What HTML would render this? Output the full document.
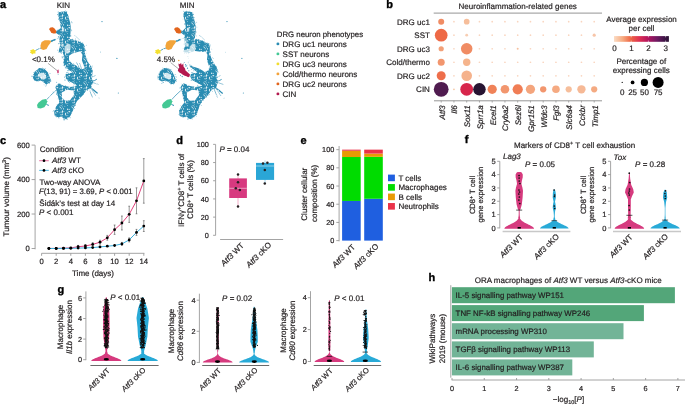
<!DOCTYPE html>
<html><head><meta charset="utf-8"><style>
html,body{margin:0;padding:0;background:#fff;}
svg{display:block;will-change:transform;filter:blur(0.3px);}
svg text{font-family:"Liberation Sans",sans-serif;text-rendering:geometricPrecision;stroke:#231f20;stroke-width:0.2px;}
</style></head><body>
<svg width="685" height="407" viewBox="0 0 685 407">
<rect width="685" height="407" fill="#fff"/>
<text x="0.00" y="8.20" font-size="11" text-anchor="start" font-weight="bold" fill="#000" style="stroke:#000;stroke-width:0.35px">a</text>
<text x="386.20" y="7.60" font-size="11" text-anchor="start" font-weight="bold" fill="#000" style="stroke:#000;stroke-width:0.35px">b</text>
<text x="0.00" y="143.80" font-size="11" text-anchor="start" font-weight="bold" fill="#000" style="stroke:#000;stroke-width:0.35px">c</text>
<text x="176.20" y="143.80" font-size="11" text-anchor="start" font-weight="bold" fill="#000" style="stroke:#000;stroke-width:0.35px">d</text>
<text x="300.50" y="143.80" font-size="11" text-anchor="start" font-weight="bold" fill="#000" style="stroke:#000;stroke-width:0.35px">e</text>
<text x="464.80" y="143.20" font-size="11" text-anchor="start" font-weight="bold" fill="#000" style="stroke:#000;stroke-width:0.35px">f</text>
<text x="57.50" y="293.20" font-size="11" text-anchor="start" font-weight="bold" fill="#000" style="stroke:#000;stroke-width:0.35px">g</text>
<text x="428.50" y="280.50" font-size="11" text-anchor="start" font-weight="bold" fill="#000" style="stroke:#000;stroke-width:0.35px">h</text>
<defs><pattern id="spk" width="12" height="12" patternUnits="userSpaceOnUse"><rect width="12" height="12" fill="#fff"/><circle cx="5.43" cy="6.72" r="0.58" fill="#000"/><circle cx="5.59" cy="6.09" r="0.50" fill="#000"/><circle cx="2.22" cy="6.14" r="0.51" fill="#000"/><circle cx="9.52" cy="1.13" r="0.43" fill="#000"/><circle cx="1.09" cy="9.72" r="0.52" fill="#000"/><circle cx="0.50" cy="11.79" r="0.59" fill="#000"/><circle cx="7.85" cy="7.39" r="0.39" fill="#000"/><circle cx="0.18" cy="6.34" r="0.36" fill="#000"/><circle cx="2.28" cy="2.90" r="0.36" fill="#000"/><circle cx="5.57" cy="5.29" r="0.56" fill="#000"/><circle cx="6.23" cy="7.68" r="0.47" fill="#000"/><circle cx="7.95" cy="5.49" r="0.42" fill="#000"/><circle cx="11.97" cy="11.95" r="0.56" fill="#000"/><circle cx="8.49" cy="3.78" r="0.41" fill="#000"/><circle cx="3.47" cy="0.84" r="0.54" fill="#000"/><circle cx="4.80" cy="10.16" r="0.45" fill="#000"/><circle cx="11.50" cy="10.17" r="0.35" fill="#000"/><circle cx="2.52" cy="10.92" r="0.47" fill="#000"/><circle cx="11.76" cy="4.77" r="0.37" fill="#000"/><circle cx="7.55" cy="9.34" r="0.42" fill="#000"/><circle cx="1.05" cy="3.99" r="0.59" fill="#000"/><circle cx="9.10" cy="1.42" r="0.41" fill="#000"/><circle cx="1.21" cy="0.72" r="0.55" fill="#000"/><circle cx="2.13" cy="6.71" r="0.46" fill="#000"/><circle cx="2.29" cy="8.78" r="0.38" fill="#000"/><circle cx="7.72" cy="1.40" r="0.46" fill="#000"/><circle cx="2.55" cy="3.24" r="0.59" fill="#000"/><circle cx="9.64" cy="3.65" r="0.57" fill="#000"/><circle cx="2.53" cy="4.73" r="0.56" fill="#000"/><circle cx="7.70" cy="1.20" r="0.60" fill="#000"/><circle cx="2.56" cy="3.10" r="0.54" fill="#000"/><circle cx="3.95" cy="3.56" r="0.37" fill="#000"/><circle cx="1.08" cy="6.99" r="0.41" fill="#000"/><circle cx="7.22" cy="4.46" r="0.46" fill="#000"/></pattern><mask id="umask" maskUnits="userSpaceOnUse" x="0" y="0" width="260" height="130"><rect x="0" y="0" width="260" height="130" fill="url(#spk)"/></mask></defs>
<g mask="url(#umask)">
<polygon points="58.40,13.40 59.40,11.90 62.80,11.40 66.70,11.90 67.70,13.90 68.70,17.80 70.20,22.70 70.70,27.70 70.50,33.00 70.00,37.00 69.80,39.00 74.60,40.00 79.10,41.60 83.60,44.10 84.80,46.70 84.80,52.40 85.60,55.50 86.30,58.10 88.20,62.60 91.50,67.10 92.70,71.60 91.50,76.20 90.50,78.10 89.20,83.50 86.50,90.30 82.40,95.70 77.00,101.10 74.30,106.50 73.00,110.50 70.30,116.00 66.20,119.30 63.50,118.60 61.50,116.60 58.10,117.30 54.70,116.00 54.10,111.90 56.10,106.50 59.50,102.40 58.10,97.00 56.80,91.60 55.40,87.60 56.80,84.90 59.50,83.50 63.50,85.80 70.30,87.00 75.70,86.20 77.00,85.50 72.00,82.80 67.00,80.00 65.50,77.00 65.80,74.00 70.00,73.20 72.50,72.50 68.00,69.00 64.50,66.00 63.30,62.60 64.40,57.00 62.70,52.40 59.30,52.40 58.80,50.20 60.50,44.50 59.90,43.40 59.40,39.40 59.90,35.50 57.50,34.00 55.80,32.80 56.30,30.80 58.20,30.20 60.80,27.70 60.40,23.70 58.90,17.80" fill="#2a8cb2" />
<polygon points="69.00,55.80 72.30,53.60 80.20,51.30 82.50,54.70 81.90,60.30 84.80,68.20 81.40,69.40 76.90,66.00 72.30,63.70 69.00,60.30" fill="#fff" />
<polygon points="61.80,92.50 67.00,89.80 73.50,90.60 74.00,95.00 70.00,100.30 65.00,100.80 62.00,97.50" fill="#fff" />
<line x1="85.5" y1="80" x2="70.5" y2="64.5" stroke="#2a8cb2" stroke-width="0.7"/>
<line x1="85.5" y1="80" x2="73.5" y2="63.2" stroke="#2a8cb2" stroke-width="0.6"/>
<line x1="85.5" y1="80" x2="76.5" y2="62.5" stroke="#2a8cb2" stroke-width="0.6"/>
<line x1="85.5" y1="80" x2="79.5" y2="63" stroke="#2a8cb2" stroke-width="0.5"/>
<line x1="85.5" y1="80" x2="95.5" y2="75.5" stroke="#2a8cb2" stroke-width="0.5"/>
<line x1="85.5" y1="80" x2="98.5" y2="84.5" stroke="#2a8cb2" stroke-width="0.5"/>
<line x1="85.5" y1="80" x2="96" y2="96" stroke="#2a8cb2" stroke-width="0.5"/>
<line x1="85.5" y1="80" x2="92.5" y2="97.5" stroke="#2a8cb2" stroke-width="0.6"/>
<line x1="85.5" y1="80" x2="66.5" y2="72.5" stroke="#2a8cb2" stroke-width="0.8"/>
<polygon points="85.50,74.00 91.00,76.00 93.00,82.00 91.00,88.00 86.00,90.00 81.00,86.00 79.00,80.00" fill="#2a8cb2" />
<polygon points="64.80,46.50 67.50,43.50 70.50,44.50 70.50,49.00 69.00,53.00 65.50,53.50 64.40,50.00" fill="#fff" fill-opacity="0.7"/>
<polygon points="61.50,43.50 63.80,43.80 63.60,46.70 61.40,46.50" fill="#fff" fill-opacity="0.7"/>
<polygon points="62.00,27.70 64.30,27.90 64.20,31.60 61.90,31.40" fill="#fff" fill-opacity="0.7"/>
<polyline points="74,35.2 76.5,37 79.5,39.8" fill="none" stroke="#2a8cb2" stroke-width="0.6" stroke-dasharray="0.7 0.6"/>
<polygon points="32.50,76.20 34.70,71.80 39.20,68.10 44.30,68.80 47.30,71.80 49.50,76.20 51.00,80.60 49.50,83.60 45.80,84.30 43.60,82.10 40.60,80.60 37.00,81.40 34.00,79.90" fill="#2a8cb2" />
<polygon points="38.00,74.00 42.00,72.50 45.50,74.50 46.50,78.00 44.00,79.50 40.00,78.00" fill="#fff" fill-opacity="0.8"/>
<polyline points="50.5,41.5 53,40.5 55.5,39.5" fill="none" stroke="#2a8cb2" stroke-width="1.6"/>
<polyline points="55.5,39.5 58,38.4 60,37.5" fill="none" stroke="#2a8cb2" stroke-width="0.5" stroke-dasharray="0.8 0.8"/>
<polyline points="35.5,50.5 38.5,48.9 41,48" fill="none" stroke="#2a8cb2" stroke-width="0.8"/>
<polyline points="46.5,99.8 51,95 56.9,89.5" fill="none" stroke="#2a8cb2" stroke-width="0.7"/>
<polyline points="46.5,104.5 49,105.5" fill="none" stroke="#2a8cb2" stroke-width="1"/>
<polyline points="89,82 94.7,80.5 97,79" fill="none" stroke="#2a8cb2" stroke-width="0.9"/>
<polyline points="88,86 93,89.5 97.7,93.5" fill="none" stroke="#2a8cb2" stroke-width="1.2"/>
<circle cx="102.00" cy="21.60" r="0.60" fill="#2a8cb2"/>
<circle cx="116.90" cy="58.40" r="0.60" fill="#2a8cb2"/>
<circle cx="118.30" cy="93.10" r="0.50" fill="#2a8cb2"/>
<circle cx="100.50" cy="52.00" r="0.40" fill="#2a8cb2"/>
<circle cx="99.00" cy="98.00" r="0.40" fill="#2a8cb2"/>
<polygon points="183.40,13.40 184.40,11.90 187.80,11.40 191.70,11.90 192.70,13.90 193.70,17.80 195.20,22.70 195.70,27.70 195.50,33.00 195.00,37.00 194.80,39.00 199.60,40.00 204.10,41.60 208.60,44.10 209.80,46.70 209.80,52.40 210.60,55.50 211.30,58.10 213.20,62.60 216.50,67.10 217.70,71.60 216.50,76.20 215.50,78.10 214.20,83.50 211.50,90.30 207.40,95.70 202.00,101.10 199.30,106.50 198.00,110.50 195.30,116.00 191.20,119.30 188.50,118.60 186.50,116.60 183.10,117.30 179.70,116.00 179.10,111.90 181.10,106.50 184.50,102.40 183.10,97.00 181.80,91.60 180.40,87.60 181.80,84.90 184.50,83.50 188.50,85.80 195.30,87.00 200.70,86.20 202.00,85.50 197.00,82.80 192.00,80.00 190.50,77.00 190.80,74.00 195.00,73.20 197.50,72.50 193.00,69.00 189.50,66.00 188.30,62.60 189.40,57.00 187.70,52.40 184.30,52.40 183.80,50.20 185.50,44.50 184.90,43.40 184.40,39.40 184.90,35.50 182.50,34.00 180.80,32.80 181.30,30.80 183.20,30.20 185.80,27.70 185.40,23.70 183.90,17.80" fill="#2a8cb2" />
<polygon points="194.00,55.80 197.30,53.60 205.20,51.30 207.50,54.70 206.90,60.30 209.80,68.20 206.40,69.40 201.90,66.00 197.30,63.70 194.00,60.30" fill="#fff" />
<polygon points="186.80,92.50 192.00,89.80 198.50,90.60 199.00,95.00 195.00,100.30 190.00,100.80 187.00,97.50" fill="#fff" />
<line x1="210.5" y1="80" x2="195.5" y2="64.5" stroke="#2a8cb2" stroke-width="0.7"/>
<line x1="210.5" y1="80" x2="198.5" y2="63.2" stroke="#2a8cb2" stroke-width="0.6"/>
<line x1="210.5" y1="80" x2="201.5" y2="62.5" stroke="#2a8cb2" stroke-width="0.6"/>
<line x1="210.5" y1="80" x2="204.5" y2="63" stroke="#2a8cb2" stroke-width="0.5"/>
<line x1="210.5" y1="80" x2="220.5" y2="75.5" stroke="#2a8cb2" stroke-width="0.5"/>
<line x1="210.5" y1="80" x2="223.5" y2="84.5" stroke="#2a8cb2" stroke-width="0.5"/>
<line x1="210.5" y1="80" x2="221" y2="96" stroke="#2a8cb2" stroke-width="0.5"/>
<line x1="210.5" y1="80" x2="217.5" y2="97.5" stroke="#2a8cb2" stroke-width="0.6"/>
<line x1="210.5" y1="80" x2="191.5" y2="72.5" stroke="#2a8cb2" stroke-width="0.8"/>
<polygon points="210.50,74.00 216.00,76.00 218.00,82.00 216.00,88.00 211.00,90.00 206.00,86.00 204.00,80.00" fill="#2a8cb2" />
<polygon points="188.00,53.50 195.00,51.00 203.00,52.00 206.00,55.00 207.00,62.00 209.00,70.00 205.00,72.00 199.00,68.50 193.00,66.50 189.00,63.50 187.50,58.00" fill="#fff" />
<polygon points="189.80,46.50 192.50,43.50 195.50,44.50 195.50,49.00 194.00,53.00 190.50,53.50 189.40,50.00" fill="#fff" fill-opacity="0.7"/>
<polygon points="186.50,43.50 188.80,43.80 188.60,46.70 186.40,46.50" fill="#fff" fill-opacity="0.7"/>
<polygon points="187.00,27.70 189.30,27.90 189.20,31.60 186.90,31.40" fill="#fff" fill-opacity="0.7"/>
<polyline points="199,35.2 201.5,37 204.5,39.8" fill="none" stroke="#2a8cb2" stroke-width="0.6" stroke-dasharray="0.7 0.6"/>
<polygon points="157.50,76.20 159.70,71.80 164.20,68.10 169.30,68.80 172.30,71.80 174.50,76.20 176.00,80.60 174.50,83.60 170.80,84.30 168.60,82.10 165.60,80.60 162.00,81.40 159.00,79.90" fill="#2a8cb2" />
<polygon points="163.00,74.00 167.00,72.50 170.50,74.50 171.50,78.00 169.00,79.50 165.00,78.00" fill="#fff" fill-opacity="0.8"/>
<polyline points="175.5,41.5 178,40.5 180.5,39.5" fill="none" stroke="#2a8cb2" stroke-width="1.6"/>
<polyline points="180.5,39.5 183,38.4 185,37.5" fill="none" stroke="#2a8cb2" stroke-width="0.5" stroke-dasharray="0.8 0.8"/>
<polyline points="160.5,50.5 163.5,48.9 166,48" fill="none" stroke="#2a8cb2" stroke-width="0.8"/>
<polyline points="171.5,99.8 176,95 181.9,89.5" fill="none" stroke="#2a8cb2" stroke-width="0.7"/>
<polyline points="171.5,104.5 174,105.5" fill="none" stroke="#2a8cb2" stroke-width="1"/>
<polyline points="214,82 219.7,80.5 222,79" fill="none" stroke="#2a8cb2" stroke-width="0.9"/>
<polyline points="213,86 218,89.5 222.7,93.5" fill="none" stroke="#2a8cb2" stroke-width="1.2"/>
<circle cx="227.00" cy="21.60" r="0.60" fill="#2a8cb2"/>
<circle cx="241.90" cy="58.40" r="0.60" fill="#2a8cb2"/>
<circle cx="243.30" cy="93.10" r="0.50" fill="#2a8cb2"/>
<circle cx="225.50" cy="52.00" r="0.40" fill="#2a8cb2"/>
<circle cx="224.00" cy="98.00" r="0.40" fill="#2a8cb2"/>
<g fill="#2a8cb2"><circle cx="58.2" cy="12.1" r="0.52"/><circle cx="61.1" cy="13.4" r="0.50"/><circle cx="60.8" cy="13.1" r="0.54"/><circle cx="65.3" cy="10.9" r="0.45"/><circle cx="64.6" cy="11.8" r="0.54"/><circle cx="66.7" cy="11.7" r="0.51"/><circle cx="68.1" cy="16.8" r="0.48"/><circle cx="67.9" cy="15.3" r="0.51"/><circle cx="69.2" cy="22.8" r="0.35"/><circle cx="68.6" cy="18.9" r="0.32"/><circle cx="68.2" cy="19.5" r="0.33"/><circle cx="72.3" cy="22.9" r="0.46"/><circle cx="70.1" cy="25.9" r="0.31"/><circle cx="71.4" cy="22.0" r="0.54"/><circle cx="70.0" cy="27.0" r="0.48"/><circle cx="71.0" cy="29.4" r="0.44"/><circle cx="71.7" cy="30.7" r="0.48"/><circle cx="70.8" cy="35.7" r="0.47"/><circle cx="70.7" cy="35.9" r="0.50"/><circle cx="68.7" cy="38.2" r="0.40"/><circle cx="72.3" cy="39.4" r="0.46"/><circle cx="75.6" cy="39.0" r="0.40"/><circle cx="72.5" cy="39.3" r="0.51"/><circle cx="75.0" cy="39.9" r="0.45"/><circle cx="76.9" cy="42.2" r="0.42"/><circle cx="78.0" cy="40.7" r="0.30"/><circle cx="80.2" cy="41.8" r="0.34"/><circle cx="82.7" cy="43.0" r="0.52"/><circle cx="80.3" cy="41.9" r="0.41"/><circle cx="86.2" cy="45.2" r="0.40"/><circle cx="84.1" cy="46.1" r="0.42"/><circle cx="85.6" cy="50.3" r="0.54"/><circle cx="85.3" cy="49.1" r="0.37"/><circle cx="83.7" cy="48.6" r="0.42"/><circle cx="86.4" cy="51.2" r="0.41"/><circle cx="86.7" cy="53.0" r="0.31"/><circle cx="85.4" cy="57.0" r="0.50"/><circle cx="87.0" cy="58.9" r="0.31"/><circle cx="87.9" cy="62.3" r="0.31"/><circle cx="86.3" cy="61.4" r="0.46"/><circle cx="92.2" cy="65.9" r="0.35"/><circle cx="89.8" cy="64.9" r="0.42"/><circle cx="90.9" cy="66.5" r="0.39"/><circle cx="91.1" cy="70.1" r="0.49"/><circle cx="92.5" cy="67.0" r="0.32"/><circle cx="92.5" cy="70.8" r="0.41"/><circle cx="92.7" cy="74.0" r="0.44"/><circle cx="92.3" cy="73.6" r="0.42"/><circle cx="92.3" cy="76.0" r="0.50"/><circle cx="90.7" cy="76.8" r="0.52"/><circle cx="90.3" cy="83.2" r="0.50"/><circle cx="91.6" cy="78.9" r="0.39"/><circle cx="89.3" cy="79.0" r="0.49"/><circle cx="89.5" cy="87.1" r="0.32"/><circle cx="87.4" cy="89.7" r="0.50"/><circle cx="89.5" cy="85.3" r="0.48"/><circle cx="86.1" cy="87.2" r="0.42"/><circle cx="87.2" cy="90.3" r="0.43"/><circle cx="85.1" cy="90.6" r="0.43"/><circle cx="82.3" cy="94.6" r="0.40"/><circle cx="83.5" cy="94.5" r="0.51"/><circle cx="81.4" cy="95.4" r="0.35"/><circle cx="78.3" cy="98.6" r="0.31"/><circle cx="76.3" cy="100.8" r="0.50"/><circle cx="78.0" cy="98.8" r="0.32"/><circle cx="77.6" cy="99.8" r="0.53"/><circle cx="80.5" cy="97.2" r="0.41"/><circle cx="75.6" cy="104.9" r="0.38"/><circle cx="75.0" cy="100.8" r="0.33"/><circle cx="75.5" cy="105.4" r="0.36"/><circle cx="74.8" cy="105.6" r="0.45"/><circle cx="74.1" cy="106.5" r="0.43"/><circle cx="74.3" cy="108.5" r="0.41"/><circle cx="71.0" cy="113.1" r="0.34"/><circle cx="71.6" cy="110.7" r="0.43"/><circle cx="69.3" cy="114.0" r="0.36"/><circle cx="71.7" cy="112.8" r="0.38"/><circle cx="69.6" cy="116.7" r="0.55"/><circle cx="67.1" cy="119.4" r="0.48"/><circle cx="70.6" cy="117.8" r="0.41"/><circle cx="64.7" cy="119.4" r="0.47"/><circle cx="63.9" cy="119.9" r="0.53"/><circle cx="59.0" cy="118.0" r="0.49"/><circle cx="59.6" cy="116.4" r="0.32"/><circle cx="58.8" cy="117.4" r="0.43"/><circle cx="56.5" cy="117.0" r="0.35"/><circle cx="56.3" cy="112.4" r="0.32"/><circle cx="55.6" cy="115.4" r="0.49"/><circle cx="53.7" cy="110.4" r="0.41"/><circle cx="56.7" cy="108.8" r="0.51"/><circle cx="53.0" cy="111.3" r="0.40"/><circle cx="55.0" cy="111.8" r="0.30"/><circle cx="59.6" cy="101.5" r="0.52"/><circle cx="57.2" cy="104.6" r="0.43"/><circle cx="59.7" cy="101.8" r="0.53"/><circle cx="58.7" cy="96.8" r="0.40"/><circle cx="59.3" cy="96.6" r="0.49"/><circle cx="57.2" cy="99.1" r="0.32"/><circle cx="57.5" cy="95.2" r="0.39"/><circle cx="56.8" cy="93.1" r="0.54"/><circle cx="56.5" cy="94.5" r="0.44"/><circle cx="53.1" cy="91.9" r="0.46"/><circle cx="56.0" cy="86.3" r="0.31"/><circle cx="56.2" cy="85.2" r="0.40"/><circle cx="55.8" cy="88.3" r="0.32"/><circle cx="58.4" cy="83.9" r="0.43"/><circle cx="56.7" cy="82.3" r="0.46"/><circle cx="63.8" cy="85.9" r="0.49"/><circle cx="60.2" cy="83.4" r="0.42"/><circle cx="58.9" cy="83.9" r="0.31"/><circle cx="69.0" cy="87.5" r="0.45"/><circle cx="65.7" cy="87.5" r="0.44"/><circle cx="65.3" cy="85.4" r="0.30"/><circle cx="65.7" cy="86.2" r="0.49"/><circle cx="73.6" cy="85.8" r="0.31"/><circle cx="76.0" cy="86.1" r="0.53"/><circle cx="70.2" cy="87.0" r="0.36"/><circle cx="77.7" cy="85.3" r="0.42"/><circle cx="72.6" cy="81.7" r="0.33"/><circle cx="73.3" cy="84.0" r="0.31"/><circle cx="75.1" cy="84.8" r="0.47"/><circle cx="69.6" cy="82.7" r="0.40"/><circle cx="65.0" cy="80.0" r="0.54"/><circle cx="68.4" cy="81.2" r="0.52"/><circle cx="67.5" cy="80.0" r="0.37"/><circle cx="64.9" cy="77.5" r="0.46"/><circle cx="66.1" cy="78.4" r="0.54"/><circle cx="66.0" cy="74.1" r="0.32"/><circle cx="64.5" cy="76.8" r="0.33"/><circle cx="68.4" cy="73.7" r="0.47"/><circle cx="67.5" cy="72.9" r="0.42"/><circle cx="69.7" cy="74.3" r="0.51"/><circle cx="73.4" cy="73.4" r="0.46"/><circle cx="69.3" cy="70.7" r="0.36"/><circle cx="68.0" cy="70.6" r="0.55"/><circle cx="65.4" cy="67.6" r="0.53"/><circle cx="66.2" cy="68.0" r="0.52"/><circle cx="68.7" cy="69.3" r="0.42"/><circle cx="63.2" cy="65.2" r="0.32"/><circle cx="64.0" cy="65.0" r="0.38"/><circle cx="63.8" cy="57.9" r="0.34"/><circle cx="63.6" cy="59.7" r="0.33"/><circle cx="62.3" cy="57.8" r="0.53"/><circle cx="61.3" cy="53.4" r="0.38"/><circle cx="62.2" cy="56.8" r="0.52"/><circle cx="63.4" cy="56.5" r="0.39"/><circle cx="60.9" cy="52.8" r="0.44"/><circle cx="58.3" cy="52.0" r="0.44"/><circle cx="59.3" cy="50.2" r="0.37"/><circle cx="57.7" cy="50.0" r="0.44"/><circle cx="59.5" cy="43.4" r="0.32"/><circle cx="59.8" cy="46.7" r="0.32"/><circle cx="60.4" cy="45.8" r="0.46"/><circle cx="60.4" cy="43.0" r="0.36"/><circle cx="59.9" cy="41.4" r="0.49"/><circle cx="58.5" cy="43.8" r="0.47"/><circle cx="58.2" cy="37.1" r="0.48"/><circle cx="58.4" cy="36.7" r="0.47"/><circle cx="58.4" cy="32.6" r="0.52"/><circle cx="55.2" cy="32.0" r="0.48"/><circle cx="55.4" cy="31.6" r="0.34"/><circle cx="58.6" cy="30.3" r="0.34"/><circle cx="58.1" cy="30.0" r="0.54"/><circle cx="58.2" cy="30.5" r="0.46"/><circle cx="60.6" cy="24.9" r="0.41"/><circle cx="60.8" cy="25.2" r="0.33"/><circle cx="60.3" cy="23.3" r="0.48"/><circle cx="59.6" cy="20.8" r="0.37"/><circle cx="60.2" cy="21.9" r="0.44"/><circle cx="58.5" cy="19.0" r="0.52"/><circle cx="57.8" cy="14.7" r="0.54"/><circle cx="58.7" cy="16.0" r="0.54"/><circle cx="57.7" cy="15.0" r="0.43"/><circle cx="34.4" cy="74.9" r="0.36"/><circle cx="31.7" cy="76.3" r="0.50"/><circle cx="33.7" cy="72.7" r="0.34"/><circle cx="36.0" cy="72.4" r="0.43"/><circle cx="38.3" cy="69.4" r="0.43"/><circle cx="35.4" cy="71.2" r="0.51"/><circle cx="38.7" cy="68.3" r="0.37"/><circle cx="43.7" cy="69.2" r="0.42"/><circle cx="42.6" cy="67.8" r="0.38"/><circle cx="41.5" cy="69.7" r="0.32"/><circle cx="47.1" cy="72.4" r="0.43"/><circle cx="45.2" cy="68.6" r="0.38"/><circle cx="47.1" cy="73.1" r="0.48"/><circle cx="47.9" cy="73.0" r="0.40"/><circle cx="50.0" cy="73.5" r="0.46"/><circle cx="48.5" cy="77.2" r="0.36"/><circle cx="50.2" cy="78.7" r="0.55"/><circle cx="51.0" cy="80.9" r="0.37"/><circle cx="49.7" cy="81.5" r="0.38"/><circle cx="50.1" cy="81.2" r="0.35"/><circle cx="45.8" cy="86.0" r="0.44"/><circle cx="46.0" cy="85.6" r="0.32"/><circle cx="46.6" cy="84.7" r="0.48"/><circle cx="44.0" cy="84.9" r="0.45"/><circle cx="43.4" cy="82.5" r="0.33"/><circle cx="44.2" cy="82.4" r="0.41"/><circle cx="37.8" cy="79.8" r="0.51"/><circle cx="38.8" cy="81.7" r="0.30"/><circle cx="35.0" cy="78.4" r="0.50"/><circle cx="34.9" cy="80.3" r="0.38"/><circle cx="33.2" cy="78.3" r="0.39"/><circle cx="33.6" cy="76.4" r="0.45"/></g>
<g fill="#2a8cb2"><circle cx="183.8" cy="11.2" r="0.44"/><circle cx="185.1" cy="11.7" r="0.48"/><circle cx="186.3" cy="11.3" r="0.51"/><circle cx="189.8" cy="11.1" r="0.35"/><circle cx="188.2" cy="12.6" r="0.47"/><circle cx="192.8" cy="12.2" r="0.42"/><circle cx="193.3" cy="14.3" r="0.53"/><circle cx="192.2" cy="15.6" r="0.37"/><circle cx="196.7" cy="22.2" r="0.45"/><circle cx="194.2" cy="17.7" r="0.52"/><circle cx="192.5" cy="18.2" r="0.35"/><circle cx="195.7" cy="25.5" r="0.35"/><circle cx="196.9" cy="27.1" r="0.38"/><circle cx="195.5" cy="25.2" r="0.45"/><circle cx="196.1" cy="32.0" r="0.42"/><circle cx="194.8" cy="29.2" r="0.34"/><circle cx="195.5" cy="31.6" r="0.38"/><circle cx="196.5" cy="35.9" r="0.34"/><circle cx="194.2" cy="36.2" r="0.40"/><circle cx="194.3" cy="36.8" r="0.49"/><circle cx="198.8" cy="39.4" r="0.51"/><circle cx="195.7" cy="39.9" r="0.53"/><circle cx="196.4" cy="39.4" r="0.53"/><circle cx="202.4" cy="41.0" r="0.53"/><circle cx="201.7" cy="40.3" r="0.38"/><circle cx="202.7" cy="41.1" r="0.41"/><circle cx="206.1" cy="43.0" r="0.47"/><circle cx="206.5" cy="43.7" r="0.40"/><circle cx="207.0" cy="43.0" r="0.54"/><circle cx="210.0" cy="45.1" r="0.50"/><circle cx="208.8" cy="43.5" r="0.53"/><circle cx="209.9" cy="46.8" r="0.43"/><circle cx="210.5" cy="52.1" r="0.37"/><circle cx="211.6" cy="49.3" r="0.50"/><circle cx="209.4" cy="54.6" r="0.31"/><circle cx="210.4" cy="52.0" r="0.42"/><circle cx="212.3" cy="57.8" r="0.35"/><circle cx="213.6" cy="58.5" r="0.35"/><circle cx="212.3" cy="62.7" r="0.34"/><circle cx="213.6" cy="62.0" r="0.46"/><circle cx="214.0" cy="63.3" r="0.33"/><circle cx="214.9" cy="67.6" r="0.52"/><circle cx="216.5" cy="66.9" r="0.53"/><circle cx="217.6" cy="69.4" r="0.38"/><circle cx="217.5" cy="70.8" r="0.36"/><circle cx="217.5" cy="69.2" r="0.47"/><circle cx="216.1" cy="75.3" r="0.38"/><circle cx="216.2" cy="75.2" r="0.46"/><circle cx="218.6" cy="71.9" r="0.43"/><circle cx="217.1" cy="77.6" r="0.37"/><circle cx="215.3" cy="79.1" r="0.37"/><circle cx="214.5" cy="82.9" r="0.44"/><circle cx="217.4" cy="77.5" r="0.31"/><circle cx="213.0" cy="85.8" r="0.53"/><circle cx="213.3" cy="87.9" r="0.46"/><circle cx="212.4" cy="84.6" r="0.43"/><circle cx="213.6" cy="85.8" r="0.43"/><circle cx="212.4" cy="91.4" r="0.34"/><circle cx="209.1" cy="94.5" r="0.49"/><circle cx="208.4" cy="93.9" r="0.42"/><circle cx="209.7" cy="91.0" r="0.31"/><circle cx="208.8" cy="92.4" r="0.52"/><circle cx="206.5" cy="96.8" r="0.42"/><circle cx="204.4" cy="98.3" r="0.50"/><circle cx="208.0" cy="95.4" r="0.44"/><circle cx="203.2" cy="100.5" r="0.38"/><circle cx="206.7" cy="97.1" r="0.43"/><circle cx="201.0" cy="102.3" r="0.51"/><circle cx="201.5" cy="102.6" r="0.47"/><circle cx="199.8" cy="105.3" r="0.40"/><circle cx="201.5" cy="105.4" r="0.31"/><circle cx="198.8" cy="105.8" r="0.34"/><circle cx="198.7" cy="108.1" r="0.36"/><circle cx="196.2" cy="116.1" r="0.37"/><circle cx="197.1" cy="112.9" r="0.55"/><circle cx="195.9" cy="114.1" r="0.36"/><circle cx="196.6" cy="114.5" r="0.53"/><circle cx="192.5" cy="119.4" r="0.45"/><circle cx="194.1" cy="116.9" r="0.31"/><circle cx="193.3" cy="115.4" r="0.45"/><circle cx="187.9" cy="118.9" r="0.51"/><circle cx="187.9" cy="117.2" r="0.39"/><circle cx="185.4" cy="116.6" r="0.35"/><circle cx="185.0" cy="116.9" r="0.41"/><circle cx="179.0" cy="114.4" r="0.35"/><circle cx="183.0" cy="117.4" r="0.39"/><circle cx="180.1" cy="114.9" r="0.37"/><circle cx="180.7" cy="113.7" r="0.37"/><circle cx="181.0" cy="111.7" r="0.39"/><circle cx="180.3" cy="105.8" r="0.31"/><circle cx="179.5" cy="110.4" r="0.52"/><circle cx="179.9" cy="109.1" r="0.31"/><circle cx="182.5" cy="105.1" r="0.34"/><circle cx="183.9" cy="104.2" r="0.41"/><circle cx="183.9" cy="105.3" r="0.37"/><circle cx="183.2" cy="98.0" r="0.35"/><circle cx="183.9" cy="100.0" r="0.40"/><circle cx="183.4" cy="98.5" r="0.39"/><circle cx="183.0" cy="95.9" r="0.46"/><circle cx="183.2" cy="91.7" r="0.37"/><circle cx="182.8" cy="93.1" r="0.47"/><circle cx="182.6" cy="88.4" r="0.36"/><circle cx="181.7" cy="89.6" r="0.40"/><circle cx="179.9" cy="88.0" r="0.42"/><circle cx="181.3" cy="87.6" r="0.42"/><circle cx="181.9" cy="84.1" r="0.32"/><circle cx="182.3" cy="84.7" r="0.45"/><circle cx="186.0" cy="84.7" r="0.31"/><circle cx="185.9" cy="84.6" r="0.40"/><circle cx="183.5" cy="83.7" r="0.42"/><circle cx="190.7" cy="86.4" r="0.39"/><circle cx="193.9" cy="86.6" r="0.47"/><circle cx="188.5" cy="86.3" r="0.54"/><circle cx="189.1" cy="85.2" r="0.49"/><circle cx="198.0" cy="85.9" r="0.40"/><circle cx="197.7" cy="85.2" r="0.40"/><circle cx="200.7" cy="86.4" r="0.43"/><circle cx="199.5" cy="87.9" r="0.34"/><circle cx="201.2" cy="86.3" r="0.36"/><circle cx="201.1" cy="85.3" r="0.36"/><circle cx="198.9" cy="83.2" r="0.46"/><circle cx="195.4" cy="79.2" r="0.38"/><circle cx="195.9" cy="81.3" r="0.48"/><circle cx="192.6" cy="78.7" r="0.51"/><circle cx="195.4" cy="81.6" r="0.44"/><circle cx="191.1" cy="80.4" r="0.43"/><circle cx="191.6" cy="80.1" r="0.34"/><circle cx="190.9" cy="75.7" r="0.32"/><circle cx="190.4" cy="76.3" r="0.41"/><circle cx="193.5" cy="73.4" r="0.52"/><circle cx="195.1" cy="73.5" r="0.43"/><circle cx="195.9" cy="73.5" r="0.36"/><circle cx="193.9" cy="70.7" r="0.49"/><circle cx="194.3" cy="68.5" r="0.41"/><circle cx="193.1" cy="68.8" r="0.50"/><circle cx="191.6" cy="69.6" r="0.36"/><circle cx="193.5" cy="68.5" r="0.54"/><circle cx="190.5" cy="67.1" r="0.40"/><circle cx="187.1" cy="65.1" r="0.55"/><circle cx="189.3" cy="65.4" r="0.31"/><circle cx="188.3" cy="58.2" r="0.33"/><circle cx="189.8" cy="60.9" r="0.42"/><circle cx="188.1" cy="62.0" r="0.51"/><circle cx="187.9" cy="56.5" r="0.49"/><circle cx="186.7" cy="53.4" r="0.44"/><circle cx="188.4" cy="53.8" r="0.33"/><circle cx="184.5" cy="53.4" r="0.33"/><circle cx="187.8" cy="52.5" r="0.34"/><circle cx="183.9" cy="51.7" r="0.42"/><circle cx="184.4" cy="48.4" r="0.32"/><circle cx="185.2" cy="45.5" r="0.35"/><circle cx="185.2" cy="47.4" r="0.52"/><circle cx="183.2" cy="48.3" r="0.40"/><circle cx="184.2" cy="44.0" r="0.46"/><circle cx="186.4" cy="41.6" r="0.55"/><circle cx="185.4" cy="40.4" r="0.34"/><circle cx="184.6" cy="39.7" r="0.32"/><circle cx="184.6" cy="37.2" r="0.43"/><circle cx="185.4" cy="37.7" r="0.30"/><circle cx="182.2" cy="31.9" r="0.48"/><circle cx="181.6" cy="30.4" r="0.49"/><circle cx="185.0" cy="31.5" r="0.40"/><circle cx="185.0" cy="30.4" r="0.31"/><circle cx="184.8" cy="29.6" r="0.39"/><circle cx="185.9" cy="24.3" r="0.46"/><circle cx="185.3" cy="28.2" r="0.38"/><circle cx="184.5" cy="24.4" r="0.35"/><circle cx="183.0" cy="18.9" r="0.34"/><circle cx="185.8" cy="23.7" r="0.41"/><circle cx="184.5" cy="23.6" r="0.38"/><circle cx="184.2" cy="15.3" r="0.52"/><circle cx="183.8" cy="16.0" r="0.55"/><circle cx="184.3" cy="15.8" r="0.40"/><circle cx="159.4" cy="73.7" r="0.47"/><circle cx="159.3" cy="72.5" r="0.39"/><circle cx="160.4" cy="72.9" r="0.39"/><circle cx="162.9" cy="70.6" r="0.52"/><circle cx="162.8" cy="67.9" r="0.44"/><circle cx="160.9" cy="70.2" r="0.41"/><circle cx="161.9" cy="69.8" r="0.36"/><circle cx="166.3" cy="68.0" r="0.31"/><circle cx="166.3" cy="68.9" r="0.45"/><circle cx="169.5" cy="69.6" r="0.55"/><circle cx="170.9" cy="72.4" r="0.55"/><circle cx="170.8" cy="69.7" r="0.55"/><circle cx="173.6" cy="75.7" r="0.46"/><circle cx="175.1" cy="74.5" r="0.43"/><circle cx="176.2" cy="76.9" r="0.48"/><circle cx="175.2" cy="76.4" r="0.43"/><circle cx="176.0" cy="80.7" r="0.46"/><circle cx="173.1" cy="76.0" r="0.42"/><circle cx="176.2" cy="79.6" r="0.49"/><circle cx="176.5" cy="81.4" r="0.34"/><circle cx="173.3" cy="84.0" r="0.39"/><circle cx="171.5" cy="83.8" r="0.35"/><circle cx="170.7" cy="82.4" r="0.53"/><circle cx="171.3" cy="84.1" r="0.46"/><circle cx="165.9" cy="80.2" r="0.47"/><circle cx="168.1" cy="81.5" r="0.38"/><circle cx="163.1" cy="82.3" r="0.47"/><circle cx="165.9" cy="81.7" r="0.42"/><circle cx="163.2" cy="82.6" r="0.45"/><circle cx="161.9" cy="83.6" r="0.47"/><circle cx="157.4" cy="77.8" r="0.40"/><circle cx="158.1" cy="78.7" r="0.51"/></g>
</g>
<polygon points="183.60,50.00 189.00,49.00 193.50,54.00 195.50,60.00 194.00,65.00 188.00,66.50 184.00,63.00 183.30,56.00" fill="#fff" fill-opacity="0.7"/>
<polygon points="184.00,38.00 187.00,37.50 187.50,46.00 185.00,47.00 184.00,43.00" fill="#fff" fill-opacity="0.4"/>
<polygon points="49.00,29.00 50.50,27.60 52.80,27.30 54.80,28.80 56.50,31.40 55.60,33.60 53.00,33.60 51.00,32.20" fill="#e2641c" />
<polygon points="40.40,45.80 41.60,42.10 44.70,40.30 49.00,40.30 51.40,40.90 50.20,43.30 48.30,45.80 46.50,48.90 43.40,50.10 41.00,48.90" fill="#f2a43a" />
<polygon points="30.10,50.30 32.00,49.80 33.30,48.90 34.20,50.00 36.20,50.40 35.30,51.80 35.60,53.60 33.50,53.40 32.20,54.60 31.30,53.20 29.80,52.60 30.80,51.50" fill="#f4e030" />
<polygon points="37.00,105.00 38.40,102.80 42.10,99.80 45.80,99.10 47.30,101.30 46.50,104.20 44.30,107.20 40.60,108.40 37.70,107.90" fill="#44c894" />
<polygon points="174.00,29.00 175.50,27.60 177.80,27.30 179.80,28.80 181.50,31.40 180.60,33.60 178.00,33.60 176.00,32.20" fill="#e2641c" />
<polygon points="165.40,45.80 166.60,42.10 169.70,40.30 174.00,40.30 176.40,40.90 175.20,43.30 173.30,45.80 171.50,48.90 168.40,50.10 166.00,48.90" fill="#f2a43a" />
<polygon points="155.10,50.30 157.00,49.80 158.30,48.90 159.20,50.00 161.20,50.40 160.30,51.80 160.60,53.60 158.50,53.40 157.20,54.60 156.30,53.20 154.80,52.60 155.80,51.50" fill="#f4e030" />
<polygon points="162.00,105.00 163.40,102.80 167.10,99.80 170.80,99.10 172.30,101.30 171.50,104.20 169.30,107.20 165.60,108.40 162.70,107.90" fill="#44c894" />
<text x="63.40" y="8.40" font-size="8" text-anchor="middle" fill="#231f20" >KIN</text>
<text x="187.10" y="8.40" font-size="8" text-anchor="middle" fill="#231f20" >MIN</text>
<text x="31.90" y="61.90" font-size="8" text-anchor="start" fill="#231f20" >&lt;0.1%</text>
<line x1="48.00" y1="63.30" x2="57.40" y2="70.80" stroke="#555" stroke-width="0.5" />
<ellipse cx="58.0" cy="71.8" rx="0.7" ry="1.7" fill="#c2185b"/>
<circle cx="57.30" cy="70.20" r="0.45" fill="#c2185b"/>
<circle cx="58.70" cy="70.00" r="0.45" fill="#c2185b"/>
<circle cx="58.10" cy="74.50" r="0.40" fill="#2a8cb2"/>
<text x="156.80" y="61.80" font-size="8" text-anchor="start" fill="#231f20" >4.5%</text>
<line x1="170.70" y1="62.60" x2="179.20" y2="69.40" stroke="#555" stroke-width="0.5" />
<circle cx="186.00" cy="66.00" r="0.70" fill="#2a8cb2"/>
<circle cx="187.50" cy="68.20" r="0.60" fill="#2a8cb2"/>
<circle cx="185.60" cy="64.60" r="0.50" fill="#2a8cb2"/>
<circle cx="182.20" cy="76.60" r="0.60" fill="#2a8cb2"/>
<circle cx="188.80" cy="70.80" r="0.50" fill="#2a8cb2"/>
<circle cx="184.20" cy="62.50" r="0.45" fill="#2a8cb2"/>
<circle cx="180.50" cy="75.20" r="0.50" fill="#2a8cb2"/>
<polygon points="178.50,63.50 180.00,64.30 181.00,62.80 181.80,65.20 183.30,63.20 183.50,66.50 185.00,68.50 185.50,70.50 187.80,72.40 190.00,74.60 189.50,76.50 188.20,77.20 186.50,76.20 184.70,75.80 182.50,74.50 181.30,73.50 179.00,72.30 177.80,70.50 178.30,69.00 179.30,67.50 178.60,65.50" fill="#b41950" />
<circle cx="178.80" cy="60.50" r="0.80" fill="#f2a43a"/>
<text x="276.80" y="37.20" font-size="7.8" text-anchor="start" fill="#231f20" >DRG neuron phenotypes</text>
<circle cx="277.90" cy="43.90" r="1.45" fill="#2a8cb3"/>
<text x="282.60" y="46.60" font-size="8" text-anchor="start" fill="#231f20" >DRG uc1 neurons</text>
<circle cx="277.90" cy="53.90" r="1.45" fill="#43c896"/>
<text x="282.60" y="56.60" font-size="8" text-anchor="start" fill="#231f20" >SST neurons</text>
<circle cx="277.90" cy="63.90" r="1.45" fill="#f2dc2e"/>
<text x="282.60" y="66.60" font-size="8" text-anchor="start" fill="#231f20" >DRG uc3 neurons</text>
<circle cx="277.90" cy="73.90" r="1.45" fill="#f3a23a"/>
<text x="282.60" y="76.60" font-size="8" text-anchor="start" fill="#231f20" >Cold/thermo neurons</text>
<circle cx="277.90" cy="83.90" r="1.45" fill="#e2641c"/>
<text x="282.60" y="86.60" font-size="8" text-anchor="start" fill="#231f20" >DRG uc2 neurons</text>
<circle cx="277.90" cy="93.90" r="1.45" fill="#b3194f"/>
<text x="282.60" y="96.60" font-size="8" text-anchor="start" fill="#231f20" >CIN</text>
<text x="517.70" y="9.30" font-size="8" text-anchor="middle" fill="#231f20" >Neuroinflammation-related genes</text>
<line x1="433.70" y1="13.10" x2="602.00" y2="13.10" stroke="#7a7a7a" stroke-width="0.8" />
<text x="429.90" y="24.50" font-size="8" text-anchor="end" fill="#231f20" >DRG uc1</text>
<text x="429.90" y="38.02" font-size="8" text-anchor="end" fill="#231f20" >SST</text>
<text x="429.90" y="51.54" font-size="8" text-anchor="end" fill="#231f20" >DRG uc3</text>
<text x="429.90" y="65.06" font-size="8" text-anchor="end" fill="#231f20" >Cold/thermo</text>
<text x="429.90" y="78.58" font-size="8" text-anchor="end" fill="#231f20" >DRG uc2</text>
<text x="429.90" y="92.10" font-size="8" text-anchor="end" fill="#231f20" >CIN</text>
<circle cx="441.20" cy="21.70" r="3.00" fill="#f08c64"/>
<circle cx="453.95" cy="21.70" r="0.85" fill="#f9d5bf"/>
<circle cx="466.70" cy="21.70" r="2.85" fill="#f6be9b"/>
<circle cx="479.45" cy="21.70" r="0.85" fill="#f9d5bf"/>
<circle cx="492.20" cy="21.70" r="0.85" fill="#f9d5bf"/>
<circle cx="504.95" cy="21.70" r="0.85" fill="#f9d5bf"/>
<circle cx="517.70" cy="21.70" r="0.85" fill="#f9d5bf"/>
<circle cx="530.45" cy="21.70" r="0.85" fill="#f9d5bf"/>
<circle cx="543.20" cy="21.70" r="0.85" fill="#f9d5bf"/>
<circle cx="555.95" cy="21.70" r="0.85" fill="#f9d5bf"/>
<circle cx="568.70" cy="21.70" r="0.85" fill="#f9d5bf"/>
<circle cx="581.45" cy="21.70" r="0.85" fill="#f9d5bf"/>
<circle cx="594.20" cy="21.70" r="0.85" fill="#f9d5bf"/>
<circle cx="441.20" cy="35.22" r="6.35" fill="#ee6946"/>
<circle cx="453.95" cy="35.22" r="0.85" fill="#f9d5bf"/>
<circle cx="466.70" cy="35.22" r="1.40" fill="#f8cdb2"/>
<circle cx="479.45" cy="35.22" r="0.85" fill="#f9d5bf"/>
<circle cx="492.20" cy="35.22" r="0.85" fill="#f9d5bf"/>
<circle cx="504.95" cy="35.22" r="0.85" fill="#f9d5bf"/>
<circle cx="517.70" cy="35.22" r="0.85" fill="#f9d5bf"/>
<circle cx="530.45" cy="35.22" r="0.85" fill="#f9d5bf"/>
<circle cx="543.20" cy="35.22" r="0.85" fill="#f9d5bf"/>
<circle cx="555.95" cy="35.22" r="0.85" fill="#f9d5bf"/>
<circle cx="568.70" cy="35.22" r="0.85" fill="#f9d5bf"/>
<circle cx="581.45" cy="35.22" r="0.85" fill="#f9d5bf"/>
<circle cx="594.20" cy="35.22" r="1.60" fill="#f7c5a8"/>
<circle cx="441.20" cy="48.74" r="2.60" fill="#f2a078"/>
<circle cx="453.95" cy="48.74" r="0.85" fill="#f9d5bf"/>
<circle cx="466.70" cy="48.74" r="5.75" fill="#f08c64"/>
<circle cx="479.45" cy="48.74" r="0.85" fill="#f9d5bf"/>
<circle cx="492.20" cy="48.74" r="0.85" fill="#f9d5bf"/>
<circle cx="504.95" cy="48.74" r="0.85" fill="#f9d5bf"/>
<circle cx="517.70" cy="48.74" r="1.00" fill="#f6c0a0"/>
<circle cx="530.45" cy="48.74" r="0.85" fill="#f9d5bf"/>
<circle cx="543.20" cy="48.74" r="0.85" fill="#f9d5bf"/>
<circle cx="555.95" cy="48.74" r="0.85" fill="#f9d5bf"/>
<circle cx="568.70" cy="48.74" r="0.85" fill="#f9d5bf"/>
<circle cx="581.45" cy="48.74" r="0.85" fill="#f9d5bf"/>
<circle cx="594.20" cy="48.74" r="0.85" fill="#f9d5bf"/>
<circle cx="441.20" cy="62.26" r="3.50" fill="#f2966e"/>
<circle cx="453.95" cy="62.26" r="0.85" fill="#f9d5bf"/>
<circle cx="466.70" cy="62.26" r="3.70" fill="#f5b48c"/>
<circle cx="479.45" cy="62.26" r="0.85" fill="#f9d5bf"/>
<circle cx="492.20" cy="62.26" r="0.85" fill="#f9d5bf"/>
<circle cx="504.95" cy="62.26" r="0.85" fill="#f9d5bf"/>
<circle cx="517.70" cy="62.26" r="0.85" fill="#f9d5bf"/>
<circle cx="530.45" cy="62.26" r="0.85" fill="#f9d5bf"/>
<circle cx="543.20" cy="62.26" r="0.85" fill="#f9d5bf"/>
<circle cx="555.95" cy="62.26" r="0.85" fill="#f9d5bf"/>
<circle cx="568.70" cy="62.26" r="0.85" fill="#f9d5bf"/>
<circle cx="581.45" cy="62.26" r="0.85" fill="#f9d5bf"/>
<circle cx="594.20" cy="62.26" r="0.85" fill="#f9d5bf"/>
<circle cx="441.20" cy="75.78" r="4.50" fill="#ee6e4b"/>
<circle cx="453.95" cy="75.78" r="0.85" fill="#f9d5bf"/>
<circle cx="466.70" cy="75.78" r="5.30" fill="#f5b28c"/>
<circle cx="479.45" cy="75.78" r="0.85" fill="#f9d5bf"/>
<circle cx="492.20" cy="75.78" r="0.85" fill="#f9d5bf"/>
<circle cx="504.95" cy="75.78" r="0.85" fill="#f9d5bf"/>
<circle cx="517.70" cy="75.78" r="0.85" fill="#f9d5bf"/>
<circle cx="530.45" cy="75.78" r="0.85" fill="#f9d5bf"/>
<circle cx="543.20" cy="75.78" r="0.85" fill="#f9d5bf"/>
<circle cx="555.95" cy="75.78" r="0.85" fill="#f9d5bf"/>
<circle cx="568.70" cy="75.78" r="0.85" fill="#f9d5bf"/>
<circle cx="581.45" cy="75.78" r="0.85" fill="#f9d5bf"/>
<circle cx="594.20" cy="75.78" r="0.85" fill="#f9d5bf"/>
<circle cx="441.20" cy="89.30" r="7.40" fill="#501c50"/>
<circle cx="453.95" cy="89.30" r="0.90" fill="#f5c9a8"/>
<circle cx="466.70" cy="89.30" r="6.40" fill="#d7264b"/>
<circle cx="479.45" cy="89.30" r="6.25" fill="#281432"/>
<circle cx="492.20" cy="89.30" r="4.60" fill="#f08258"/>
<circle cx="504.95" cy="89.30" r="4.30" fill="#f2966e"/>
<circle cx="517.70" cy="89.30" r="5.10" fill="#f07d55"/>
<circle cx="530.45" cy="89.30" r="4.60" fill="#f4a57d"/>
<circle cx="543.20" cy="89.30" r="3.15" fill="#f2966e"/>
<circle cx="555.95" cy="89.30" r="3.80" fill="#f5aa82"/>
<circle cx="568.70" cy="89.30" r="3.10" fill="#f6be9b"/>
<circle cx="581.45" cy="89.30" r="4.15" fill="#f6b996"/>
<circle cx="594.20" cy="89.30" r="3.10" fill="#f4aa82"/>
<line x1="434.00" y1="100.80" x2="602.00" y2="100.80" stroke="#7a7a7a" stroke-width="0.8" />
<line x1="441.20" y1="100.80" x2="441.20" y2="102.60" stroke="#7a7a7a" stroke-width="0.6" />
<text font-style="italic" transform="translate(444.50,105.20) rotate(-90)" font-size="8" text-anchor="end" fill="#231f20">Atf3</text>
<line x1="453.95" y1="100.80" x2="453.95" y2="102.60" stroke="#7a7a7a" stroke-width="0.6" />
<text font-style="italic" transform="translate(457.25,105.20) rotate(-90)" font-size="8" text-anchor="end" fill="#231f20">Il6</text>
<line x1="466.70" y1="100.80" x2="466.70" y2="102.60" stroke="#7a7a7a" stroke-width="0.6" />
<text font-style="italic" transform="translate(470.00,105.20) rotate(-90)" font-size="8" text-anchor="end" fill="#231f20">Sox11</text>
<line x1="479.45" y1="100.80" x2="479.45" y2="102.60" stroke="#7a7a7a" stroke-width="0.6" />
<text font-style="italic" transform="translate(482.75,105.20) rotate(-90)" font-size="8" text-anchor="end" fill="#231f20">Sprr1a</text>
<line x1="492.20" y1="100.80" x2="492.20" y2="102.60" stroke="#7a7a7a" stroke-width="0.6" />
<text font-style="italic" transform="translate(495.50,105.20) rotate(-90)" font-size="8" text-anchor="end" fill="#231f20">Ecel1</text>
<line x1="504.95" y1="100.80" x2="504.95" y2="102.60" stroke="#7a7a7a" stroke-width="0.6" />
<text font-style="italic" transform="translate(508.25,105.20) rotate(-90)" font-size="8" text-anchor="end" fill="#231f20">Cryba2</text>
<line x1="517.70" y1="100.80" x2="517.70" y2="102.60" stroke="#7a7a7a" stroke-width="0.6" />
<text font-style="italic" transform="translate(521.00,105.20) rotate(-90)" font-size="8" text-anchor="end" fill="#231f20">Sez6l</text>
<line x1="530.45" y1="100.80" x2="530.45" y2="102.60" stroke="#7a7a7a" stroke-width="0.6" />
<text font-style="italic" transform="translate(533.75,105.20) rotate(-90)" font-size="8" text-anchor="end" fill="#231f20">Gpr151</text>
<line x1="543.20" y1="100.80" x2="543.20" y2="102.60" stroke="#7a7a7a" stroke-width="0.6" />
<text font-style="italic" transform="translate(546.50,105.20) rotate(-90)" font-size="8" text-anchor="end" fill="#231f20">Wfdc3</text>
<line x1="555.95" y1="100.80" x2="555.95" y2="102.60" stroke="#7a7a7a" stroke-width="0.6" />
<text font-style="italic" transform="translate(559.25,105.20) rotate(-90)" font-size="8" text-anchor="end" fill="#231f20">Fgl3</text>
<line x1="568.70" y1="100.80" x2="568.70" y2="102.60" stroke="#7a7a7a" stroke-width="0.6" />
<text font-style="italic" transform="translate(572.00,105.20) rotate(-90)" font-size="8" text-anchor="end" fill="#231f20">Slc6a4</text>
<line x1="581.45" y1="100.80" x2="581.45" y2="102.60" stroke="#7a7a7a" stroke-width="0.6" />
<text font-style="italic" transform="translate(584.75,105.20) rotate(-90)" font-size="8" text-anchor="end" fill="#231f20">Cckbr</text>
<line x1="594.20" y1="100.80" x2="594.20" y2="102.60" stroke="#7a7a7a" stroke-width="0.6" />
<text font-style="italic" transform="translate(597.50,105.20) rotate(-90)" font-size="8" text-anchor="end" fill="#231f20">Timp1</text>
<text x="641.50" y="21.50" font-size="8" text-anchor="middle" fill="#231f20" >Average expression</text>
<text x="641.50" y="31.00" font-size="8" text-anchor="middle" fill="#231f20" >per cell</text>
<defs><linearGradient id="cb" x1="0" x2="1" y1="0" y2="0"><stop offset="0" stop-color="#fbdcc4"/><stop offset="0.16" stop-color="#f6aa80"/><stop offset="0.31" stop-color="#ee6444"/><stop offset="0.47" stop-color="#dc2e54"/><stop offset="0.62" stop-color="#b2145e"/><stop offset="0.78" stop-color="#701a62"/><stop offset="0.92" stop-color="#3e1446"/><stop offset="1" stop-color="#2a1234"/></linearGradient></defs>
<rect x="614.00" y="36.10" width="54.90" height="5.70" fill="url(#cb)" />
<line x1="631.20" y1="36.10" x2="631.20" y2="37.30" stroke="#fff" stroke-width="0.6" />
<line x1="631.20" y1="40.60" x2="631.20" y2="41.80" stroke="#fff" stroke-width="0.6" />
<line x1="648.40" y1="36.10" x2="648.40" y2="37.30" stroke="#fff" stroke-width="0.6" />
<line x1="648.40" y1="40.60" x2="648.40" y2="41.80" stroke="#fff" stroke-width="0.6" />
<line x1="665.60" y1="36.10" x2="665.60" y2="37.30" stroke="#fff" stroke-width="0.6" />
<line x1="665.60" y1="40.60" x2="665.60" y2="41.80" stroke="#fff" stroke-width="0.6" />
<text x="614.50" y="51.00" font-size="8" text-anchor="middle" fill="#231f20" >0</text>
<text x="631.55" y="51.00" font-size="8" text-anchor="middle" fill="#231f20" >1</text>
<text x="648.60" y="51.00" font-size="8" text-anchor="middle" fill="#231f20" >2</text>
<text x="665.65" y="51.00" font-size="8" text-anchor="middle" fill="#231f20" >3</text>
<text x="641.30" y="64.20" font-size="8" text-anchor="middle" fill="#231f20" >Percentage of</text>
<text x="641.30" y="73.10" font-size="8" text-anchor="middle" fill="#231f20" >expressing cells</text>
<circle cx="622.20" cy="82.40" r="0.60" fill="#000"/>
<text x="622.20" y="95.20" font-size="8" text-anchor="middle" fill="#231f20" >0</text>
<circle cx="632.60" cy="82.40" r="1.90" fill="#000"/>
<text x="632.60" y="95.20" font-size="8" text-anchor="middle" fill="#231f20" >25</text>
<circle cx="644.40" cy="82.40" r="3.60" fill="#000"/>
<text x="644.40" y="95.20" font-size="8" text-anchor="middle" fill="#231f20" >50</text>
<circle cx="658.10" cy="82.40" r="5.50" fill="#000"/>
<text x="658.10" y="95.20" font-size="8" text-anchor="middle" fill="#231f20" >75</text>
<line x1="35.10" y1="145.20" x2="35.10" y2="249.30" stroke="#9a9a9a" stroke-width="0.9" />
<line x1="31.60" y1="248.50" x2="35.10" y2="248.50" stroke="#9a9a9a" stroke-width="0.9" />
<text x="29.80" y="251.20" font-size="7.7" text-anchor="end" fill="#231f20" >0</text>
<line x1="31.60" y1="214.03" x2="35.10" y2="214.03" stroke="#9a9a9a" stroke-width="0.9" />
<text x="29.80" y="216.73" font-size="7.7" text-anchor="end" fill="#231f20" >200</text>
<line x1="31.60" y1="179.57" x2="35.10" y2="179.57" stroke="#9a9a9a" stroke-width="0.9" />
<text x="29.80" y="182.27" font-size="7.7" text-anchor="end" fill="#231f20" >400</text>
<line x1="31.60" y1="145.10" x2="35.10" y2="145.10" stroke="#9a9a9a" stroke-width="0.9" />
<text x="29.80" y="147.80" font-size="7.7" text-anchor="end" fill="#231f20" >600</text>
<line x1="41.60" y1="253.30" x2="144.40" y2="253.30" stroke="#9a9a9a" stroke-width="0.9" />
<line x1="41.60" y1="253.30" x2="41.60" y2="255.80" stroke="#9a9a9a" stroke-width="0.9" />
<text x="41.60" y="264.30" font-size="7.7" text-anchor="middle" fill="#231f20" >0</text>
<line x1="56.20" y1="253.30" x2="56.20" y2="255.80" stroke="#9a9a9a" stroke-width="0.9" />
<text x="56.20" y="264.30" font-size="7.7" text-anchor="middle" fill="#231f20" >2</text>
<line x1="70.80" y1="253.30" x2="70.80" y2="255.80" stroke="#9a9a9a" stroke-width="0.9" />
<text x="70.80" y="264.30" font-size="7.7" text-anchor="middle" fill="#231f20" >4</text>
<line x1="85.40" y1="253.30" x2="85.40" y2="255.80" stroke="#9a9a9a" stroke-width="0.9" />
<text x="85.40" y="264.30" font-size="7.7" text-anchor="middle" fill="#231f20" >6</text>
<line x1="100.00" y1="253.30" x2="100.00" y2="255.80" stroke="#9a9a9a" stroke-width="0.9" />
<text x="100.00" y="264.30" font-size="7.7" text-anchor="middle" fill="#231f20" >8</text>
<line x1="114.60" y1="253.30" x2="114.60" y2="255.80" stroke="#9a9a9a" stroke-width="0.9" />
<text x="114.60" y="264.30" font-size="7.7" text-anchor="middle" fill="#231f20" >10</text>
<line x1="129.20" y1="253.30" x2="129.20" y2="255.80" stroke="#9a9a9a" stroke-width="0.9" />
<text x="129.20" y="264.30" font-size="7.7" text-anchor="middle" fill="#231f20" >12</text>
<line x1="143.80" y1="253.30" x2="143.80" y2="255.80" stroke="#9a9a9a" stroke-width="0.9" />
<text x="143.80" y="264.30" font-size="7.7" text-anchor="middle" fill="#231f20" >14</text>
<text x="93.00" y="275.90" font-size="8" text-anchor="middle" fill="#231f20" >Time (days)</text>
<text transform="translate(8.8,196.8) rotate(-90)" font-size="8" text-anchor="middle" fill="#231f20">Tumour volume (mm<tspan font-size="5.5" dy="-2.8">3</tspan><tspan dy="2.8">)</tspan></text>
<line x1="78.10" y1="245.40" x2="78.10" y2="248.00" stroke="#444" stroke-width="0.55" />
<line x1="77.20" y1="245.40" x2="79.00" y2="245.40" stroke="#444" stroke-width="0.55" />
<line x1="77.20" y1="248.00" x2="79.00" y2="248.00" stroke="#444" stroke-width="0.55" />
<line x1="85.40" y1="244.60" x2="85.40" y2="247.40" stroke="#444" stroke-width="0.55" />
<line x1="84.50" y1="244.60" x2="86.30" y2="244.60" stroke="#444" stroke-width="0.55" />
<line x1="84.50" y1="247.40" x2="86.30" y2="247.40" stroke="#444" stroke-width="0.55" />
<line x1="92.70" y1="242.60" x2="92.70" y2="246.20" stroke="#444" stroke-width="0.55" />
<line x1="91.80" y1="242.60" x2="93.60" y2="242.60" stroke="#444" stroke-width="0.55" />
<line x1="91.80" y1="246.20" x2="93.60" y2="246.20" stroke="#444" stroke-width="0.55" />
<line x1="100.00" y1="240.20" x2="100.00" y2="244.20" stroke="#444" stroke-width="0.55" />
<line x1="99.10" y1="240.20" x2="100.90" y2="240.20" stroke="#444" stroke-width="0.55" />
<line x1="99.10" y1="244.20" x2="100.90" y2="244.20" stroke="#444" stroke-width="0.55" />
<line x1="107.30" y1="235.40" x2="107.30" y2="240.20" stroke="#444" stroke-width="0.55" />
<line x1="106.40" y1="235.40" x2="108.20" y2="235.40" stroke="#444" stroke-width="0.55" />
<line x1="106.40" y1="240.20" x2="108.20" y2="240.20" stroke="#444" stroke-width="0.55" />
<line x1="114.60" y1="225.00" x2="114.60" y2="234.40" stroke="#444" stroke-width="0.55" />
<line x1="113.70" y1="225.00" x2="115.50" y2="225.00" stroke="#444" stroke-width="0.55" />
<line x1="113.70" y1="234.40" x2="115.50" y2="234.40" stroke="#444" stroke-width="0.55" />
<line x1="121.90" y1="216.00" x2="121.90" y2="230.00" stroke="#444" stroke-width="0.55" />
<line x1="121.00" y1="216.00" x2="122.80" y2="216.00" stroke="#444" stroke-width="0.55" />
<line x1="121.00" y1="230.00" x2="122.80" y2="230.00" stroke="#444" stroke-width="0.55" />
<line x1="129.20" y1="206.20" x2="129.20" y2="222.40" stroke="#444" stroke-width="0.55" />
<line x1="128.30" y1="206.20" x2="130.10" y2="206.20" stroke="#444" stroke-width="0.55" />
<line x1="128.30" y1="222.40" x2="130.10" y2="222.40" stroke="#444" stroke-width="0.55" />
<line x1="136.50" y1="187.80" x2="136.50" y2="213.80" stroke="#444" stroke-width="0.55" />
<line x1="135.60" y1="187.80" x2="137.40" y2="187.80" stroke="#444" stroke-width="0.55" />
<line x1="135.60" y1="213.80" x2="137.40" y2="213.80" stroke="#444" stroke-width="0.55" />
<line x1="143.80" y1="158.60" x2="143.80" y2="203.20" stroke="#444" stroke-width="0.55" />
<line x1="142.90" y1="158.60" x2="144.70" y2="158.60" stroke="#444" stroke-width="0.55" />
<line x1="142.90" y1="203.20" x2="144.70" y2="203.20" stroke="#444" stroke-width="0.55" />
<line x1="121.90" y1="242.40" x2="121.90" y2="245.40" stroke="#444" stroke-width="0.55" />
<line x1="121.00" y1="242.40" x2="122.80" y2="242.40" stroke="#444" stroke-width="0.55" />
<line x1="121.00" y1="245.40" x2="122.80" y2="245.40" stroke="#444" stroke-width="0.55" />
<line x1="129.20" y1="237.90" x2="129.20" y2="241.90" stroke="#444" stroke-width="0.55" />
<line x1="128.30" y1="237.90" x2="130.10" y2="237.90" stroke="#444" stroke-width="0.55" />
<line x1="128.30" y1="241.90" x2="130.10" y2="241.90" stroke="#444" stroke-width="0.55" />
<line x1="136.50" y1="229.40" x2="136.50" y2="235.40" stroke="#444" stroke-width="0.55" />
<line x1="135.60" y1="229.40" x2="137.40" y2="229.40" stroke="#444" stroke-width="0.55" />
<line x1="135.60" y1="235.40" x2="137.40" y2="235.40" stroke="#444" stroke-width="0.55" />
<line x1="143.80" y1="220.70" x2="143.80" y2="231.50" stroke="#444" stroke-width="0.55" />
<line x1="142.90" y1="220.70" x2="144.70" y2="220.70" stroke="#444" stroke-width="0.55" />
<line x1="142.90" y1="231.50" x2="144.70" y2="231.50" stroke="#444" stroke-width="0.55" />
<polyline points="48.90,248.40 56.20,248.40 63.50,248.20 70.80,247.90 78.10,246.70 85.40,246.00 92.70,244.40 100.00,242.20 107.30,237.80 114.60,229.70 121.90,223.00 129.20,214.30 136.50,200.80 143.80,180.90" fill="none" stroke="#e1417d" stroke-width="1.0"/>
<polyline points="48.90,248.50 56.20,248.50 63.50,248.40 70.80,248.30 78.10,248.10 85.40,247.90 92.70,247.60 100.00,246.90 107.30,246.20 114.60,245.50 121.90,243.90 129.20,239.90 136.50,232.40 143.80,226.10" fill="none" stroke="#3cafdc" stroke-width="1.0"/>
<circle cx="48.90" cy="248.40" r="1.40" fill="#000"/>
<circle cx="56.20" cy="248.40" r="1.40" fill="#000"/>
<circle cx="63.50" cy="248.20" r="1.40" fill="#000"/>
<circle cx="70.80" cy="247.90" r="1.40" fill="#000"/>
<circle cx="78.10" cy="246.70" r="1.40" fill="#000"/>
<circle cx="85.40" cy="246.00" r="1.40" fill="#000"/>
<circle cx="92.70" cy="244.40" r="1.40" fill="#000"/>
<circle cx="100.00" cy="242.20" r="1.40" fill="#000"/>
<circle cx="107.30" cy="237.80" r="1.40" fill="#000"/>
<circle cx="114.60" cy="229.70" r="1.40" fill="#000"/>
<circle cx="121.90" cy="223.00" r="1.40" fill="#000"/>
<circle cx="129.20" cy="214.30" r="1.40" fill="#000"/>
<circle cx="136.50" cy="200.80" r="1.40" fill="#000"/>
<circle cx="143.80" cy="180.90" r="1.40" fill="#000"/>
<circle cx="48.90" cy="248.50" r="1.40" fill="#000"/>
<circle cx="56.20" cy="248.50" r="1.40" fill="#000"/>
<circle cx="63.50" cy="248.40" r="1.40" fill="#000"/>
<circle cx="70.80" cy="248.30" r="1.40" fill="#000"/>
<circle cx="78.10" cy="248.10" r="1.40" fill="#000"/>
<circle cx="85.40" cy="247.90" r="1.40" fill="#000"/>
<circle cx="92.70" cy="247.60" r="1.40" fill="#000"/>
<circle cx="100.00" cy="246.90" r="1.40" fill="#000"/>
<circle cx="107.30" cy="246.20" r="1.40" fill="#000"/>
<circle cx="114.60" cy="245.50" r="1.40" fill="#000"/>
<circle cx="121.90" cy="243.90" r="1.40" fill="#000"/>
<circle cx="129.20" cy="239.90" r="1.40" fill="#000"/>
<circle cx="136.50" cy="232.40" r="1.40" fill="#000"/>
<circle cx="143.80" cy="226.10" r="1.40" fill="#000"/>
<text x="39.80" y="151.90" font-size="8" text-anchor="start" fill="#231f20" >Condition</text>
<line x1="39.20" y1="160.70" x2="48.80" y2="160.70" stroke="#e77aa6" stroke-width="1.1" />
<circle cx="44.00" cy="160.70" r="1.35" fill="#000"/>
<text x="52" y="163.2" font-size="8" fill="#231f20"><tspan font-style="italic">Atf3</tspan> WT</text>
<line x1="39.20" y1="170.40" x2="48.80" y2="170.40" stroke="#5cbde4" stroke-width="1.1" />
<circle cx="44.00" cy="170.40" r="1.35" fill="#000"/>
<text x="52" y="173.0" font-size="8" fill="#231f20"><tspan font-style="italic">Atf3</tspan> cKO</text>
<text x="39.60" y="185.10" font-size="8" text-anchor="start" fill="#231f20" >Two-way ANOVA</text>
<text x="39.0" y="194.0" font-size="7.8" fill="#231f20"><tspan font-style="italic">F</tspan>(13, 91) = 3.69, <tspan font-style="italic">P</tspan> &lt; 0.001</text>
<text x="39.30" y="205.50" font-size="8" text-anchor="start" fill="#231f20" >Šidák’s test at day 14</text>
<text x="39.0" y="214.5" font-size="8" fill="#231f20"><tspan font-style="italic">P</tspan> &lt; 0.001</text>
<line x1="215.60" y1="144.40" x2="215.60" y2="235.40" stroke="#9a9a9a" stroke-width="0.9" />
<line x1="213.10" y1="235.30" x2="215.60" y2="235.30" stroke="#9a9a9a" stroke-width="0.9" />
<text x="208.90" y="237.90" font-size="7.3" text-anchor="end" fill="#231f20" >0</text>
<line x1="213.10" y1="217.11" x2="215.60" y2="217.11" stroke="#9a9a9a" stroke-width="0.9" />
<text x="208.90" y="219.71" font-size="7.3" text-anchor="end" fill="#231f20" >20</text>
<line x1="213.10" y1="198.93" x2="215.60" y2="198.93" stroke="#9a9a9a" stroke-width="0.9" />
<text x="208.90" y="201.53" font-size="7.3" text-anchor="end" fill="#231f20" >40</text>
<line x1="213.10" y1="180.74" x2="215.60" y2="180.74" stroke="#9a9a9a" stroke-width="0.9" />
<text x="208.90" y="183.34" font-size="7.3" text-anchor="end" fill="#231f20" >60</text>
<line x1="213.10" y1="162.56" x2="215.60" y2="162.56" stroke="#9a9a9a" stroke-width="0.9" />
<text x="208.90" y="165.16" font-size="7.3" text-anchor="end" fill="#231f20" >80</text>
<line x1="213.10" y1="144.37" x2="215.60" y2="144.37" stroke="#9a9a9a" stroke-width="0.9" />
<text x="208.90" y="146.97" font-size="7.3" text-anchor="end" fill="#231f20" >100</text>
<line x1="220.10" y1="239.50" x2="283.10" y2="239.50" stroke="#9a9a9a" stroke-width="0.9" />
<text x="219.4" y="152.3" font-size="8" fill="#231f20"><tspan font-style="italic">P</tspan> = 0.04</text>
<text transform="translate(183.6,190.3) rotate(-90)" font-size="8" text-anchor="middle" fill="#231f20">IFNγ<tspan font-size="5.5" dy="-2.8">+</tspan><tspan dy="2.8">CD8</tspan><tspan font-size="5.5" dy="-2.8">+</tspan><tspan dy="2.8"> T cells of</tspan></text>
<text transform="translate(193.3,189.6) rotate(-90)" font-size="8" text-anchor="middle" fill="#231f20">CD8<tspan font-size="5.5" dy="-2.8">+</tspan><tspan dy="2.8"> T cells (%)</tspan></text>
<line x1="238.00" y1="174.40" x2="238.00" y2="206.40" stroke="#f2a6c4" stroke-width="0.9" />
<rect x="229.20" y="178.40" width="17.70" height="19.60" fill="#d7397f" />
<line x1="229.20" y1="188.30" x2="246.90" y2="188.30" stroke="#f4b4cf" stroke-width="0.8" />
<circle cx="238.00" cy="174.60" r="1.25" fill="#231f20"/>
<circle cx="238.00" cy="182.30" r="1.25" fill="#231f20"/>
<circle cx="235.80" cy="188.30" r="1.25" fill="#231f20"/>
<circle cx="239.80" cy="189.90" r="1.25" fill="#231f20"/>
<circle cx="238.00" cy="206.40" r="1.25" fill="#231f20"/>
<line x1="265.00" y1="160.50" x2="265.00" y2="183.40" stroke="#9fd6ee" stroke-width="0.9" />
<rect x="256.00" y="162.90" width="18.10" height="17.00" fill="#2aa6d6" />
<line x1="256.00" y1="166.00" x2="274.10" y2="166.00" stroke="#a8dcf0" stroke-width="0.8" />
<circle cx="263.00" cy="163.50" r="1.25" fill="#231f20"/>
<circle cx="267.40" cy="162.70" r="1.25" fill="#231f20"/>
<circle cx="264.80" cy="170.00" r="1.25" fill="#231f20"/>
<circle cx="264.80" cy="183.40" r="1.25" fill="#231f20"/>
<text transform="translate(244.50,246.00) rotate(-45)" font-size="8" text-anchor="end" fill="#231f20"><tspan font-style="italic">Atf3</tspan> WT</text>
<text transform="translate(272.00,245.40) rotate(-45)" font-size="8" text-anchor="end" fill="#231f20"><tspan font-style="italic">Atf3</tspan> cKO</text>
<line x1="339.10" y1="146.00" x2="339.10" y2="241.30" stroke="#9a9a9a" stroke-width="0.9" />
<line x1="336.30" y1="240.60" x2="339.10" y2="240.60" stroke="#9a9a9a" stroke-width="0.9" />
<text x="334.30" y="243.20" font-size="7.3" text-anchor="end" fill="#231f20" >0</text>
<line x1="336.30" y1="222.41" x2="339.10" y2="222.41" stroke="#9a9a9a" stroke-width="0.9" />
<text x="334.30" y="225.01" font-size="7.3" text-anchor="end" fill="#231f20" >20</text>
<line x1="336.30" y1="204.22" x2="339.10" y2="204.22" stroke="#9a9a9a" stroke-width="0.9" />
<text x="334.30" y="206.82" font-size="7.3" text-anchor="end" fill="#231f20" >40</text>
<line x1="336.30" y1="186.03" x2="339.10" y2="186.03" stroke="#9a9a9a" stroke-width="0.9" />
<text x="334.30" y="188.63" font-size="7.3" text-anchor="end" fill="#231f20" >60</text>
<line x1="336.30" y1="167.84" x2="339.10" y2="167.84" stroke="#9a9a9a" stroke-width="0.9" />
<text x="334.30" y="170.44" font-size="7.3" text-anchor="end" fill="#231f20" >80</text>
<line x1="336.30" y1="149.65" x2="339.10" y2="149.65" stroke="#9a9a9a" stroke-width="0.9" />
<text x="334.30" y="152.25" font-size="7.3" text-anchor="end" fill="#231f20" >100</text>
<text transform="translate(307.3,194.2) rotate(-90)" font-size="8" text-anchor="middle" fill="#231f20">Cluster cellular</text>
<text transform="translate(316.6,193.4) rotate(-90)" font-size="8" text-anchor="middle" fill="#231f20">composition (%)</text>
<rect x="342.10" y="200.95" width="18.60" height="39.65" fill="#1f5fe0" />
<rect x="342.10" y="157.02" width="18.60" height="43.93" fill="#00dc00" />
<rect x="342.10" y="150.74" width="18.60" height="6.28" fill="#e89a04" />
<rect x="342.10" y="149.65" width="18.60" height="1.09" fill="#ea3249" />
<rect x="364.20" y="198.76" width="18.60" height="41.84" fill="#1f5fe0" />
<rect x="364.20" y="156.84" width="18.60" height="41.93" fill="#00dc00" />
<rect x="364.20" y="153.56" width="18.60" height="3.27" fill="#e89a04" />
<rect x="364.20" y="149.65" width="18.60" height="3.91" fill="#ea3249" />
<rect x="388.00" y="174.60" width="6.90" height="6.60" fill="#1f5fe0" />
<text x="398.40" y="180.70" font-size="8" text-anchor="start" fill="#231f20" >T cells</text>
<rect x="388.00" y="184.08" width="6.90" height="6.60" fill="#00dc00" />
<text x="398.40" y="190.18" font-size="8" text-anchor="start" fill="#231f20" >Macrophages</text>
<rect x="388.00" y="193.56" width="6.90" height="6.60" fill="#e89a04" />
<text x="398.40" y="199.66" font-size="8" text-anchor="start" fill="#231f20" >B cells</text>
<rect x="388.00" y="203.04" width="6.90" height="6.60" fill="#ea3249" />
<text x="398.40" y="209.14" font-size="8" text-anchor="start" fill="#231f20" >Neutrophils</text>
<text transform="translate(355.80,247.60) rotate(-45)" font-size="8" text-anchor="end" fill="#231f20"><tspan font-style="italic">Atf3</tspan> WT</text>
<text transform="translate(379.20,246.80) rotate(-45)" font-size="8" text-anchor="end" fill="#231f20"><tspan font-style="italic">Atf3</tspan> cKO</text>
<text x="514.0" y="148.1" font-size="8" fill="#231f20">Markers of CD8<tspan font-size="5.5" dy="-2.8">+</tspan><tspan dy="2.8"> T cell exhaustion</tspan></text>
<line x1="499.80" y1="161.30" x2="499.80" y2="228.30" stroke="#9a9a9a" stroke-width="0.9" />
<line x1="497.20" y1="227.90" x2="499.80" y2="227.90" stroke="#9a9a9a" stroke-width="0.9" />
<text x="495.60" y="230.60" font-size="7.5" text-anchor="end" fill="#231f20" >0</text>
<line x1="497.20" y1="214.58" x2="499.80" y2="214.58" stroke="#9a9a9a" stroke-width="0.9" />
<text x="495.60" y="217.28" font-size="7.5" text-anchor="end" fill="#231f20" >1</text>
<line x1="497.20" y1="201.26" x2="499.80" y2="201.26" stroke="#9a9a9a" stroke-width="0.9" />
<text x="495.60" y="203.96" font-size="7.5" text-anchor="end" fill="#231f20" >2</text>
<line x1="497.20" y1="187.94" x2="499.80" y2="187.94" stroke="#9a9a9a" stroke-width="0.9" />
<text x="495.60" y="190.64" font-size="7.5" text-anchor="end" fill="#231f20" >3</text>
<line x1="497.20" y1="174.62" x2="499.80" y2="174.62" stroke="#9a9a9a" stroke-width="0.9" />
<text x="495.60" y="177.32" font-size="7.5" text-anchor="end" fill="#231f20" >4</text>
<line x1="497.20" y1="161.30" x2="499.80" y2="161.30" stroke="#9a9a9a" stroke-width="0.9" />
<text x="495.60" y="164.00" font-size="7.5" text-anchor="end" fill="#231f20" >5</text>
<line x1="502.60" y1="231.60" x2="570.40" y2="231.60" stroke="#c8c8c8" stroke-width="1.5" />
<text transform="translate(475.20,195.0) rotate(-90)" font-size="7.6" text-anchor="middle" fill="#231f20">CD8<tspan font-size="5.2" dy="-2.7">+</tspan><tspan dy="2.7"> T cell</tspan></text>
<text transform="translate(482.90,194.6) rotate(-90)" font-size="7.6" text-anchor="middle" fill="#231f20">gene expression</text>
<line x1="610.60" y1="161.30" x2="610.60" y2="228.30" stroke="#9a9a9a" stroke-width="0.9" />
<line x1="608.00" y1="227.90" x2="610.60" y2="227.90" stroke="#9a9a9a" stroke-width="0.9" />
<text x="606.40" y="230.60" font-size="7.5" text-anchor="end" fill="#231f20" >0</text>
<line x1="608.00" y1="214.58" x2="610.60" y2="214.58" stroke="#9a9a9a" stroke-width="0.9" />
<text x="606.40" y="217.28" font-size="7.5" text-anchor="end" fill="#231f20" >1</text>
<line x1="608.00" y1="201.26" x2="610.60" y2="201.26" stroke="#9a9a9a" stroke-width="0.9" />
<text x="606.40" y="203.96" font-size="7.5" text-anchor="end" fill="#231f20" >2</text>
<line x1="608.00" y1="187.94" x2="610.60" y2="187.94" stroke="#9a9a9a" stroke-width="0.9" />
<text x="606.40" y="190.64" font-size="7.5" text-anchor="end" fill="#231f20" >3</text>
<line x1="608.00" y1="174.62" x2="610.60" y2="174.62" stroke="#9a9a9a" stroke-width="0.9" />
<text x="606.40" y="177.32" font-size="7.5" text-anchor="end" fill="#231f20" >4</text>
<line x1="608.00" y1="161.30" x2="610.60" y2="161.30" stroke="#9a9a9a" stroke-width="0.9" />
<text x="606.40" y="164.00" font-size="7.5" text-anchor="end" fill="#231f20" >5</text>
<line x1="613.00" y1="231.60" x2="681.00" y2="231.60" stroke="#c8c8c8" stroke-width="1.5" />
<text transform="translate(586.00,195.0) rotate(-90)" font-size="7.6" text-anchor="middle" fill="#231f20">CD8<tspan font-size="5.2" dy="-2.7">+</tspan><tspan dy="2.7"> T cell</tspan></text>
<text transform="translate(593.70,194.6) rotate(-90)" font-size="7.6" text-anchor="middle" fill="#231f20">gene expression</text>
<text x="503.00" y="159.10" font-size="8" text-anchor="start" font-style="italic" fill="#231f20" >Lag3</text>
<text x="525.0" y="167.4" font-size="8" fill="#231f20"><tspan font-style="italic">P</tspan> = 0.05</text>
<text x="613.60" y="159.70" font-size="8" text-anchor="start" font-style="italic" fill="#231f20" >Tox</text>
<text x="635.1" y="166.5" font-size="8" fill="#231f20"><tspan font-style="italic">P</tspan> = 0.28</text>
<polygon points="518.00,171.90 517.03,172.30 516.63,172.71 516.40,173.11 516.16,173.51 515.93,173.91 515.70,174.32 515.61,174.72 515.62,175.12 515.63,175.53 515.65,175.93 515.66,176.33 515.67,176.73 515.69,177.14 515.71,177.54 515.82,177.94 515.93,178.35 516.03,178.75 516.14,179.15 516.25,179.55 516.36,179.96 516.46,180.36 516.54,180.76 516.60,181.17 516.66,181.57 516.72,181.97 516.78,182.37 516.83,182.78 516.89,183.18 516.95,183.58 516.98,183.99 516.86,184.39 516.75,184.79 516.64,185.19 516.53,185.60 516.42,186.00 516.30,186.40 516.19,186.80 516.08,187.21 515.98,187.61 515.91,188.01 515.83,188.42 515.76,188.82 515.69,189.22 515.61,189.62 515.54,190.03 515.47,190.43 515.40,190.83 515.43,191.24 515.45,191.64 515.47,192.04 515.50,192.44 515.52,192.85 515.54,193.25 515.57,193.65 515.59,194.06 515.62,194.46 515.64,194.86 515.66,195.26 515.69,195.67 515.71,196.07 515.73,196.47 515.76,196.88 515.78,197.28 515.81,197.68 515.86,198.08 515.90,198.49 515.95,198.89 516.00,199.29 516.04,199.70 516.09,200.10 516.14,200.50 516.18,200.90 516.23,201.31 516.28,201.71 516.32,202.11 516.37,202.52 516.42,202.92 516.46,203.32 516.51,203.72 516.56,204.13 516.61,204.53 516.72,204.93 516.83,205.34 516.95,205.74 517.06,206.14 517.17,206.54 517.28,206.95 517.40,207.35 517.51,207.75 517.62,208.16 517.73,208.56 517.88,208.96 518.10,209.36 518.31,209.77 518.52,210.17 518.70,210.57 518.70,210.98 518.71,211.38 518.71,211.78 518.71,212.18 518.71,212.59 518.71,212.99 518.71,213.39 518.71,213.80 518.70,214.20 518.69,214.60 518.67,215.00 518.64,215.41 518.61,215.81 518.56,216.21 518.50,216.61 518.42,217.02 518.32,217.42 518.19,217.82 518.44,218.23 518.25,218.63 518.02,219.03 517.75,219.43 517.43,219.84 517.06,220.24 516.64,220.64 516.16,221.05 515.63,221.45 515.04,221.85 514.39,222.25 513.69,222.66 512.94,223.06 512.15,223.46 511.33,223.87 510.50,224.27 509.66,224.67 508.83,225.07 508.02,225.48 507.26,225.88 506.56,226.28 505.94,226.69 505.40,227.09 504.97,227.49 504.66,227.89 504.46,228.30 504.40,228.70 534.00,228.70 533.94,228.30 533.74,227.89 533.43,227.49 533.00,227.09 532.46,226.69 531.84,226.28 531.14,225.88 530.38,225.48 529.57,225.07 528.74,224.67 527.90,224.27 527.07,223.87 526.25,223.46 525.46,223.06 524.71,222.66 524.01,222.25 523.36,221.85 522.77,221.45 522.24,221.05 521.76,220.64 521.34,220.24 520.97,219.84 520.65,219.43 520.38,219.03 520.15,218.63 519.96,218.23 520.21,217.82 520.08,217.42 519.98,217.02 519.90,216.61 519.84,216.21 519.79,215.81 519.76,215.41 519.73,215.00 519.71,214.60 519.70,214.20 519.69,213.80 519.69,213.39 519.69,212.99 519.69,212.59 519.69,212.18 519.69,211.78 519.69,211.38 519.70,210.98 519.70,210.57 519.88,210.17 520.09,209.77 520.30,209.36 520.52,208.96 520.67,208.56 520.78,208.16 520.89,207.75 521.00,207.35 521.12,206.95 521.23,206.54 521.34,206.14 521.45,205.74 521.57,205.34 521.68,204.93 521.79,204.53 521.84,204.13 521.89,203.72 521.94,203.32 521.98,202.92 522.03,202.52 522.08,202.11 522.12,201.71 522.17,201.31 522.22,200.90 522.26,200.50 522.31,200.10 522.36,199.70 522.40,199.29 522.45,198.89 522.50,198.49 522.54,198.08 522.59,197.68 522.62,197.28 522.64,196.88 522.67,196.47 522.69,196.07 522.71,195.67 522.74,195.26 522.76,194.86 522.78,194.46 522.81,194.06 522.83,193.65 522.86,193.25 522.88,192.85 522.90,192.44 522.93,192.04 522.95,191.64 522.97,191.24 523.00,190.83 522.93,190.43 522.86,190.03 522.79,189.62 522.71,189.22 522.64,188.82 522.57,188.42 522.49,188.01 522.42,187.61 522.32,187.21 522.21,186.80 522.10,186.40 521.98,186.00 521.87,185.60 521.76,185.19 521.65,184.79 521.54,184.39 521.42,183.99 521.45,183.58 521.51,183.18 521.57,182.78 521.62,182.37 521.68,181.97 521.74,181.57 521.80,181.17 521.86,180.76 521.94,180.36 522.04,179.96 522.15,179.55 522.26,179.15 522.37,178.75 522.47,178.35 522.58,177.94 522.69,177.54 522.71,177.14 522.73,176.73 522.74,176.33 522.75,175.93 522.77,175.53 522.78,175.12 522.79,174.72 522.70,174.32 522.47,173.91 522.24,173.51 522.00,173.11 521.77,172.71 521.37,172.30 520.40,171.90" fill="#d63a7e"/>
<line x1="516.20" y1="210.10" x2="522.20" y2="210.10" stroke="#111" stroke-width="0.7" />
<circle cx="519.05" cy="175.50" r="0.85" fill="#111"/>
<circle cx="519.13" cy="178.00" r="0.85" fill="#111"/>
<circle cx="519.21" cy="181.00" r="0.85" fill="#111"/>
<circle cx="519.91" cy="183.50" r="0.85" fill="#111"/>
<circle cx="518.95" cy="190.00" r="0.85" fill="#111"/>
<circle cx="519.53" cy="192.00" r="0.85" fill="#111"/>
<circle cx="518.78" cy="194.00" r="0.85" fill="#111"/>
<circle cx="519.33" cy="197.00" r="0.85" fill="#111"/>
<circle cx="518.86" cy="200.00" r="0.85" fill="#111"/>
<circle cx="519.80" cy="203.50" r="0.85" fill="#111"/>
<rect x="517.60" y="227.00" width="3.20" height="1.60" fill="#000" />
<polygon points="553.80,189.50 553.64,189.90 553.48,190.31 553.35,190.71 553.27,191.11 553.18,191.52 553.09,191.92 553.00,192.32 552.92,192.72 552.89,193.13 552.87,193.53 552.85,193.93 552.84,194.34 552.82,194.74 552.80,195.14 552.79,195.55 552.77,195.95 552.75,196.35 552.74,196.76 552.72,197.16 552.70,197.56 552.78,197.96 552.87,198.37 552.96,198.77 553.05,199.17 553.14,199.58 553.24,199.98 553.33,200.38 553.42,200.79 553.51,201.19 553.60,201.59 553.52,202.00 553.43,202.40 553.35,202.80 553.27,203.21 553.18,203.61 553.10,204.01 553.06,204.41 553.01,204.82 552.97,205.22 552.92,205.62 552.88,206.03 552.84,206.43 552.79,206.83 552.75,207.24 552.71,207.64 552.78,208.04 552.86,208.45 552.95,208.85 553.04,209.25 553.13,209.65 553.22,210.06 553.31,210.46 553.39,210.86 553.48,211.27 553.57,211.67 553.62,212.07 553.65,212.48 553.69,212.88 553.72,213.28 553.75,213.69 553.78,214.09 553.81,214.49 553.83,214.89 553.86,215.30 553.87,215.70 553.88,216.10 553.88,216.51 553.84,216.91 553.78,217.31 553.71,217.72 553.61,218.12 553.49,218.52 553.34,218.93 553.45,219.33 553.22,219.73 552.94,220.14 552.61,220.54 552.22,220.94 551.77,221.34 551.25,221.75 550.66,222.15 550.00,222.55 549.28,222.96 548.50,223.36 547.67,223.76 546.81,224.17 545.92,224.57 545.02,224.97 544.14,225.38 543.29,225.78 542.50,226.18 541.79,226.58 541.17,226.99 540.67,227.39 540.30,227.79 540.08,228.20 540.00,228.60 568.60,228.60 568.52,228.20 568.30,227.79 567.93,227.39 567.43,226.99 566.81,226.58 566.10,226.18 565.31,225.78 564.46,225.38 563.58,224.97 562.68,224.57 561.79,224.17 560.93,223.76 560.10,223.36 559.32,222.96 558.60,222.55 557.94,222.15 557.35,221.75 556.83,221.34 556.38,220.94 555.99,220.54 555.66,220.14 555.38,219.73 555.15,219.33 555.26,218.93 555.11,218.52 554.99,218.12 554.89,217.72 554.82,217.31 554.76,216.91 554.72,216.51 554.72,216.10 554.73,215.70 554.74,215.30 554.77,214.89 554.79,214.49 554.82,214.09 554.85,213.69 554.88,213.28 554.91,212.88 554.95,212.48 554.98,212.07 555.03,211.67 555.12,211.27 555.21,210.86 555.29,210.46 555.38,210.06 555.47,209.65 555.56,209.25 555.65,208.85 555.74,208.45 555.82,208.04 555.89,207.64 555.85,207.24 555.81,206.83 555.76,206.43 555.72,206.03 555.68,205.62 555.63,205.22 555.59,204.82 555.54,204.41 555.50,204.01 555.42,203.61 555.33,203.21 555.25,202.80 555.17,202.40 555.08,202.00 555.00,201.59 555.09,201.19 555.18,200.79 555.27,200.38 555.36,199.98 555.46,199.58 555.55,199.17 555.64,198.77 555.73,198.37 555.82,197.96 555.90,197.56 555.88,197.16 555.86,196.76 555.85,196.35 555.83,195.95 555.81,195.55 555.80,195.14 555.78,194.74 555.76,194.34 555.75,193.93 555.73,193.53 555.71,193.13 555.68,192.72 555.60,192.32 555.51,191.92 555.42,191.52 555.33,191.11 555.25,190.71 555.12,190.31 554.96,189.90 554.80,189.50" fill="#28aad7"/>
<line x1="551.50" y1="220.60" x2="557.10" y2="220.60" stroke="#333" stroke-width="0.7" />
<circle cx="554.09" cy="190.00" r="0.85" fill="#111"/>
<circle cx="554.65" cy="195.00" r="0.85" fill="#111"/>
<circle cx="554.48" cy="196.50" r="0.85" fill="#111"/>
<circle cx="554.25" cy="206.00" r="0.85" fill="#111"/>
<circle cx="554.73" cy="208.50" r="0.85" fill="#111"/>
<rect x="552.70" y="227.00" width="3.20" height="1.60" fill="#000" />
<polygon points="629.10,172.70 629.07,173.10 629.03,173.50 629.00,173.90 628.96,174.30 628.93,174.70 628.89,175.10 628.86,175.50 628.83,175.90 628.80,176.30 628.77,176.70 628.73,177.10 628.70,177.50 628.67,177.90 628.64,178.30 628.61,178.70 628.55,179.10 628.48,179.50 628.42,179.90 628.35,180.30 628.28,180.70 628.22,181.10 628.15,181.50 628.08,181.90 628.02,182.30 627.95,182.70 627.88,183.10 627.82,183.50 627.75,183.90 627.68,184.30 627.62,184.70 627.46,185.10 627.27,185.50 627.09,185.90 626.90,186.30 626.72,186.70 626.53,187.10 626.34,187.50 626.16,187.90 625.97,188.30 625.79,188.70 625.60,189.10 625.53,189.50 625.46,189.90 625.39,190.30 625.32,190.70 625.25,191.10 625.18,191.50 625.11,191.90 625.04,192.30 625.10,192.70 625.29,193.10 625.49,193.50 625.68,193.90 625.87,194.30 626.07,194.70 626.26,195.10 626.46,195.50 626.65,195.90 626.81,196.30 626.97,196.70 627.12,197.10 627.27,197.50 627.43,197.90 627.58,198.30 627.73,198.70 627.89,199.10 628.00,199.50 628.00,199.90 628.00,200.30 628.00,200.70 628.00,201.10 628.00,201.50 628.00,201.90 628.00,202.30 628.00,202.70 628.00,203.10 628.00,203.50 628.00,203.90 628.00,204.30 628.00,204.70 628.00,205.10 628.00,205.50 628.00,205.90 628.00,206.30 628.01,206.70 628.02,207.10 628.03,207.50 628.04,207.90 628.05,208.30 628.06,208.70 628.06,209.10 628.07,209.50 628.08,209.90 628.09,210.30 628.10,210.70 628.11,211.10 628.12,211.50 628.12,211.90 628.13,212.30 628.13,212.70 628.14,213.10 628.14,213.50 628.14,213.90 628.13,214.30 628.12,214.70 628.11,215.10 628.10,215.50 628.08,215.90 628.05,216.30 628.00,216.70 627.94,217.10 627.85,217.50 627.74,217.90 627.61,218.30 628.42,218.70 628.18,219.10 627.91,219.50 627.59,219.90 627.22,220.30 626.80,220.70 626.32,221.10 625.78,221.50 625.19,221.90 624.54,222.30 623.85,222.70 623.10,223.10 622.32,223.50 621.52,223.90 620.69,224.30 619.86,224.70 619.05,225.10 618.26,225.50 617.51,225.90 616.82,226.30 616.21,226.70 615.68,227.10 615.26,227.50 614.95,227.90 614.76,228.30 614.70,228.70 644.10,228.70 644.04,228.30 643.85,227.90 643.54,227.50 643.12,227.10 642.59,226.70 641.98,226.30 641.29,225.90 640.54,225.50 639.75,225.10 638.94,224.70 638.11,224.30 637.28,223.90 636.48,223.50 635.70,223.10 634.95,222.70 634.26,222.30 633.61,221.90 633.02,221.50 632.48,221.10 632.00,220.70 631.58,220.30 631.21,219.90 630.89,219.50 630.62,219.10 630.38,218.70 631.19,218.30 631.06,217.90 630.95,217.50 630.86,217.10 630.80,216.70 630.75,216.30 630.72,215.90 630.70,215.50 630.69,215.10 630.68,214.70 630.67,214.30 630.66,213.90 630.66,213.50 630.66,213.10 630.67,212.70 630.67,212.30 630.68,211.90 630.68,211.50 630.69,211.10 630.70,210.70 630.71,210.30 630.72,209.90 630.73,209.50 630.74,209.10 630.74,208.70 630.75,208.30 630.76,207.90 630.77,207.50 630.78,207.10 630.79,206.70 630.80,206.30 630.80,205.90 630.80,205.50 630.80,205.10 630.80,204.70 630.80,204.30 630.80,203.90 630.80,203.50 630.80,203.10 630.80,202.70 630.80,202.30 630.80,201.90 630.80,201.50 630.80,201.10 630.80,200.70 630.80,200.30 630.80,199.90 630.80,199.50 630.91,199.10 631.07,198.70 631.22,198.30 631.37,197.90 631.53,197.50 631.68,197.10 631.83,196.70 631.99,196.30 632.15,195.90 632.34,195.50 632.54,195.10 632.73,194.70 632.93,194.30 633.12,193.90 633.31,193.50 633.51,193.10 633.70,192.70 633.76,192.30 633.69,191.90 633.62,191.50 633.55,191.10 633.48,190.70 633.41,190.30 633.34,189.90 633.27,189.50 633.20,189.10 633.01,188.70 632.83,188.30 632.64,187.90 632.46,187.50 632.27,187.10 632.08,186.70 631.90,186.30 631.71,185.90 631.53,185.50 631.34,185.10 631.18,184.70 631.12,184.30 631.05,183.90 630.98,183.50 630.92,183.10 630.85,182.70 630.78,182.30 630.72,181.90 630.65,181.50 630.58,181.10 630.52,180.70 630.45,180.30 630.38,179.90 630.32,179.50 630.25,179.10 630.19,178.70 630.16,178.30 630.13,177.90 630.10,177.50 630.07,177.10 630.03,176.70 630.00,176.30 629.97,175.90 629.94,175.50 629.91,175.10 629.87,174.70 629.84,174.30 629.80,173.90 629.77,173.50 629.73,173.10 629.70,172.70" fill="#d63a7e"/>
<line x1="626.40" y1="215.30" x2="632.40" y2="215.30" stroke="#111" stroke-width="0.7" />
<circle cx="629.24" cy="173.20" r="0.85" fill="#111"/>
<circle cx="629.74" cy="182.50" r="0.85" fill="#111"/>
<circle cx="629.54" cy="189.00" r="0.85" fill="#111"/>
<circle cx="629.33" cy="191.00" r="0.85" fill="#111"/>
<circle cx="628.79" cy="193.00" r="0.85" fill="#111"/>
<circle cx="629.29" cy="195.00" r="0.85" fill="#111"/>
<circle cx="629.09" cy="205.50" r="0.85" fill="#111"/>
<circle cx="629.32" cy="210.00" r="0.85" fill="#111"/>
<rect x="627.80" y="227.00" width="3.20" height="1.60" fill="#000" />
<polygon points="664.60,189.80 664.42,190.20 664.24,190.61 664.06,191.01 663.88,191.42 663.70,191.82 663.52,192.23 663.39,192.63 663.36,193.03 663.33,193.44 663.30,193.84 663.27,194.25 663.23,194.65 663.20,195.05 663.17,195.46 663.14,195.86 663.11,196.27 663.08,196.67 663.05,197.08 663.02,197.48 663.05,197.88 663.16,198.29 663.28,198.69 663.39,199.10 663.50,199.50 663.62,199.90 663.73,200.31 663.84,200.71 663.95,201.12 664.07,201.52 664.18,201.93 664.23,202.33 664.27,202.73 664.31,203.14 664.35,203.54 664.39,203.95 664.43,204.35 664.48,204.75 664.52,205.16 664.56,205.56 664.60,205.97 664.64,206.37 664.68,206.78 664.72,207.18 664.76,207.58 664.80,207.99 664.80,208.39 664.80,208.80 664.80,209.20 664.80,209.60 664.80,210.01 664.80,210.41 664.80,210.82 664.80,211.22 664.80,211.62 664.80,212.03 664.80,212.43 664.80,212.84 664.79,213.24 664.79,213.65 664.79,214.05 664.78,214.45 664.77,214.86 664.76,215.26 664.74,215.67 664.72,216.07 664.68,216.47 664.64,216.88 664.58,217.28 664.51,217.69 664.71,218.09 664.59,218.50 664.44,218.90 664.25,219.30 664.01,219.71 663.73,220.11 663.40,220.52 663.00,220.92 662.54,221.32 662.01,221.73 661.41,222.13 660.74,222.54 660.00,222.94 659.21,223.35 658.36,223.75 657.48,224.15 656.57,224.56 655.65,224.96 654.75,225.37 653.88,225.77 653.07,226.18 652.33,226.58 651.70,226.98 651.19,227.39 650.81,227.79 650.58,228.20 650.50,228.60 679.70,228.60 679.62,228.20 679.39,227.79 679.01,227.39 678.50,226.98 677.87,226.58 677.13,226.18 676.32,225.77 675.45,225.37 674.55,224.96 673.63,224.56 672.72,224.15 671.84,223.75 670.99,223.35 670.20,222.94 669.46,222.54 668.79,222.13 668.19,221.73 667.66,221.32 667.20,220.92 666.80,220.52 666.47,220.11 666.19,219.71 665.95,219.30 665.76,218.90 665.61,218.50 665.49,218.09 665.69,217.69 665.62,217.28 665.56,216.88 665.52,216.47 665.48,216.07 665.46,215.67 665.44,215.26 665.43,214.86 665.42,214.45 665.41,214.05 665.41,213.65 665.41,213.24 665.40,212.84 665.40,212.43 665.40,212.03 665.40,211.62 665.40,211.22 665.40,210.82 665.40,210.41 665.40,210.01 665.40,209.60 665.40,209.20 665.40,208.80 665.40,208.39 665.40,207.99 665.44,207.58 665.48,207.18 665.52,206.78 665.56,206.37 665.60,205.97 665.64,205.56 665.68,205.16 665.72,204.75 665.77,204.35 665.81,203.95 665.85,203.54 665.89,203.14 665.93,202.73 665.97,202.33 666.02,201.93 666.13,201.52 666.25,201.12 666.36,200.71 666.47,200.31 666.58,199.90 666.70,199.50 666.81,199.10 666.92,198.69 667.04,198.29 667.15,197.88 667.18,197.48 667.15,197.08 667.12,196.67 667.09,196.27 667.06,195.86 667.03,195.46 667.00,195.05 666.97,194.65 666.93,194.25 666.90,193.84 666.87,193.44 666.84,193.03 666.81,192.63 666.68,192.23 666.50,191.82 666.32,191.42 666.14,191.01 665.96,190.61 665.78,190.20 665.60,189.80" fill="#28aad7"/>
<line x1="662.10" y1="220.10" x2="668.10" y2="220.10" stroke="#222" stroke-width="0.7" />
<circle cx="665.55" cy="190.80" r="0.85" fill="#111"/>
<circle cx="664.89" cy="193.50" r="0.85" fill="#111"/>
<circle cx="665.29" cy="196.00" r="0.85" fill="#111"/>
<circle cx="665.27" cy="198.50" r="0.85" fill="#111"/>
<rect x="663.50" y="227.00" width="3.20" height="1.60" fill="#000" />
<text transform="translate(523.50,237.60) rotate(-45)" font-size="8" text-anchor="end" fill="#231f20"><tspan font-style="italic">Atf3</tspan> WT</text>
<text transform="translate(559.60,237.00) rotate(-45)" font-size="8" text-anchor="end" fill="#231f20"><tspan font-style="italic">Atf3</tspan> cKO</text>
<text transform="translate(633.20,237.60) rotate(-45)" font-size="8" text-anchor="end" fill="#231f20"><tspan font-style="italic">Atf3</tspan> WT</text>
<text transform="translate(668.60,237.00) rotate(-45)" font-size="8" text-anchor="end" fill="#231f20"><tspan font-style="italic">Atf3</tspan> cKO</text>
<line x1="85.90" y1="291.40" x2="85.90" y2="360.20" stroke="#9a9a9a" stroke-width="0.9" />
<line x1="83.20" y1="359.70" x2="85.90" y2="359.70" stroke="#9a9a9a" stroke-width="0.9" />
<text x="82.10" y="362.30" font-size="7.3" text-anchor="end" fill="#231f20" >0</text>
<line x1="83.20" y1="339.10" x2="85.90" y2="339.10" stroke="#9a9a9a" stroke-width="0.9" />
<text x="82.10" y="341.70" font-size="7.3" text-anchor="end" fill="#231f20" >2</text>
<line x1="83.20" y1="318.50" x2="85.90" y2="318.50" stroke="#9a9a9a" stroke-width="0.9" />
<text x="82.10" y="321.10" font-size="7.3" text-anchor="end" fill="#231f20" >4</text>
<line x1="83.20" y1="297.90" x2="85.90" y2="297.90" stroke="#9a9a9a" stroke-width="0.9" />
<text x="82.10" y="300.50" font-size="7.3" text-anchor="end" fill="#231f20" >6</text>
<line x1="90.40" y1="365.50" x2="158.60" y2="365.50" stroke="#6a6a6a" stroke-width="1.0" />
<text transform="translate(63.00,327.00) rotate(-90)" font-size="8" text-anchor="middle" fill="#231f20">Macrophage</text>
<text transform="translate(72.00,327.00) rotate(-90)" font-size="8" text-anchor="middle" fill="#231f20"><tspan font-style="italic">Il1b</tspan> expression</text>
<line x1="199.40" y1="293.70" x2="199.40" y2="362.90" stroke="#9a9a9a" stroke-width="0.9" />
<line x1="196.70" y1="362.40" x2="199.40" y2="362.40" stroke="#9a9a9a" stroke-width="0.9" />
<text x="195.60" y="365.00" font-size="7.3" text-anchor="end" fill="#231f20" >0</text>
<line x1="196.70" y1="331.30" x2="199.40" y2="331.30" stroke="#9a9a9a" stroke-width="0.9" />
<text x="195.60" y="333.90" font-size="7.3" text-anchor="end" fill="#231f20" >2</text>
<line x1="196.70" y1="300.20" x2="199.40" y2="300.20" stroke="#9a9a9a" stroke-width="0.9" />
<text x="195.60" y="302.80" font-size="7.3" text-anchor="end" fill="#231f20" >4</text>
<line x1="202.20" y1="365.50" x2="269.20" y2="365.50" stroke="#6a6a6a" stroke-width="1.0" />
<text transform="translate(174.00,331.00) rotate(-90)" font-size="8" text-anchor="middle" fill="#231f20">Macrophage</text>
<text transform="translate(183.00,331.00) rotate(-90)" font-size="8" text-anchor="middle" fill="#231f20"><tspan font-style="italic">Cd86</tspan> expression</text>
<line x1="310.50" y1="291.20" x2="310.50" y2="362.00" stroke="#9a9a9a" stroke-width="0.9" />
<line x1="307.80" y1="361.50" x2="310.50" y2="361.50" stroke="#9a9a9a" stroke-width="0.9" />
<text x="306.70" y="364.10" font-size="7.3" text-anchor="end" fill="#231f20" >0</text>
<line x1="307.80" y1="329.60" x2="310.50" y2="329.60" stroke="#9a9a9a" stroke-width="0.9" />
<text x="306.70" y="332.20" font-size="7.3" text-anchor="end" fill="#231f20" >2</text>
<line x1="307.80" y1="297.70" x2="310.50" y2="297.70" stroke="#9a9a9a" stroke-width="0.9" />
<text x="306.70" y="300.30" font-size="7.3" text-anchor="end" fill="#231f20" >4</text>
<line x1="313.70" y1="365.50" x2="381.20" y2="365.50" stroke="#6a6a6a" stroke-width="1.0" />
<text transform="translate(285.70,330.50) rotate(-90)" font-size="8" text-anchor="middle" fill="#231f20">Macrophage</text>
<text transform="translate(294.60,330.50) rotate(-90)" font-size="8" text-anchor="middle" fill="#231f20"><tspan font-style="italic">Cd80</tspan> expression</text>
<text x="110.2" y="300.4" font-size="8" fill="#231f20"><tspan font-style="italic">P</tspan> &lt; 0.01</text>
<text x="222.1" y="300.9" font-size="8" fill="#231f20"><tspan font-style="italic">P</tspan> = 0.02</text>
<text x="334.3" y="300.9" font-size="8" fill="#231f20"><tspan font-style="italic">P</tspan> &lt; 0.01</text>
<polygon points="105.90,297.30 105.82,297.70 105.75,298.11 105.67,298.51 105.59,298.91 105.52,299.31 105.44,299.72 105.37,300.12 105.29,300.52 105.21,300.92 105.14,301.33 105.06,301.73 104.98,302.13 104.91,302.53 104.83,302.94 104.74,303.34 104.63,303.74 104.52,304.14 104.41,304.55 104.30,304.95 104.20,305.35 104.09,305.75 103.98,306.16 103.87,306.56 103.77,306.96 103.66,307.36 103.55,307.77 103.44,308.17 103.33,308.57 103.29,308.97 103.29,309.38 103.28,309.78 103.27,310.18 103.26,310.58 103.25,310.99 103.24,311.39 103.23,311.79 103.22,312.19 103.22,312.60 103.21,313.00 103.20,313.40 103.19,313.80 103.18,314.21 103.17,314.61 103.16,315.01 103.16,315.41 103.15,315.82 103.14,316.22 103.13,316.62 103.12,317.02 103.11,317.43 103.10,317.83 103.10,318.23 103.10,318.63 103.10,319.04 103.10,319.44 103.10,319.84 103.10,320.24 103.10,320.65 103.10,321.05 103.10,321.45 103.10,321.85 103.10,322.26 103.10,322.66 103.10,323.06 103.10,323.46 103.10,323.87 103.10,324.27 103.10,324.67 103.10,325.07 103.10,325.48 103.10,325.88 103.10,326.28 103.10,326.68 103.10,327.09 103.11,327.49 103.12,327.89 103.14,328.29 103.15,328.70 103.16,329.10 103.18,329.50 103.19,329.91 103.21,330.31 103.22,330.71 103.24,331.11 103.25,331.52 103.26,331.92 103.28,332.32 103.29,332.72 103.31,333.13 103.32,333.53 103.34,333.93 103.35,334.33 103.37,334.74 103.38,335.14 103.39,335.54 103.41,335.94 103.42,336.35 103.44,336.75 103.45,337.15 103.47,337.55 103.48,337.96 103.49,338.36 103.55,338.76 103.61,339.16 103.68,339.57 103.75,339.97 103.82,340.37 103.89,340.77 103.96,341.18 104.03,341.58 104.10,341.98 104.17,342.38 104.24,342.79 104.31,343.19 104.38,343.59 104.45,343.99 104.52,344.40 104.59,344.80 104.66,345.20 104.73,345.60 104.80,346.01 104.87,346.41 104.94,346.81 105.01,347.21 105.08,347.62 105.15,348.02 105.21,348.42 105.28,348.82 105.33,349.23 105.39,349.63 105.43,350.03 105.46,350.43 105.48,350.84 105.47,351.24 105.43,351.64 105.33,352.04 105.18,352.45 104.98,352.85 105.11,353.25 104.75,353.65 104.32,354.06 103.81,354.46 103.20,354.86 102.50,355.26 101.71,355.67 100.83,356.07 99.88,356.47 98.86,356.87 97.80,357.28 96.72,357.68 95.66,358.08 94.64,358.48 93.71,358.89 92.89,359.29 92.22,359.69 91.71,360.09 91.40,360.50 91.30,360.90 121.30,360.90 121.20,360.50 120.89,360.09 120.38,359.69 119.71,359.29 118.89,358.89 117.96,358.48 116.94,358.08 115.88,357.68 114.80,357.28 113.74,356.87 112.72,356.47 111.77,356.07 110.89,355.67 110.10,355.26 109.40,354.86 108.79,354.46 108.28,354.06 107.85,353.65 107.49,353.25 107.62,352.85 107.42,352.45 107.27,352.04 107.17,351.64 107.13,351.24 107.12,350.84 107.14,350.43 107.17,350.03 107.21,349.63 107.27,349.23 107.32,348.82 107.39,348.42 107.45,348.02 107.52,347.62 107.59,347.21 107.66,346.81 107.73,346.41 107.80,346.01 107.87,345.60 107.94,345.20 108.01,344.80 108.08,344.40 108.15,343.99 108.22,343.59 108.29,343.19 108.36,342.79 108.43,342.38 108.50,341.98 108.57,341.58 108.64,341.18 108.71,340.77 108.78,340.37 108.85,339.97 108.92,339.57 108.99,339.16 109.05,338.76 109.11,338.36 109.12,337.96 109.13,337.55 109.15,337.15 109.16,336.75 109.18,336.35 109.19,335.94 109.21,335.54 109.22,335.14 109.23,334.74 109.25,334.33 109.26,333.93 109.28,333.53 109.29,333.13 109.31,332.72 109.32,332.32 109.34,331.92 109.35,331.52 109.36,331.11 109.38,330.71 109.39,330.31 109.41,329.91 109.42,329.50 109.44,329.10 109.45,328.70 109.46,328.29 109.48,327.89 109.49,327.49 109.50,327.09 109.50,326.68 109.50,326.28 109.50,325.88 109.50,325.48 109.50,325.07 109.50,324.67 109.50,324.27 109.50,323.87 109.50,323.46 109.50,323.06 109.50,322.66 109.50,322.26 109.50,321.85 109.50,321.45 109.50,321.05 109.50,320.65 109.50,320.24 109.50,319.84 109.50,319.44 109.50,319.04 109.50,318.63 109.50,318.23 109.50,317.83 109.49,317.43 109.48,317.02 109.47,316.62 109.46,316.22 109.45,315.82 109.44,315.41 109.44,315.01 109.43,314.61 109.42,314.21 109.41,313.80 109.40,313.40 109.39,313.00 109.38,312.60 109.38,312.19 109.37,311.79 109.36,311.39 109.35,310.99 109.34,310.58 109.33,310.18 109.32,309.78 109.31,309.38 109.31,308.97 109.27,308.57 109.16,308.17 109.05,307.77 108.94,307.36 108.83,306.96 108.73,306.56 108.62,306.16 108.51,305.75 108.40,305.35 108.30,304.95 108.19,304.55 108.08,304.14 107.97,303.74 107.86,303.34 107.77,302.94 107.69,302.53 107.62,302.13 107.54,301.73 107.46,301.33 107.39,300.92 107.31,300.52 107.23,300.12 107.16,299.72 107.08,299.31 107.01,298.91 106.93,298.51 106.85,298.11 106.78,297.70 106.70,297.30" fill="#d63a7e"/>
<polygon points="142.00,297.30 141.85,297.70 141.71,298.11 141.56,298.51 141.42,298.91 141.27,299.31 141.13,299.72 140.98,300.12 140.83,300.52 140.69,300.92 140.54,301.33 140.40,301.73 140.25,302.13 140.11,302.53 139.96,302.94 139.82,303.34 139.68,303.74 139.55,304.14 139.41,304.55 139.27,304.95 139.14,305.35 139.00,305.75 138.86,306.16 138.73,306.56 138.59,306.96 138.45,307.36 138.32,307.77 138.18,308.17 138.04,308.57 137.96,308.97 137.89,309.38 137.83,309.78 137.76,310.18 137.70,310.58 137.63,310.99 137.57,311.39 137.50,311.79 137.44,312.19 137.37,312.60 137.31,313.00 137.24,313.40 137.18,313.80 137.11,314.21 137.05,314.61 136.98,315.01 136.92,315.41 136.85,315.82 136.79,316.22 136.72,316.62 136.66,317.02 136.59,317.43 136.53,317.83 136.52,318.23 136.57,318.63 136.61,319.04 136.65,319.44 136.70,319.84 136.74,320.24 136.78,320.65 136.83,321.05 136.87,321.45 136.91,321.85 136.96,322.26 137.00,322.66 137.04,323.06 137.09,323.46 137.13,323.87 137.17,324.27 137.22,324.67 137.26,325.07 137.30,325.48 137.35,325.88 137.39,326.28 137.43,326.68 137.48,327.09 137.51,327.49 137.53,327.89 137.55,328.29 137.58,328.70 137.60,329.10 137.62,329.50 137.64,329.91 137.66,330.31 137.68,330.71 137.70,331.11 137.73,331.52 137.75,331.92 137.77,332.32 137.79,332.72 137.81,333.13 137.83,333.53 137.86,333.93 137.88,334.33 137.90,334.74 137.92,335.14 137.94,335.54 137.96,335.94 137.99,336.35 138.03,336.75 138.11,337.15 138.19,337.55 138.27,337.96 138.36,338.36 138.44,338.76 138.52,339.16 138.60,339.57 138.68,339.97 138.76,340.37 138.84,340.77 138.92,341.18 139.01,341.58 139.09,341.98 139.17,342.38 139.25,342.79 139.33,343.19 139.41,343.59 139.49,343.99 139.58,344.40 139.66,344.80 139.74,345.20 139.82,345.60 139.90,346.01 140.03,346.41 140.16,346.81 140.29,347.21 140.41,347.62 140.54,348.02 140.66,348.42 140.78,348.82 140.90,349.23 141.00,349.63 141.10,350.03 141.19,350.43 141.27,350.84 141.32,351.24 141.34,351.64 141.32,352.04 141.26,352.45 141.14,352.85 141.50,353.25 141.14,353.65 140.71,354.06 140.19,354.46 139.58,354.86 138.88,355.26 138.08,355.67 137.20,356.07 136.23,356.47 135.21,356.87 134.14,357.28 133.06,357.68 131.99,358.08 130.97,358.48 130.03,358.89 129.20,359.29 128.52,359.69 128.02,360.09 127.71,360.50 127.60,360.90 157.80,360.90 157.69,360.50 157.38,360.09 156.88,359.69 156.20,359.29 155.37,358.89 154.43,358.48 153.41,358.08 152.34,357.68 151.26,357.28 150.19,356.87 149.17,356.47 148.20,356.07 147.32,355.67 146.52,355.26 145.82,354.86 145.21,354.46 144.69,354.06 144.26,353.65 143.90,353.25 144.26,352.85 144.14,352.45 144.08,352.04 144.06,351.64 144.08,351.24 144.13,350.84 144.21,350.43 144.30,350.03 144.40,349.63 144.50,349.23 144.62,348.82 144.74,348.42 144.86,348.02 144.99,347.62 145.11,347.21 145.24,346.81 145.37,346.41 145.50,346.01 145.58,345.60 145.66,345.20 145.74,344.80 145.82,344.40 145.91,343.99 145.99,343.59 146.07,343.19 146.15,342.79 146.23,342.38 146.31,341.98 146.39,341.58 146.48,341.18 146.56,340.77 146.64,340.37 146.72,339.97 146.80,339.57 146.88,339.16 146.96,338.76 147.04,338.36 147.13,337.96 147.21,337.55 147.29,337.15 147.37,336.75 147.41,336.35 147.44,335.94 147.46,335.54 147.48,335.14 147.50,334.74 147.52,334.33 147.54,333.93 147.57,333.53 147.59,333.13 147.61,332.72 147.63,332.32 147.65,331.92 147.67,331.52 147.70,331.11 147.72,330.71 147.74,330.31 147.76,329.91 147.78,329.50 147.80,329.10 147.82,328.70 147.85,328.29 147.87,327.89 147.89,327.49 147.92,327.09 147.97,326.68 148.01,326.28 148.05,325.88 148.10,325.48 148.14,325.07 148.18,324.67 148.23,324.27 148.27,323.87 148.31,323.46 148.36,323.06 148.40,322.66 148.44,322.26 148.49,321.85 148.53,321.45 148.57,321.05 148.62,320.65 148.66,320.24 148.70,319.84 148.75,319.44 148.79,319.04 148.83,318.63 148.88,318.23 148.87,317.83 148.81,317.43 148.74,317.02 148.68,316.62 148.61,316.22 148.55,315.82 148.48,315.41 148.42,315.01 148.35,314.61 148.29,314.21 148.22,313.80 148.16,313.40 148.09,313.00 148.03,312.60 147.96,312.19 147.90,311.79 147.83,311.39 147.77,310.99 147.70,310.58 147.64,310.18 147.57,309.78 147.51,309.38 147.44,308.97 147.36,308.57 147.22,308.17 147.08,307.77 146.95,307.36 146.81,306.96 146.67,306.56 146.54,306.16 146.40,305.75 146.26,305.35 146.13,304.95 145.99,304.55 145.85,304.14 145.72,303.74 145.58,303.34 145.44,302.94 145.29,302.53 145.15,302.13 145.00,301.73 144.86,301.33 144.71,300.92 144.57,300.52 144.42,300.12 144.27,299.72 144.13,299.31 143.98,298.91 143.84,298.51 143.69,298.11 143.55,297.70 143.40,297.30" fill="#28aad7"/>
<circle cx="105.83" cy="310.99" r="0.60" fill="#111"/>
<circle cx="106.59" cy="342.87" r="0.60" fill="#111"/>
<circle cx="105.47" cy="311.33" r="0.60" fill="#111"/>
<circle cx="106.75" cy="339.21" r="0.60" fill="#111"/>
<circle cx="105.21" cy="340.66" r="0.60" fill="#111"/>
<circle cx="105.60" cy="303.87" r="0.60" fill="#111"/>
<circle cx="107.14" cy="342.93" r="0.60" fill="#111"/>
<circle cx="106.82" cy="317.35" r="0.60" fill="#111"/>
<circle cx="105.84" cy="334.43" r="0.60" fill="#111"/>
<circle cx="105.47" cy="343.00" r="0.60" fill="#111"/>
<circle cx="107.75" cy="345.53" r="0.60" fill="#111"/>
<circle cx="106.51" cy="321.99" r="0.60" fill="#111"/>
<circle cx="105.42" cy="316.73" r="0.60" fill="#111"/>
<circle cx="106.50" cy="331.87" r="0.60" fill="#111"/>
<circle cx="109.09" cy="328.67" r="0.60" fill="#111"/>
<circle cx="105.78" cy="347.64" r="0.60" fill="#111"/>
<circle cx="107.01" cy="318.36" r="0.60" fill="#111"/>
<circle cx="104.98" cy="333.35" r="0.60" fill="#111"/>
<circle cx="107.35" cy="347.88" r="0.60" fill="#111"/>
<circle cx="106.77" cy="318.66" r="0.60" fill="#111"/>
<circle cx="106.92" cy="331.15" r="0.60" fill="#111"/>
<circle cx="109.37" cy="309.26" r="0.60" fill="#111"/>
<circle cx="106.95" cy="317.13" r="0.60" fill="#111"/>
<circle cx="107.11" cy="335.35" r="0.60" fill="#111"/>
<circle cx="107.05" cy="303.09" r="0.60" fill="#111"/>
<circle cx="107.60" cy="329.53" r="0.60" fill="#111"/>
<circle cx="106.26" cy="335.36" r="0.60" fill="#111"/>
<circle cx="108.19" cy="334.81" r="0.60" fill="#111"/>
<circle cx="107.15" cy="337.02" r="0.60" fill="#111"/>
<circle cx="107.10" cy="299.77" r="0.60" fill="#111"/>
<circle cx="108.37" cy="341.12" r="0.60" fill="#111"/>
<circle cx="105.55" cy="300.18" r="0.60" fill="#111"/>
<circle cx="105.05" cy="316.20" r="0.60" fill="#111"/>
<circle cx="106.01" cy="304.45" r="0.60" fill="#111"/>
<circle cx="105.91" cy="337.67" r="0.60" fill="#111"/>
<circle cx="107.47" cy="305.10" r="0.60" fill="#111"/>
<circle cx="106.61" cy="326.83" r="0.60" fill="#111"/>
<circle cx="106.62" cy="324.10" r="0.60" fill="#111"/>
<circle cx="106.43" cy="313.40" r="0.60" fill="#111"/>
<circle cx="105.53" cy="319.28" r="0.60" fill="#111"/>
<circle cx="106.53" cy="301.66" r="0.60" fill="#111"/>
<circle cx="107.41" cy="326.35" r="0.60" fill="#111"/>
<circle cx="106.59" cy="321.51" r="0.60" fill="#111"/>
<circle cx="105.91" cy="340.66" r="0.60" fill="#111"/>
<circle cx="107.54" cy="306.59" r="0.60" fill="#111"/>
<circle cx="106.07" cy="318.92" r="0.60" fill="#111"/>
<circle cx="108.05" cy="329.00" r="0.60" fill="#111"/>
<circle cx="104.29" cy="319.26" r="0.60" fill="#111"/>
<circle cx="107.39" cy="299.52" r="0.60" fill="#111"/>
<circle cx="107.87" cy="334.99" r="0.60" fill="#111"/>
<circle cx="107.01" cy="333.92" r="0.60" fill="#111"/>
<circle cx="107.36" cy="300.40" r="0.60" fill="#111"/>
<circle cx="105.46" cy="304.40" r="0.60" fill="#111"/>
<circle cx="108.86" cy="330.51" r="0.60" fill="#111"/>
<circle cx="107.33" cy="340.54" r="0.60" fill="#111"/>
<circle cx="106.61" cy="302.84" r="0.60" fill="#111"/>
<circle cx="108.07" cy="311.78" r="0.60" fill="#111"/>
<circle cx="107.80" cy="315.11" r="0.60" fill="#111"/>
<circle cx="105.08" cy="322.96" r="0.60" fill="#111"/>
<circle cx="104.52" cy="345.38" r="0.60" fill="#111"/>
<circle cx="104.06" cy="326.83" r="0.60" fill="#111"/>
<circle cx="106.29" cy="318.33" r="0.60" fill="#111"/>
<circle cx="106.25" cy="313.67" r="0.60" fill="#111"/>
<circle cx="105.50" cy="317.03" r="0.60" fill="#111"/>
<circle cx="105.34" cy="320.03" r="0.60" fill="#111"/>
<circle cx="106.44" cy="320.09" r="0.60" fill="#111"/>
<circle cx="108.17" cy="321.09" r="0.60" fill="#111"/>
<circle cx="106.90" cy="302.03" r="0.60" fill="#111"/>
<circle cx="105.30" cy="324.87" r="0.60" fill="#111"/>
<circle cx="105.99" cy="309.91" r="0.60" fill="#111"/>
<circle cx="105.68" cy="303.86" r="0.60" fill="#111"/>
<circle cx="106.95" cy="322.72" r="0.60" fill="#111"/>
<circle cx="106.30" cy="310.29" r="0.60" fill="#111"/>
<circle cx="105.10" cy="299.44" r="0.60" fill="#111"/>
<circle cx="106.42" cy="318.92" r="0.60" fill="#111"/>
<circle cx="106.27" cy="328.07" r="0.60" fill="#111"/>
<circle cx="105.37" cy="346.08" r="0.60" fill="#111"/>
<circle cx="107.34" cy="317.08" r="0.60" fill="#111"/>
<circle cx="105.23" cy="313.76" r="0.60" fill="#111"/>
<circle cx="105.43" cy="314.44" r="0.60" fill="#111"/>
<circle cx="104.58" cy="323.38" r="0.60" fill="#111"/>
<circle cx="106.12" cy="301.60" r="0.60" fill="#111"/>
<circle cx="106.29" cy="303.55" r="0.60" fill="#111"/>
<circle cx="107.12" cy="337.99" r="0.60" fill="#111"/>
<circle cx="106.97" cy="319.85" r="0.60" fill="#111"/>
<circle cx="105.49" cy="313.00" r="0.60" fill="#111"/>
<circle cx="108.86" cy="332.31" r="0.60" fill="#111"/>
<circle cx="107.82" cy="339.75" r="0.60" fill="#111"/>
<circle cx="105.51" cy="315.08" r="0.60" fill="#111"/>
<circle cx="108.05" cy="337.63" r="0.60" fill="#111"/>
<circle cx="107.95" cy="330.47" r="0.60" fill="#111"/>
<circle cx="106.91" cy="301.35" r="0.60" fill="#111"/>
<circle cx="104.06" cy="329.61" r="0.60" fill="#111"/>
<circle cx="105.54" cy="330.30" r="0.60" fill="#111"/>
<circle cx="107.88" cy="300.09" r="0.60" fill="#111"/>
<circle cx="105.61" cy="327.41" r="0.60" fill="#111"/>
<circle cx="106.21" cy="299.27" r="0.60" fill="#111"/>
<circle cx="105.23" cy="332.30" r="0.60" fill="#111"/>
<circle cx="106.65" cy="347.20" r="0.60" fill="#111"/>
<circle cx="106.10" cy="337.29" r="0.60" fill="#111"/>
<circle cx="106.31" cy="320.59" r="0.60" fill="#111"/>
<circle cx="105.29" cy="320.94" r="0.60" fill="#111"/>
<circle cx="106.97" cy="320.41" r="0.60" fill="#111"/>
<circle cx="106.91" cy="335.00" r="0.60" fill="#111"/>
<circle cx="107.76" cy="302.50" r="0.60" fill="#111"/>
<circle cx="107.61" cy="331.65" r="0.60" fill="#111"/>
<circle cx="106.69" cy="325.86" r="0.60" fill="#111"/>
<circle cx="106.64" cy="314.19" r="0.60" fill="#111"/>
<circle cx="104.13" cy="345.74" r="0.60" fill="#111"/>
<circle cx="105.44" cy="309.35" r="0.60" fill="#111"/>
<circle cx="104.37" cy="319.33" r="0.60" fill="#111"/>
<circle cx="105.85" cy="305.04" r="0.60" fill="#111"/>
<circle cx="106.04" cy="341.81" r="0.60" fill="#111"/>
<circle cx="106.35" cy="320.17" r="0.60" fill="#111"/>
<circle cx="105.21" cy="317.50" r="0.60" fill="#111"/>
<circle cx="104.19" cy="323.19" r="0.60" fill="#111"/>
<circle cx="104.93" cy="332.79" r="0.60" fill="#111"/>
<circle cx="107.46" cy="304.16" r="0.60" fill="#111"/>
<circle cx="106.99" cy="335.37" r="0.60" fill="#111"/>
<circle cx="107.49" cy="308.90" r="0.60" fill="#111"/>
<circle cx="106.79" cy="315.97" r="0.60" fill="#111"/>
<circle cx="107.12" cy="327.98" r="0.60" fill="#111"/>
<circle cx="105.27" cy="324.48" r="0.60" fill="#111"/>
<circle cx="107.17" cy="340.27" r="0.60" fill="#111"/>
<circle cx="105.28" cy="316.55" r="0.60" fill="#111"/>
<circle cx="105.70" cy="347.05" r="0.60" fill="#111"/>
<circle cx="106.06" cy="315.07" r="0.60" fill="#111"/>
<circle cx="105.59" cy="311.80" r="0.60" fill="#111"/>
<circle cx="105.59" cy="334.79" r="0.60" fill="#111"/>
<circle cx="105.94" cy="302.14" r="0.60" fill="#111"/>
<circle cx="105.12" cy="339.42" r="0.60" fill="#111"/>
<circle cx="107.44" cy="320.20" r="0.60" fill="#111"/>
<circle cx="103.67" cy="329.26" r="0.60" fill="#111"/>
<circle cx="105.27" cy="343.57" r="0.60" fill="#111"/>
<circle cx="105.55" cy="321.33" r="0.60" fill="#111"/>
<circle cx="106.36" cy="335.90" r="0.60" fill="#111"/>
<circle cx="105.60" cy="304.01" r="0.60" fill="#111"/>
<circle cx="108.18" cy="300.72" r="0.60" fill="#111"/>
<circle cx="105.11" cy="333.23" r="0.60" fill="#111"/>
<circle cx="105.76" cy="315.32" r="0.60" fill="#111"/>
<circle cx="107.98" cy="306.43" r="0.60" fill="#111"/>
<circle cx="105.76" cy="338.48" r="0.60" fill="#111"/>
<circle cx="106.45" cy="303.79" r="0.60" fill="#111"/>
<circle cx="105.59" cy="308.76" r="0.60" fill="#111"/>
<circle cx="105.89" cy="325.21" r="0.60" fill="#111"/>
<circle cx="105.97" cy="336.48" r="0.60" fill="#111"/>
<circle cx="108.20" cy="327.54" r="0.60" fill="#111"/>
<circle cx="104.91" cy="332.77" r="0.60" fill="#111"/>
<circle cx="107.87" cy="316.84" r="0.60" fill="#111"/>
<circle cx="105.80" cy="313.25" r="0.60" fill="#111"/>
<circle cx="106.18" cy="341.02" r="0.60" fill="#111"/>
<circle cx="105.50" cy="311.21" r="0.60" fill="#111"/>
<circle cx="105.53" cy="300.00" r="0.60" fill="#111"/>
<circle cx="106.12" cy="313.36" r="0.60" fill="#111"/>
<circle cx="107.11" cy="311.39" r="0.60" fill="#111"/>
<circle cx="107.18" cy="312.36" r="0.60" fill="#111"/>
<circle cx="106.09" cy="312.97" r="0.60" fill="#111"/>
<circle cx="107.52" cy="341.82" r="0.60" fill="#111"/>
<circle cx="107.59" cy="306.85" r="0.60" fill="#111"/>
<circle cx="104.73" cy="328.86" r="0.60" fill="#111"/>
<circle cx="106.17" cy="325.65" r="0.60" fill="#111"/>
<circle cx="105.03" cy="331.34" r="0.60" fill="#111"/>
<circle cx="106.43" cy="344.04" r="0.60" fill="#111"/>
<circle cx="105.51" cy="301.66" r="0.60" fill="#111"/>
<circle cx="105.12" cy="344.90" r="0.60" fill="#111"/>
<circle cx="107.68" cy="310.44" r="0.60" fill="#111"/>
<circle cx="105.15" cy="321.19" r="0.60" fill="#111"/>
<circle cx="107.52" cy="345.24" r="0.60" fill="#111"/>
<circle cx="105.42" cy="323.78" r="0.60" fill="#111"/>
<circle cx="105.91" cy="310.38" r="0.60" fill="#111"/>
<circle cx="108.19" cy="345.54" r="0.60" fill="#111"/>
<circle cx="107.87" cy="331.20" r="0.60" fill="#111"/>
<circle cx="106.69" cy="302.52" r="0.60" fill="#111"/>
<circle cx="106.02" cy="326.71" r="0.60" fill="#111"/>
<circle cx="107.19" cy="304.87" r="0.60" fill="#111"/>
<circle cx="106.24" cy="341.73" r="0.60" fill="#111"/>
<circle cx="106.11" cy="302.01" r="0.60" fill="#111"/>
<circle cx="105.96" cy="300.45" r="0.60" fill="#111"/>
<circle cx="107.86" cy="326.98" r="0.60" fill="#111"/>
<circle cx="106.13" cy="340.91" r="0.60" fill="#111"/>
<circle cx="105.89" cy="337.46" r="0.60" fill="#111"/>
<circle cx="106.24" cy="324.82" r="0.60" fill="#111"/>
<circle cx="105.35" cy="308.04" r="0.60" fill="#111"/>
<circle cx="106.14" cy="323.45" r="0.60" fill="#111"/>
<circle cx="106.00" cy="308.68" r="0.60" fill="#111"/>
<circle cx="105.27" cy="322.81" r="0.60" fill="#111"/>
<circle cx="104.98" cy="302.86" r="0.60" fill="#111"/>
<circle cx="106.41" cy="346.65" r="0.60" fill="#111"/>
<circle cx="106.88" cy="326.51" r="0.60" fill="#111"/>
<circle cx="106.96" cy="315.45" r="0.60" fill="#111"/>
<circle cx="108.92" cy="333.40" r="0.60" fill="#111"/>
<circle cx="105.24" cy="345.55" r="0.60" fill="#111"/>
<circle cx="107.83" cy="344.34" r="0.60" fill="#111"/>
<circle cx="104.42" cy="299.99" r="0.60" fill="#111"/>
<circle cx="104.97" cy="322.99" r="0.60" fill="#111"/>
<circle cx="105.45" cy="329.02" r="0.60" fill="#111"/>
<circle cx="106.70" cy="329.04" r="0.60" fill="#111"/>
<circle cx="106.12" cy="324.44" r="0.60" fill="#111"/>
<circle cx="106.79" cy="346.01" r="0.60" fill="#111"/>
<circle cx="106.40" cy="341.58" r="0.60" fill="#111"/>
<circle cx="106.56" cy="345.90" r="0.60" fill="#111"/>
<circle cx="106.34" cy="339.66" r="0.60" fill="#111"/>
<circle cx="104.95" cy="332.74" r="0.60" fill="#111"/>
<circle cx="106.13" cy="336.11" r="0.60" fill="#111"/>
<circle cx="106.69" cy="338.58" r="0.60" fill="#111"/>
<circle cx="106.30" cy="337.91" r="0.60" fill="#111"/>
<circle cx="106.83" cy="346.79" r="0.60" fill="#111"/>
<circle cx="105.38" cy="315.44" r="0.60" fill="#111"/>
<circle cx="108.07" cy="315.99" r="0.60" fill="#111"/>
<circle cx="106.47" cy="311.85" r="0.60" fill="#111"/>
<circle cx="105.38" cy="327.70" r="0.60" fill="#111"/>
<circle cx="106.15" cy="332.07" r="0.60" fill="#111"/>
<circle cx="106.51" cy="321.29" r="0.60" fill="#111"/>
<circle cx="108.43" cy="307.61" r="0.60" fill="#111"/>
<circle cx="106.27" cy="306.35" r="0.60" fill="#111"/>
<circle cx="107.48" cy="337.40" r="0.60" fill="#111"/>
<circle cx="106.41" cy="315.31" r="0.60" fill="#111"/>
<circle cx="107.80" cy="311.75" r="0.60" fill="#111"/>
<circle cx="106.23" cy="324.62" r="0.60" fill="#111"/>
<circle cx="108.42" cy="308.04" r="0.60" fill="#111"/>
<circle cx="106.01" cy="310.38" r="0.60" fill="#111"/>
<circle cx="107.18" cy="334.60" r="0.60" fill="#111"/>
<circle cx="106.62" cy="332.03" r="0.60" fill="#111"/>
<circle cx="105.05" cy="302.85" r="0.60" fill="#111"/>
<circle cx="106.33" cy="336.41" r="0.60" fill="#111"/>
<circle cx="107.03" cy="319.30" r="0.60" fill="#111"/>
<circle cx="105.63" cy="347.50" r="0.60" fill="#111"/>
<circle cx="107.01" cy="343.64" r="0.60" fill="#111"/>
<circle cx="105.88" cy="347.53" r="0.60" fill="#111"/>
<circle cx="106.66" cy="337.69" r="0.60" fill="#111"/>
<circle cx="105.34" cy="337.33" r="0.60" fill="#111"/>
<circle cx="107.86" cy="317.59" r="0.60" fill="#111"/>
<circle cx="104.88" cy="313.07" r="0.60" fill="#111"/>
<circle cx="105.36" cy="322.32" r="0.60" fill="#111"/>
<circle cx="107.51" cy="339.10" r="0.60" fill="#111"/>
<circle cx="106.41" cy="317.64" r="0.60" fill="#111"/>
<circle cx="106.79" cy="302.19" r="0.60" fill="#111"/>
<circle cx="106.01" cy="309.07" r="0.60" fill="#111"/>
<circle cx="108.62" cy="342.03" r="0.60" fill="#111"/>
<circle cx="105.71" cy="315.75" r="0.60" fill="#111"/>
<circle cx="107.33" cy="344.61" r="0.60" fill="#111"/>
<circle cx="107.57" cy="345.33" r="0.60" fill="#111"/>
<circle cx="107.33" cy="308.44" r="0.60" fill="#111"/>
<circle cx="107.47" cy="342.24" r="0.60" fill="#111"/>
<circle cx="107.38" cy="334.60" r="0.60" fill="#111"/>
<circle cx="105.94" cy="317.24" r="0.60" fill="#111"/>
<circle cx="105.95" cy="304.89" r="0.60" fill="#111"/>
<circle cx="108.72" cy="302.51" r="0.60" fill="#111"/>
<circle cx="106.11" cy="308.06" r="0.60" fill="#111"/>
<circle cx="106.57" cy="314.04" r="0.60" fill="#111"/>
<circle cx="107.21" cy="307.96" r="0.60" fill="#111"/>
<circle cx="107.18" cy="325.48" r="0.60" fill="#111"/>
<circle cx="106.40" cy="326.82" r="0.60" fill="#111"/>
<circle cx="105.04" cy="345.41" r="0.60" fill="#111"/>
<circle cx="106.37" cy="302.99" r="0.60" fill="#111"/>
<circle cx="106.71" cy="314.16" r="0.60" fill="#111"/>
<circle cx="107.39" cy="336.27" r="0.60" fill="#111"/>
<circle cx="105.74" cy="306.86" r="0.60" fill="#111"/>
<circle cx="105.51" cy="315.19" r="0.60" fill="#111"/>
<circle cx="105.94" cy="337.85" r="0.60" fill="#111"/>
<circle cx="104.94" cy="346.66" r="0.60" fill="#111"/>
<circle cx="106.65" cy="340.45" r="0.60" fill="#111"/>
<circle cx="107.20" cy="321.79" r="0.60" fill="#111"/>
<circle cx="108.62" cy="346.92" r="0.60" fill="#111"/>
<circle cx="106.38" cy="300.20" r="0.60" fill="#111"/>
<circle cx="105.26" cy="301.54" r="0.60" fill="#111"/>
<circle cx="107.09" cy="306.98" r="0.60" fill="#111"/>
<circle cx="107.80" cy="309.37" r="0.60" fill="#111"/>
<circle cx="106.65" cy="299.96" r="0.60" fill="#111"/>
<circle cx="108.12" cy="323.46" r="0.60" fill="#111"/>
<circle cx="105.66" cy="330.99" r="0.60" fill="#111"/>
<circle cx="106.44" cy="299.74" r="0.60" fill="#111"/>
<circle cx="107.08" cy="313.91" r="0.60" fill="#111"/>
<circle cx="106.51" cy="329.32" r="0.60" fill="#111"/>
<circle cx="104.87" cy="317.10" r="0.60" fill="#111"/>
<circle cx="106.54" cy="314.54" r="0.60" fill="#111"/>
<circle cx="107.32" cy="316.47" r="0.60" fill="#111"/>
<circle cx="105.39" cy="319.43" r="0.60" fill="#111"/>
<circle cx="105.40" cy="325.47" r="0.60" fill="#111"/>
<circle cx="106.53" cy="343.77" r="0.60" fill="#111"/>
<circle cx="108.16" cy="310.43" r="0.60" fill="#111"/>
<circle cx="105.51" cy="342.22" r="0.60" fill="#111"/>
<circle cx="103.32" cy="306.97" r="0.60" fill="#111"/>
<circle cx="106.13" cy="313.14" r="0.60" fill="#111"/>
<circle cx="106.17" cy="307.38" r="0.60" fill="#111"/>
<circle cx="105.55" cy="327.60" r="0.60" fill="#111"/>
<circle cx="107.10" cy="306.72" r="0.60" fill="#111"/>
<circle cx="106.03" cy="303.75" r="0.60" fill="#111"/>
<circle cx="105.54" cy="332.68" r="0.60" fill="#111"/>
<circle cx="107.39" cy="323.36" r="0.60" fill="#111"/>
<circle cx="105.29" cy="344.21" r="0.60" fill="#111"/>
<circle cx="106.21" cy="299.08" r="0.60" fill="#111"/>
<circle cx="106.14" cy="323.33" r="0.60" fill="#111"/>
<circle cx="107.64" cy="329.96" r="0.60" fill="#111"/>
<circle cx="107.33" cy="321.65" r="0.60" fill="#111"/>
<circle cx="106.95" cy="322.61" r="0.60" fill="#111"/>
<circle cx="107.12" cy="330.42" r="0.60" fill="#111"/>
<circle cx="106.14" cy="320.69" r="0.60" fill="#111"/>
<circle cx="106.53" cy="303.15" r="0.60" fill="#111"/>
<circle cx="105.58" cy="339.62" r="0.60" fill="#111"/>
<circle cx="106.23" cy="338.10" r="0.60" fill="#111"/>
<circle cx="108.53" cy="323.69" r="0.60" fill="#111"/>
<circle cx="103.95" cy="319.88" r="0.60" fill="#111"/>
<circle cx="105.45" cy="323.00" r="0.60" fill="#111"/>
<circle cx="105.80" cy="322.63" r="0.60" fill="#111"/>
<circle cx="108.22" cy="323.65" r="0.60" fill="#111"/>
<circle cx="106.54" cy="315.78" r="0.60" fill="#111"/>
<circle cx="106.98" cy="339.87" r="0.60" fill="#111"/>
<circle cx="108.59" cy="338.37" r="0.60" fill="#111"/>
<circle cx="105.99" cy="332.57" r="0.60" fill="#111"/>
<circle cx="105.85" cy="338.07" r="0.60" fill="#111"/>
<circle cx="104.47" cy="338.26" r="0.60" fill="#111"/>
<circle cx="106.65" cy="307.63" r="0.60" fill="#111"/>
<circle cx="105.49" cy="310.96" r="0.60" fill="#111"/>
<circle cx="107.53" cy="344.06" r="0.60" fill="#111"/>
<circle cx="106.48" cy="315.81" r="0.60" fill="#111"/>
<circle cx="104.55" cy="337.80" r="0.60" fill="#111"/>
<circle cx="104.84" cy="344.69" r="0.60" fill="#111"/>
<circle cx="107.71" cy="330.57" r="0.60" fill="#111"/>
<circle cx="106.91" cy="304.36" r="0.60" fill="#111"/>
<circle cx="106.92" cy="347.13" r="0.60" fill="#111"/>
<circle cx="105.65" cy="308.11" r="0.60" fill="#111"/>
<circle cx="106.45" cy="333.02" r="0.60" fill="#111"/>
<circle cx="103.30" cy="329.52" r="0.60" fill="#111"/>
<circle cx="106.25" cy="305.14" r="0.60" fill="#111"/>
<circle cx="105.94" cy="341.52" r="0.60" fill="#111"/>
<circle cx="106.76" cy="336.66" r="0.60" fill="#111"/>
<circle cx="104.25" cy="326.89" r="0.60" fill="#111"/>
<circle cx="105.53" cy="345.23" r="0.60" fill="#111"/>
<circle cx="105.38" cy="317.84" r="0.60" fill="#111"/>
<circle cx="106.91" cy="316.32" r="0.60" fill="#111"/>
<circle cx="106.39" cy="337.99" r="0.60" fill="#111"/>
<circle cx="105.28" cy="310.21" r="0.60" fill="#111"/>
<circle cx="104.83" cy="333.03" r="0.60" fill="#111"/>
<circle cx="105.97" cy="324.28" r="0.60" fill="#111"/>
<circle cx="107.06" cy="308.18" r="0.60" fill="#111"/>
<circle cx="105.34" cy="330.74" r="0.60" fill="#111"/>
<circle cx="104.02" cy="315.20" r="0.60" fill="#111"/>
<circle cx="107.03" cy="344.43" r="0.60" fill="#111"/>
<circle cx="105.85" cy="345.65" r="0.60" fill="#111"/>
<circle cx="108.04" cy="329.35" r="0.60" fill="#111"/>
<circle cx="105.88" cy="315.33" r="0.60" fill="#111"/>
<circle cx="105.11" cy="312.69" r="0.60" fill="#111"/>
<circle cx="106.13" cy="300.73" r="0.60" fill="#111"/>
<circle cx="105.16" cy="341.26" r="0.60" fill="#111"/>
<circle cx="106.04" cy="335.49" r="0.60" fill="#111"/>
<circle cx="106.73" cy="311.24" r="0.60" fill="#111"/>
<circle cx="107.60" cy="310.82" r="0.60" fill="#111"/>
<circle cx="106.61" cy="315.05" r="0.60" fill="#111"/>
<circle cx="106.44" cy="316.41" r="0.60" fill="#111"/>
<circle cx="107.70" cy="324.82" r="0.60" fill="#111"/>
<circle cx="105.83" cy="319.31" r="0.60" fill="#111"/>
<circle cx="106.41" cy="318.93" r="0.60" fill="#111"/>
<circle cx="107.47" cy="345.99" r="0.60" fill="#111"/>
<circle cx="104.86" cy="304.98" r="0.60" fill="#111"/>
<circle cx="106.94" cy="336.36" r="0.60" fill="#111"/>
<circle cx="104.76" cy="326.20" r="0.60" fill="#111"/>
<circle cx="104.41" cy="343.23" r="0.60" fill="#111"/>
<circle cx="102.86" cy="311.31" r="0.60" fill="#111"/>
<circle cx="105.39" cy="324.86" r="0.60" fill="#111"/>
<circle cx="106.34" cy="308.28" r="0.60" fill="#111"/>
<circle cx="105.95" cy="306.37" r="0.60" fill="#111"/>
<circle cx="106.07" cy="326.01" r="0.60" fill="#111"/>
<circle cx="107.93" cy="334.61" r="0.60" fill="#111"/>
<circle cx="106.46" cy="314.65" r="0.60" fill="#111"/>
<circle cx="104.81" cy="333.59" r="0.60" fill="#111"/>
<circle cx="105.85" cy="321.37" r="0.60" fill="#111"/>
<circle cx="106.50" cy="322.27" r="0.60" fill="#111"/>
<circle cx="106.57" cy="345.78" r="0.60" fill="#111"/>
<circle cx="106.07" cy="302.48" r="0.60" fill="#111"/>
<circle cx="105.92" cy="312.20" r="0.60" fill="#111"/>
<circle cx="105.26" cy="305.26" r="0.60" fill="#111"/>
<circle cx="104.77" cy="319.85" r="0.60" fill="#111"/>
<circle cx="105.54" cy="318.75" r="0.60" fill="#111"/>
<circle cx="105.70" cy="330.83" r="0.60" fill="#111"/>
<circle cx="105.00" cy="301.27" r="0.60" fill="#111"/>
<circle cx="106.54" cy="333.81" r="0.60" fill="#111"/>
<circle cx="106.55" cy="322.21" r="0.60" fill="#111"/>
<circle cx="107.22" cy="299.82" r="0.60" fill="#111"/>
<circle cx="106.76" cy="321.96" r="0.60" fill="#111"/>
<circle cx="108.24" cy="304.17" r="0.60" fill="#111"/>
<circle cx="105.72" cy="322.85" r="0.60" fill="#111"/>
<circle cx="105.11" cy="327.80" r="0.60" fill="#111"/>
<circle cx="109.02" cy="304.88" r="0.60" fill="#111"/>
<circle cx="106.68" cy="313.90" r="0.60" fill="#111"/>
<circle cx="108.34" cy="323.93" r="0.60" fill="#111"/>
<circle cx="104.56" cy="319.11" r="0.60" fill="#111"/>
<circle cx="107.58" cy="311.61" r="0.60" fill="#111"/>
<circle cx="106.01" cy="337.77" r="0.60" fill="#111"/>
<circle cx="105.21" cy="316.92" r="0.60" fill="#111"/>
<circle cx="105.44" cy="320.41" r="0.60" fill="#111"/>
<circle cx="106.56" cy="329.57" r="0.60" fill="#111"/>
<circle cx="105.71" cy="319.15" r="0.60" fill="#111"/>
<circle cx="107.98" cy="321.30" r="0.60" fill="#111"/>
<circle cx="107.13" cy="322.20" r="0.60" fill="#111"/>
<circle cx="105.52" cy="317.42" r="0.60" fill="#111"/>
<circle cx="108.10" cy="343.00" r="0.60" fill="#111"/>
<circle cx="106.03" cy="318.67" r="0.60" fill="#111"/>
<circle cx="106.25" cy="331.89" r="0.60" fill="#111"/>
<circle cx="105.43" cy="334.48" r="0.60" fill="#111"/>
<circle cx="105.44" cy="345.54" r="0.60" fill="#111"/>
<circle cx="105.02" cy="320.32" r="0.60" fill="#111"/>
<circle cx="106.57" cy="331.02" r="0.60" fill="#111"/>
<circle cx="108.06" cy="325.42" r="0.60" fill="#111"/>
<circle cx="105.41" cy="347.02" r="0.60" fill="#111"/>
<circle cx="107.67" cy="299.82" r="0.60" fill="#111"/>
<circle cx="106.38" cy="319.39" r="0.60" fill="#111"/>
<circle cx="105.50" cy="329.06" r="0.60" fill="#111"/>
<circle cx="103.66" cy="309.82" r="0.60" fill="#111"/>
<circle cx="108.26" cy="308.64" r="0.60" fill="#111"/>
<circle cx="107.57" cy="343.72" r="0.60" fill="#111"/>
<circle cx="106.80" cy="339.24" r="0.60" fill="#111"/>
<circle cx="105.23" cy="340.03" r="0.60" fill="#111"/>
<circle cx="107.17" cy="333.89" r="0.60" fill="#111"/>
<circle cx="106.27" cy="336.32" r="0.60" fill="#111"/>
<circle cx="104.94" cy="311.33" r="0.60" fill="#111"/>
<circle cx="105.10" cy="333.56" r="0.60" fill="#111"/>
<circle cx="105.81" cy="347.37" r="0.60" fill="#111"/>
<circle cx="106.48" cy="305.69" r="0.60" fill="#111"/>
<circle cx="105.40" cy="334.60" r="0.60" fill="#111"/>
<circle cx="142.49" cy="345.52" r="0.60" fill="#111"/>
<circle cx="144.08" cy="324.42" r="0.60" fill="#111"/>
<circle cx="143.45" cy="322.76" r="0.60" fill="#111"/>
<circle cx="144.01" cy="342.67" r="0.60" fill="#111"/>
<circle cx="142.22" cy="331.16" r="0.60" fill="#111"/>
<circle cx="144.60" cy="319.00" r="0.60" fill="#111"/>
<circle cx="141.76" cy="305.26" r="0.60" fill="#111"/>
<circle cx="141.96" cy="324.49" r="0.60" fill="#111"/>
<circle cx="140.28" cy="347.56" r="0.60" fill="#111"/>
<circle cx="141.57" cy="315.63" r="0.60" fill="#111"/>
<circle cx="143.51" cy="335.95" r="0.60" fill="#111"/>
<circle cx="143.12" cy="332.60" r="0.60" fill="#111"/>
<circle cx="143.20" cy="332.51" r="0.60" fill="#111"/>
<circle cx="141.77" cy="311.68" r="0.60" fill="#111"/>
<circle cx="142.47" cy="315.92" r="0.60" fill="#111"/>
<circle cx="142.64" cy="316.73" r="0.60" fill="#111"/>
<circle cx="143.25" cy="330.86" r="0.60" fill="#111"/>
<circle cx="143.45" cy="341.63" r="0.60" fill="#111"/>
<circle cx="142.70" cy="344.68" r="0.60" fill="#111"/>
<circle cx="143.38" cy="303.89" r="0.60" fill="#111"/>
<circle cx="143.18" cy="302.29" r="0.60" fill="#111"/>
<circle cx="141.00" cy="311.22" r="0.60" fill="#111"/>
<circle cx="142.61" cy="322.46" r="0.60" fill="#111"/>
<circle cx="142.46" cy="338.94" r="0.60" fill="#111"/>
<circle cx="143.11" cy="340.98" r="0.60" fill="#111"/>
<circle cx="144.33" cy="332.96" r="0.60" fill="#111"/>
<circle cx="143.25" cy="314.85" r="0.60" fill="#111"/>
<circle cx="142.18" cy="321.70" r="0.60" fill="#111"/>
<circle cx="140.85" cy="313.69" r="0.60" fill="#111"/>
<circle cx="143.41" cy="326.50" r="0.60" fill="#111"/>
<circle cx="143.47" cy="328.46" r="0.60" fill="#111"/>
<circle cx="142.64" cy="309.14" r="0.60" fill="#111"/>
<circle cx="144.34" cy="328.98" r="0.60" fill="#111"/>
<circle cx="144.96" cy="315.06" r="0.60" fill="#111"/>
<circle cx="140.86" cy="320.00" r="0.60" fill="#111"/>
<circle cx="143.55" cy="343.77" r="0.60" fill="#111"/>
<circle cx="143.18" cy="331.85" r="0.60" fill="#111"/>
<circle cx="143.59" cy="333.32" r="0.60" fill="#111"/>
<circle cx="144.32" cy="308.80" r="0.60" fill="#111"/>
<circle cx="141.23" cy="309.32" r="0.60" fill="#111"/>
<circle cx="142.93" cy="316.21" r="0.60" fill="#111"/>
<circle cx="144.40" cy="300.36" r="0.60" fill="#111"/>
<circle cx="144.61" cy="332.78" r="0.60" fill="#111"/>
<circle cx="143.49" cy="325.16" r="0.60" fill="#111"/>
<circle cx="142.97" cy="327.16" r="0.60" fill="#111"/>
<circle cx="142.88" cy="315.65" r="0.60" fill="#111"/>
<circle cx="140.96" cy="347.24" r="0.60" fill="#111"/>
<circle cx="141.43" cy="301.13" r="0.60" fill="#111"/>
<circle cx="144.35" cy="303.09" r="0.60" fill="#111"/>
<circle cx="142.92" cy="306.82" r="0.60" fill="#111"/>
<circle cx="141.87" cy="311.63" r="0.60" fill="#111"/>
<circle cx="141.26" cy="314.12" r="0.60" fill="#111"/>
<circle cx="142.36" cy="321.37" r="0.60" fill="#111"/>
<circle cx="144.04" cy="315.79" r="0.60" fill="#111"/>
<circle cx="142.71" cy="316.00" r="0.60" fill="#111"/>
<circle cx="143.60" cy="311.05" r="0.60" fill="#111"/>
<circle cx="142.16" cy="298.81" r="0.60" fill="#111"/>
<circle cx="144.04" cy="311.43" r="0.60" fill="#111"/>
<circle cx="143.39" cy="303.65" r="0.60" fill="#111"/>
<circle cx="141.70" cy="323.59" r="0.60" fill="#111"/>
<circle cx="144.07" cy="313.59" r="0.60" fill="#111"/>
<circle cx="141.52" cy="329.13" r="0.60" fill="#111"/>
<circle cx="142.25" cy="330.97" r="0.60" fill="#111"/>
<circle cx="141.51" cy="318.66" r="0.60" fill="#111"/>
<circle cx="141.49" cy="317.50" r="0.60" fill="#111"/>
<circle cx="142.67" cy="324.45" r="0.60" fill="#111"/>
<circle cx="143.25" cy="324.65" r="0.60" fill="#111"/>
<circle cx="140.49" cy="309.20" r="0.60" fill="#111"/>
<circle cx="142.61" cy="299.11" r="0.60" fill="#111"/>
<circle cx="142.96" cy="337.82" r="0.60" fill="#111"/>
<circle cx="142.54" cy="329.02" r="0.60" fill="#111"/>
<circle cx="143.39" cy="341.43" r="0.60" fill="#111"/>
<circle cx="142.03" cy="339.81" r="0.60" fill="#111"/>
<circle cx="141.19" cy="335.23" r="0.60" fill="#111"/>
<circle cx="141.60" cy="320.73" r="0.60" fill="#111"/>
<circle cx="143.52" cy="342.02" r="0.60" fill="#111"/>
<circle cx="144.48" cy="347.57" r="0.60" fill="#111"/>
<circle cx="141.68" cy="301.72" r="0.60" fill="#111"/>
<circle cx="144.03" cy="310.35" r="0.60" fill="#111"/>
<circle cx="142.45" cy="323.74" r="0.60" fill="#111"/>
<circle cx="143.54" cy="313.49" r="0.60" fill="#111"/>
<circle cx="141.71" cy="347.52" r="0.60" fill="#111"/>
<circle cx="142.88" cy="301.78" r="0.60" fill="#111"/>
<circle cx="142.69" cy="305.41" r="0.60" fill="#111"/>
<circle cx="142.37" cy="317.48" r="0.60" fill="#111"/>
<circle cx="142.30" cy="326.12" r="0.60" fill="#111"/>
<circle cx="141.02" cy="344.97" r="0.60" fill="#111"/>
<circle cx="143.42" cy="327.59" r="0.60" fill="#111"/>
<circle cx="143.26" cy="327.12" r="0.60" fill="#111"/>
<circle cx="143.77" cy="343.02" r="0.60" fill="#111"/>
<circle cx="142.94" cy="331.71" r="0.60" fill="#111"/>
<circle cx="143.85" cy="325.18" r="0.60" fill="#111"/>
<circle cx="141.35" cy="314.84" r="0.60" fill="#111"/>
<circle cx="141.98" cy="298.89" r="0.60" fill="#111"/>
<circle cx="142.28" cy="309.00" r="0.60" fill="#111"/>
<circle cx="142.08" cy="301.64" r="0.60" fill="#111"/>
<circle cx="141.33" cy="336.09" r="0.60" fill="#111"/>
<circle cx="145.05" cy="325.94" r="0.60" fill="#111"/>
<circle cx="142.15" cy="303.07" r="0.60" fill="#111"/>
<circle cx="142.06" cy="338.72" r="0.60" fill="#111"/>
<circle cx="142.72" cy="334.21" r="0.60" fill="#111"/>
<circle cx="142.33" cy="299.71" r="0.60" fill="#111"/>
<circle cx="143.16" cy="337.89" r="0.60" fill="#111"/>
<circle cx="143.26" cy="299.50" r="0.60" fill="#111"/>
<circle cx="140.02" cy="306.18" r="0.60" fill="#111"/>
<circle cx="143.15" cy="314.07" r="0.60" fill="#111"/>
<circle cx="143.02" cy="310.97" r="0.60" fill="#111"/>
<circle cx="142.09" cy="329.76" r="0.60" fill="#111"/>
<circle cx="143.00" cy="328.76" r="0.60" fill="#111"/>
<circle cx="142.57" cy="326.16" r="0.60" fill="#111"/>
<circle cx="143.07" cy="317.14" r="0.60" fill="#111"/>
<circle cx="141.96" cy="333.75" r="0.60" fill="#111"/>
<circle cx="139.86" cy="307.26" r="0.60" fill="#111"/>
<circle cx="142.79" cy="310.00" r="0.60" fill="#111"/>
<circle cx="144.11" cy="311.94" r="0.60" fill="#111"/>
<circle cx="141.90" cy="301.29" r="0.60" fill="#111"/>
<circle cx="142.77" cy="307.32" r="0.60" fill="#111"/>
<circle cx="143.59" cy="340.23" r="0.60" fill="#111"/>
<circle cx="144.29" cy="333.03" r="0.60" fill="#111"/>
<circle cx="142.50" cy="329.39" r="0.60" fill="#111"/>
<circle cx="142.44" cy="317.16" r="0.60" fill="#111"/>
<circle cx="141.47" cy="300.94" r="0.60" fill="#111"/>
<circle cx="141.71" cy="322.60" r="0.60" fill="#111"/>
<circle cx="143.58" cy="300.44" r="0.60" fill="#111"/>
<circle cx="143.73" cy="299.40" r="0.60" fill="#111"/>
<circle cx="142.59" cy="314.50" r="0.60" fill="#111"/>
<circle cx="140.70" cy="305.42" r="0.60" fill="#111"/>
<circle cx="141.38" cy="307.02" r="0.60" fill="#111"/>
<circle cx="140.86" cy="323.01" r="0.60" fill="#111"/>
<circle cx="142.70" cy="326.25" r="0.60" fill="#111"/>
<circle cx="143.34" cy="309.94" r="0.60" fill="#111"/>
<circle cx="144.31" cy="301.91" r="0.60" fill="#111"/>
<circle cx="143.38" cy="341.24" r="0.60" fill="#111"/>
<circle cx="142.85" cy="321.39" r="0.60" fill="#111"/>
<circle cx="141.39" cy="340.20" r="0.60" fill="#111"/>
<circle cx="141.48" cy="336.05" r="0.60" fill="#111"/>
<circle cx="144.61" cy="334.12" r="0.60" fill="#111"/>
<circle cx="143.34" cy="305.39" r="0.60" fill="#111"/>
<circle cx="142.95" cy="306.12" r="0.60" fill="#111"/>
<circle cx="142.76" cy="341.85" r="0.60" fill="#111"/>
<circle cx="142.99" cy="317.05" r="0.60" fill="#111"/>
<circle cx="142.87" cy="340.32" r="0.60" fill="#111"/>
<circle cx="142.96" cy="328.08" r="0.60" fill="#111"/>
<circle cx="142.55" cy="303.63" r="0.60" fill="#111"/>
<circle cx="142.89" cy="312.33" r="0.60" fill="#111"/>
<circle cx="143.19" cy="308.03" r="0.60" fill="#111"/>
<circle cx="143.02" cy="330.02" r="0.60" fill="#111"/>
<circle cx="143.27" cy="324.78" r="0.60" fill="#111"/>
<circle cx="143.53" cy="316.78" r="0.60" fill="#111"/>
<circle cx="143.83" cy="323.40" r="0.60" fill="#111"/>
<circle cx="142.40" cy="317.40" r="0.60" fill="#111"/>
<circle cx="142.75" cy="328.75" r="0.60" fill="#111"/>
<circle cx="142.62" cy="307.67" r="0.60" fill="#111"/>
<circle cx="142.83" cy="342.39" r="0.60" fill="#111"/>
<circle cx="141.65" cy="327.38" r="0.60" fill="#111"/>
<circle cx="143.55" cy="344.99" r="0.60" fill="#111"/>
<circle cx="141.44" cy="304.60" r="0.60" fill="#111"/>
<circle cx="143.83" cy="316.61" r="0.60" fill="#111"/>
<circle cx="142.96" cy="333.34" r="0.60" fill="#111"/>
<circle cx="142.53" cy="312.23" r="0.60" fill="#111"/>
<circle cx="142.70" cy="312.64" r="0.60" fill="#111"/>
<circle cx="140.81" cy="332.97" r="0.60" fill="#111"/>
<circle cx="143.12" cy="344.24" r="0.60" fill="#111"/>
<circle cx="143.69" cy="340.65" r="0.60" fill="#111"/>
<circle cx="144.99" cy="336.28" r="0.60" fill="#111"/>
<circle cx="144.66" cy="335.02" r="0.60" fill="#111"/>
<circle cx="141.75" cy="341.30" r="0.60" fill="#111"/>
<circle cx="143.82" cy="345.94" r="0.60" fill="#111"/>
<circle cx="140.69" cy="342.90" r="0.60" fill="#111"/>
<circle cx="141.64" cy="347.95" r="0.60" fill="#111"/>
<circle cx="141.17" cy="339.96" r="0.60" fill="#111"/>
<circle cx="140.42" cy="305.19" r="0.60" fill="#111"/>
<circle cx="142.17" cy="318.18" r="0.60" fill="#111"/>
<circle cx="142.48" cy="337.04" r="0.60" fill="#111"/>
<circle cx="142.10" cy="301.11" r="0.60" fill="#111"/>
<circle cx="142.07" cy="314.14" r="0.60" fill="#111"/>
<circle cx="143.12" cy="328.34" r="0.60" fill="#111"/>
<circle cx="143.80" cy="340.86" r="0.60" fill="#111"/>
<circle cx="142.62" cy="347.34" r="0.60" fill="#111"/>
<circle cx="143.73" cy="332.69" r="0.60" fill="#111"/>
<circle cx="143.12" cy="307.49" r="0.60" fill="#111"/>
<circle cx="142.12" cy="325.84" r="0.60" fill="#111"/>
<circle cx="142.75" cy="314.97" r="0.60" fill="#111"/>
<circle cx="142.70" cy="298.10" r="0.60" fill="#111"/>
<circle cx="142.17" cy="314.41" r="0.60" fill="#111"/>
<circle cx="145.99" cy="329.88" r="0.60" fill="#111"/>
<circle cx="142.53" cy="301.26" r="0.60" fill="#111"/>
<circle cx="141.93" cy="322.08" r="0.60" fill="#111"/>
<circle cx="144.27" cy="334.13" r="0.60" fill="#111"/>
<circle cx="140.72" cy="319.05" r="0.60" fill="#111"/>
<circle cx="141.95" cy="313.89" r="0.60" fill="#111"/>
<circle cx="143.26" cy="335.08" r="0.60" fill="#111"/>
<circle cx="142.46" cy="321.15" r="0.60" fill="#111"/>
<circle cx="142.13" cy="337.14" r="0.60" fill="#111"/>
<circle cx="143.14" cy="346.34" r="0.60" fill="#111"/>
<circle cx="144.13" cy="306.10" r="0.60" fill="#111"/>
<circle cx="142.11" cy="299.77" r="0.60" fill="#111"/>
<circle cx="143.05" cy="334.54" r="0.60" fill="#111"/>
<circle cx="141.41" cy="326.62" r="0.60" fill="#111"/>
<circle cx="140.18" cy="300.91" r="0.60" fill="#111"/>
<circle cx="143.87" cy="302.92" r="0.60" fill="#111"/>
<circle cx="142.97" cy="339.22" r="0.60" fill="#111"/>
<circle cx="140.67" cy="332.19" r="0.60" fill="#111"/>
<circle cx="142.07" cy="316.61" r="0.60" fill="#111"/>
<circle cx="142.55" cy="303.65" r="0.60" fill="#111"/>
<circle cx="142.51" cy="309.47" r="0.60" fill="#111"/>
<circle cx="142.91" cy="299.49" r="0.60" fill="#111"/>
<circle cx="143.03" cy="324.58" r="0.60" fill="#111"/>
<circle cx="141.10" cy="304.40" r="0.60" fill="#111"/>
<circle cx="141.48" cy="315.22" r="0.60" fill="#111"/>
<circle cx="141.87" cy="304.02" r="0.60" fill="#111"/>
<circle cx="141.17" cy="342.20" r="0.60" fill="#111"/>
<circle cx="140.83" cy="325.71" r="0.60" fill="#111"/>
<circle cx="141.64" cy="331.86" r="0.60" fill="#111"/>
<circle cx="142.27" cy="346.74" r="0.60" fill="#111"/>
<circle cx="144.51" cy="329.64" r="0.60" fill="#111"/>
<circle cx="143.93" cy="321.42" r="0.60" fill="#111"/>
<circle cx="142.78" cy="311.17" r="0.60" fill="#111"/>
<circle cx="141.41" cy="328.08" r="0.60" fill="#111"/>
<circle cx="142.62" cy="300.94" r="0.60" fill="#111"/>
<circle cx="141.42" cy="304.58" r="0.60" fill="#111"/>
<circle cx="141.68" cy="347.53" r="0.60" fill="#111"/>
<circle cx="142.40" cy="337.64" r="0.60" fill="#111"/>
<circle cx="143.85" cy="323.29" r="0.60" fill="#111"/>
<circle cx="140.78" cy="338.20" r="0.60" fill="#111"/>
<circle cx="144.20" cy="322.20" r="0.60" fill="#111"/>
<circle cx="141.69" cy="317.90" r="0.60" fill="#111"/>
<circle cx="142.83" cy="347.98" r="0.60" fill="#111"/>
<circle cx="142.35" cy="300.32" r="0.60" fill="#111"/>
<circle cx="142.96" cy="331.90" r="0.60" fill="#111"/>
<circle cx="143.37" cy="305.53" r="0.60" fill="#111"/>
<circle cx="143.61" cy="328.10" r="0.60" fill="#111"/>
<circle cx="141.85" cy="336.18" r="0.60" fill="#111"/>
<circle cx="143.01" cy="316.39" r="0.60" fill="#111"/>
<circle cx="142.74" cy="342.42" r="0.60" fill="#111"/>
<circle cx="142.86" cy="342.29" r="0.60" fill="#111"/>
<circle cx="143.09" cy="322.15" r="0.60" fill="#111"/>
<circle cx="143.13" cy="342.52" r="0.60" fill="#111"/>
<circle cx="144.19" cy="335.46" r="0.60" fill="#111"/>
<circle cx="143.34" cy="308.69" r="0.60" fill="#111"/>
<circle cx="142.42" cy="320.29" r="0.60" fill="#111"/>
<circle cx="142.49" cy="344.78" r="0.60" fill="#111"/>
<circle cx="143.86" cy="314.76" r="0.60" fill="#111"/>
<circle cx="144.18" cy="303.46" r="0.60" fill="#111"/>
<circle cx="142.00" cy="299.86" r="0.60" fill="#111"/>
<circle cx="141.71" cy="343.03" r="0.60" fill="#111"/>
<circle cx="142.79" cy="337.53" r="0.60" fill="#111"/>
<circle cx="143.02" cy="328.17" r="0.60" fill="#111"/>
<circle cx="141.94" cy="321.52" r="0.60" fill="#111"/>
<circle cx="144.99" cy="308.42" r="0.60" fill="#111"/>
<circle cx="144.89" cy="330.16" r="0.60" fill="#111"/>
<circle cx="143.79" cy="345.44" r="0.60" fill="#111"/>
<circle cx="141.96" cy="328.90" r="0.60" fill="#111"/>
<circle cx="144.27" cy="343.17" r="0.60" fill="#111"/>
<circle cx="143.94" cy="337.75" r="0.60" fill="#111"/>
<circle cx="143.02" cy="305.00" r="0.60" fill="#111"/>
<circle cx="144.76" cy="325.32" r="0.60" fill="#111"/>
<circle cx="142.03" cy="310.44" r="0.60" fill="#111"/>
<circle cx="142.43" cy="325.60" r="0.60" fill="#111"/>
<circle cx="143.30" cy="335.19" r="0.60" fill="#111"/>
<circle cx="142.12" cy="335.97" r="0.60" fill="#111"/>
<circle cx="143.66" cy="332.82" r="0.60" fill="#111"/>
<circle cx="142.17" cy="334.38" r="0.60" fill="#111"/>
<circle cx="142.82" cy="302.78" r="0.60" fill="#111"/>
<circle cx="143.28" cy="306.48" r="0.60" fill="#111"/>
<circle cx="141.58" cy="330.22" r="0.60" fill="#111"/>
<circle cx="142.24" cy="316.23" r="0.60" fill="#111"/>
<circle cx="143.19" cy="346.73" r="0.60" fill="#111"/>
<circle cx="143.86" cy="328.28" r="0.60" fill="#111"/>
<circle cx="143.92" cy="327.90" r="0.60" fill="#111"/>
<circle cx="142.88" cy="328.66" r="0.60" fill="#111"/>
<circle cx="141.23" cy="341.82" r="0.60" fill="#111"/>
<circle cx="141.40" cy="346.48" r="0.60" fill="#111"/>
<circle cx="143.56" cy="316.72" r="0.60" fill="#111"/>
<circle cx="141.66" cy="318.53" r="0.60" fill="#111"/>
<circle cx="143.86" cy="315.63" r="0.60" fill="#111"/>
<circle cx="143.81" cy="315.60" r="0.60" fill="#111"/>
<circle cx="141.11" cy="331.81" r="0.60" fill="#111"/>
<circle cx="141.53" cy="340.18" r="0.60" fill="#111"/>
<circle cx="143.72" cy="310.56" r="0.60" fill="#111"/>
<circle cx="144.26" cy="313.77" r="0.60" fill="#111"/>
<circle cx="143.84" cy="344.06" r="0.60" fill="#111"/>
<circle cx="142.31" cy="313.14" r="0.60" fill="#111"/>
<circle cx="143.07" cy="305.11" r="0.60" fill="#111"/>
<circle cx="143.05" cy="329.91" r="0.60" fill="#111"/>
<circle cx="142.42" cy="310.73" r="0.60" fill="#111"/>
<circle cx="143.03" cy="335.95" r="0.60" fill="#111"/>
<circle cx="144.89" cy="315.64" r="0.60" fill="#111"/>
<circle cx="142.97" cy="321.67" r="0.60" fill="#111"/>
<circle cx="143.55" cy="319.23" r="0.60" fill="#111"/>
<circle cx="142.66" cy="311.91" r="0.60" fill="#111"/>
<circle cx="142.43" cy="329.94" r="0.60" fill="#111"/>
<circle cx="142.38" cy="338.13" r="0.60" fill="#111"/>
<circle cx="143.33" cy="304.00" r="0.60" fill="#111"/>
<circle cx="143.08" cy="301.87" r="0.60" fill="#111"/>
<circle cx="141.28" cy="298.76" r="0.60" fill="#111"/>
<circle cx="141.93" cy="320.66" r="0.60" fill="#111"/>
<circle cx="142.15" cy="299.74" r="0.60" fill="#111"/>
<circle cx="140.95" cy="319.05" r="0.60" fill="#111"/>
<circle cx="145.00" cy="315.99" r="0.60" fill="#111"/>
<circle cx="143.65" cy="344.13" r="0.60" fill="#111"/>
<circle cx="141.66" cy="304.30" r="0.60" fill="#111"/>
<circle cx="143.86" cy="338.39" r="0.60" fill="#111"/>
<circle cx="143.44" cy="302.86" r="0.60" fill="#111"/>
<circle cx="142.17" cy="302.63" r="0.60" fill="#111"/>
<circle cx="143.04" cy="347.60" r="0.60" fill="#111"/>
<circle cx="144.86" cy="326.90" r="0.60" fill="#111"/>
<circle cx="141.07" cy="335.90" r="0.60" fill="#111"/>
<circle cx="140.85" cy="330.29" r="0.60" fill="#111"/>
<circle cx="143.02" cy="331.47" r="0.60" fill="#111"/>
<circle cx="141.60" cy="305.90" r="0.60" fill="#111"/>
<circle cx="142.49" cy="323.77" r="0.60" fill="#111"/>
<circle cx="142.18" cy="333.66" r="0.60" fill="#111"/>
<circle cx="141.40" cy="337.44" r="0.60" fill="#111"/>
<circle cx="143.21" cy="339.26" r="0.60" fill="#111"/>
<circle cx="143.03" cy="300.36" r="0.60" fill="#111"/>
<circle cx="143.60" cy="306.02" r="0.60" fill="#111"/>
<circle cx="142.46" cy="319.95" r="0.60" fill="#111"/>
<circle cx="141.90" cy="321.27" r="0.60" fill="#111"/>
<circle cx="142.36" cy="336.93" r="0.60" fill="#111"/>
<circle cx="143.80" cy="314.58" r="0.60" fill="#111"/>
<circle cx="141.09" cy="298.06" r="0.60" fill="#111"/>
<circle cx="144.57" cy="325.39" r="0.60" fill="#111"/>
<circle cx="143.94" cy="301.47" r="0.60" fill="#111"/>
<circle cx="142.87" cy="311.36" r="0.60" fill="#111"/>
<circle cx="141.27" cy="331.35" r="0.60" fill="#111"/>
<circle cx="141.98" cy="318.65" r="0.60" fill="#111"/>
<circle cx="142.61" cy="321.12" r="0.60" fill="#111"/>
<circle cx="142.47" cy="310.86" r="0.60" fill="#111"/>
<circle cx="142.24" cy="304.88" r="0.60" fill="#111"/>
<circle cx="141.30" cy="307.88" r="0.60" fill="#111"/>
<circle cx="142.41" cy="298.15" r="0.60" fill="#111"/>
<circle cx="143.24" cy="347.36" r="0.60" fill="#111"/>
<circle cx="141.79" cy="305.94" r="0.60" fill="#111"/>
<circle cx="143.37" cy="339.29" r="0.60" fill="#111"/>
<circle cx="142.60" cy="335.80" r="0.60" fill="#111"/>
<circle cx="143.38" cy="338.90" r="0.60" fill="#111"/>
<circle cx="142.42" cy="304.02" r="0.60" fill="#111"/>
<circle cx="142.97" cy="306.23" r="0.60" fill="#111"/>
<circle cx="145.00" cy="343.50" r="0.60" fill="#111"/>
<circle cx="143.40" cy="321.69" r="0.60" fill="#111"/>
<circle cx="143.42" cy="310.06" r="0.60" fill="#111"/>
<circle cx="142.35" cy="330.42" r="0.60" fill="#111"/>
<circle cx="140.86" cy="319.85" r="0.60" fill="#111"/>
<circle cx="141.68" cy="320.84" r="0.60" fill="#111"/>
<circle cx="142.91" cy="320.76" r="0.60" fill="#111"/>
<circle cx="142.47" cy="332.26" r="0.60" fill="#111"/>
<circle cx="141.77" cy="326.34" r="0.60" fill="#111"/>
<circle cx="143.73" cy="305.25" r="0.60" fill="#111"/>
<circle cx="143.00" cy="315.96" r="0.60" fill="#111"/>
<circle cx="143.70" cy="299.63" r="0.60" fill="#111"/>
<circle cx="143.24" cy="345.11" r="0.60" fill="#111"/>
<circle cx="143.63" cy="339.88" r="0.60" fill="#111"/>
<circle cx="142.88" cy="316.43" r="0.60" fill="#111"/>
<circle cx="143.64" cy="313.56" r="0.60" fill="#111"/>
<circle cx="143.79" cy="339.95" r="0.60" fill="#111"/>
<circle cx="142.93" cy="317.08" r="0.60" fill="#111"/>
<circle cx="143.16" cy="298.76" r="0.60" fill="#111"/>
<circle cx="142.91" cy="336.27" r="0.60" fill="#111"/>
<circle cx="144.42" cy="337.54" r="0.60" fill="#111"/>
<circle cx="143.05" cy="302.17" r="0.60" fill="#111"/>
<circle cx="143.57" cy="336.44" r="0.60" fill="#111"/>
<circle cx="142.31" cy="334.84" r="0.60" fill="#111"/>
<circle cx="143.82" cy="315.75" r="0.60" fill="#111"/>
<circle cx="142.93" cy="321.59" r="0.60" fill="#111"/>
<circle cx="141.89" cy="338.52" r="0.60" fill="#111"/>
<circle cx="140.50" cy="344.00" r="0.60" fill="#111"/>
<circle cx="141.08" cy="344.90" r="0.60" fill="#111"/>
<circle cx="143.42" cy="306.56" r="0.60" fill="#111"/>
<circle cx="142.66" cy="338.23" r="0.60" fill="#111"/>
<circle cx="142.32" cy="304.06" r="0.60" fill="#111"/>
<circle cx="143.80" cy="339.96" r="0.60" fill="#111"/>
<circle cx="143.36" cy="332.04" r="0.60" fill="#111"/>
<circle cx="144.91" cy="341.27" r="0.60" fill="#111"/>
<circle cx="143.54" cy="323.49" r="0.60" fill="#111"/>
<circle cx="142.98" cy="312.62" r="0.60" fill="#111"/>
<circle cx="144.06" cy="318.94" r="0.60" fill="#111"/>
<circle cx="142.19" cy="338.98" r="0.60" fill="#111"/>
<circle cx="142.75" cy="301.56" r="0.60" fill="#111"/>
<circle cx="144.45" cy="315.02" r="0.60" fill="#111"/>
<circle cx="143.02" cy="309.37" r="0.60" fill="#111"/>
<circle cx="142.83" cy="318.62" r="0.60" fill="#111"/>
<circle cx="141.57" cy="325.31" r="0.60" fill="#111"/>
<circle cx="143.52" cy="312.55" r="0.60" fill="#111"/>
<circle cx="142.25" cy="298.84" r="0.60" fill="#111"/>
<circle cx="141.83" cy="322.57" r="0.60" fill="#111"/>
<circle cx="142.66" cy="316.89" r="0.60" fill="#111"/>
<circle cx="143.05" cy="312.83" r="0.60" fill="#111"/>
<circle cx="142.90" cy="312.90" r="0.60" fill="#111"/>
<circle cx="142.87" cy="322.03" r="0.60" fill="#111"/>
<circle cx="143.44" cy="298.98" r="0.60" fill="#111"/>
<circle cx="142.00" cy="320.19" r="0.60" fill="#111"/>
<circle cx="143.19" cy="324.28" r="0.60" fill="#111"/>
<circle cx="142.78" cy="337.27" r="0.60" fill="#111"/>
<circle cx="141.71" cy="325.82" r="0.60" fill="#111"/>
<circle cx="142.74" cy="335.56" r="0.60" fill="#111"/>
<circle cx="143.24" cy="323.16" r="0.60" fill="#111"/>
<circle cx="140.72" cy="342.69" r="0.60" fill="#111"/>
<circle cx="142.15" cy="334.29" r="0.60" fill="#111"/>
<circle cx="141.63" cy="324.67" r="0.60" fill="#111"/>
<circle cx="140.73" cy="326.95" r="0.60" fill="#111"/>
<circle cx="142.38" cy="340.90" r="0.60" fill="#111"/>
<circle cx="142.72" cy="300.60" r="0.60" fill="#111"/>
<circle cx="141.21" cy="327.92" r="0.60" fill="#111"/>
<circle cx="143.87" cy="343.41" r="0.60" fill="#111"/>
<circle cx="143.08" cy="316.77" r="0.60" fill="#111"/>
<circle cx="143.41" cy="345.42" r="0.60" fill="#111"/>
<circle cx="143.89" cy="305.22" r="0.60" fill="#111"/>
<circle cx="140.94" cy="335.69" r="0.60" fill="#111"/>
<circle cx="142.82" cy="313.35" r="0.60" fill="#111"/>
<circle cx="143.47" cy="342.17" r="0.60" fill="#111"/>
<circle cx="142.73" cy="334.67" r="0.60" fill="#111"/>
<circle cx="142.85" cy="341.94" r="0.60" fill="#111"/>
<circle cx="141.85" cy="302.05" r="0.60" fill="#111"/>
<circle cx="142.66" cy="333.47" r="0.60" fill="#111"/>
<circle cx="142.32" cy="344.74" r="0.60" fill="#111"/>
<circle cx="143.91" cy="324.39" r="0.60" fill="#111"/>
<circle cx="142.96" cy="314.91" r="0.60" fill="#111"/>
<circle cx="144.60" cy="303.22" r="0.60" fill="#111"/>
<circle cx="141.04" cy="304.20" r="0.60" fill="#111"/>
<circle cx="142.46" cy="320.28" r="0.60" fill="#111"/>
<circle cx="144.30" cy="303.49" r="0.60" fill="#111"/>
<circle cx="141.67" cy="314.68" r="0.60" fill="#111"/>
<circle cx="143.35" cy="319.76" r="0.60" fill="#111"/>
<circle cx="145.03" cy="327.80" r="0.60" fill="#111"/>
<circle cx="141.78" cy="343.37" r="0.60" fill="#111"/>
<circle cx="142.81" cy="339.45" r="0.60" fill="#111"/>
<circle cx="143.50" cy="320.99" r="0.60" fill="#111"/>
<circle cx="141.91" cy="330.17" r="0.60" fill="#111"/>
<circle cx="142.08" cy="347.59" r="0.60" fill="#111"/>
<circle cx="143.17" cy="313.62" r="0.60" fill="#111"/>
<circle cx="142.76" cy="308.47" r="0.60" fill="#111"/>
<circle cx="142.87" cy="334.54" r="0.60" fill="#111"/>
<circle cx="142.43" cy="309.85" r="0.60" fill="#111"/>
<circle cx="143.22" cy="310.12" r="0.60" fill="#111"/>
<circle cx="140.45" cy="311.17" r="0.60" fill="#111"/>
<circle cx="145.52" cy="303.12" r="0.60" fill="#111"/>
<circle cx="142.10" cy="333.83" r="0.60" fill="#111"/>
<circle cx="142.66" cy="321.63" r="0.60" fill="#111"/>
<circle cx="140.86" cy="323.47" r="0.60" fill="#111"/>
<circle cx="141.13" cy="311.56" r="0.60" fill="#111"/>
<circle cx="142.45" cy="314.22" r="0.60" fill="#111"/>
<circle cx="144.44" cy="329.96" r="0.60" fill="#111"/>
<circle cx="144.99" cy="308.57" r="0.60" fill="#111"/>
<circle cx="145.26" cy="309.32" r="0.60" fill="#111"/>
<circle cx="142.05" cy="344.26" r="0.60" fill="#111"/>
<circle cx="143.86" cy="340.06" r="0.60" fill="#111"/>
<circle cx="141.07" cy="326.33" r="0.60" fill="#111"/>
<circle cx="142.47" cy="301.71" r="0.60" fill="#111"/>
<circle cx="140.66" cy="339.89" r="0.60" fill="#111"/>
<circle cx="144.32" cy="300.18" r="0.60" fill="#111"/>
<circle cx="143.36" cy="322.40" r="0.60" fill="#111"/>
<circle cx="143.87" cy="342.68" r="0.60" fill="#111"/>
<circle cx="142.63" cy="331.78" r="0.60" fill="#111"/>
<circle cx="142.34" cy="331.25" r="0.60" fill="#111"/>
<circle cx="141.73" cy="329.98" r="0.60" fill="#111"/>
<circle cx="144.10" cy="301.39" r="0.60" fill="#111"/>
<circle cx="141.68" cy="338.13" r="0.60" fill="#111"/>
<circle cx="143.03" cy="321.11" r="0.60" fill="#111"/>
<circle cx="143.84" cy="332.03" r="0.60" fill="#111"/>
<circle cx="142.77" cy="325.41" r="0.60" fill="#111"/>
<circle cx="142.76" cy="317.89" r="0.60" fill="#111"/>
<circle cx="142.81" cy="310.24" r="0.60" fill="#111"/>
<circle cx="143.46" cy="318.79" r="0.60" fill="#111"/>
<circle cx="144.09" cy="332.76" r="0.60" fill="#111"/>
<circle cx="141.86" cy="299.04" r="0.60" fill="#111"/>
<circle cx="141.34" cy="341.38" r="0.60" fill="#111"/>
<circle cx="141.59" cy="328.68" r="0.60" fill="#111"/>
<circle cx="142.48" cy="315.71" r="0.60" fill="#111"/>
<circle cx="143.05" cy="331.20" r="0.60" fill="#111"/>
<circle cx="141.70" cy="300.70" r="0.60" fill="#111"/>
<circle cx="140.54" cy="331.39" r="0.60" fill="#111"/>
<circle cx="143.68" cy="328.31" r="0.60" fill="#111"/>
<circle cx="140.14" cy="338.63" r="0.60" fill="#111"/>
<circle cx="142.52" cy="347.50" r="0.60" fill="#111"/>
<circle cx="142.75" cy="328.72" r="0.60" fill="#111"/>
<circle cx="143.67" cy="329.92" r="0.60" fill="#111"/>
<circle cx="141.57" cy="316.17" r="0.60" fill="#111"/>
<circle cx="143.43" cy="298.24" r="0.60" fill="#111"/>
<circle cx="141.38" cy="347.27" r="0.60" fill="#111"/>
<ellipse cx="106.30" cy="359.3" rx="2.6" ry="1.3" fill="#000"/>
<ellipse cx="142.70" cy="359.3" rx="2.6" ry="1.3" fill="#000"/>
<polygon points="217.30,307.30 217.21,307.70 217.12,308.10 217.03,308.51 216.94,308.91 216.85,309.31 216.76,309.71 216.70,310.12 216.70,310.52 216.70,310.92 216.70,311.32 216.70,311.72 216.70,312.13 216.70,312.53 216.70,312.93 216.70,313.33 216.70,313.74 216.70,314.14 216.70,314.54 216.70,314.94 216.70,315.34 216.70,315.75 216.70,316.15 216.70,316.55 216.70,316.95 216.70,317.35 216.70,317.76 216.70,318.16 216.70,318.56 216.70,318.96 216.70,319.37 216.70,319.77 216.70,320.17 216.70,320.57 216.70,320.97 216.70,321.38 216.70,321.78 216.70,322.18 216.70,322.58 216.70,322.99 216.70,323.39 216.70,323.79 216.70,324.19 216.70,324.59 216.70,325.00 216.70,325.40 216.70,325.80 216.70,326.20 216.70,326.61 216.70,327.01 216.70,327.41 216.70,327.81 216.70,328.21 216.70,328.62 216.70,329.02 216.70,329.42 216.70,329.82 216.70,330.22 216.70,330.63 216.70,331.03 216.70,331.43 216.70,331.83 216.70,332.24 216.70,332.64 216.70,333.04 216.70,333.44 216.70,333.84 216.70,334.25 216.70,334.65 216.70,335.05 216.70,335.45 216.70,335.86 216.70,336.26 216.70,336.66 216.70,337.06 216.70,337.46 216.70,337.87 216.70,338.27 216.70,338.67 216.70,339.07 216.70,339.48 216.70,339.88 216.70,340.28 216.70,340.68 216.70,341.08 216.70,341.49 216.70,341.89 216.70,342.29 216.70,342.69 216.70,343.09 216.70,343.50 216.70,343.90 216.70,344.30 216.70,344.70 216.71,345.11 216.75,345.51 216.79,345.91 216.83,346.31 216.87,346.71 216.91,347.12 216.95,347.52 216.99,347.92 217.03,348.32 217.07,348.73 217.11,349.13 217.14,349.53 217.17,349.93 217.20,350.33 217.23,350.74 217.26,351.14 217.28,351.54 217.30,351.94 217.45,352.35 217.45,352.75 217.45,353.15 217.45,353.55 217.34,353.95 217.19,354.36 216.99,354.76 216.73,355.16 216.40,355.56 215.98,355.96 215.46,356.37 214.85,356.77 214.12,357.17 213.28,357.57 212.34,357.98 211.30,358.38 210.19,358.78 209.03,359.18 207.87,359.58 206.73,359.99 205.67,360.39 204.72,360.79 203.93,361.19 203.34,361.60 202.97,362.00 202.85,362.40 232.55,362.40 232.43,362.00 232.06,361.60 231.47,361.19 230.68,360.79 229.73,360.39 228.67,359.99 227.53,359.58 226.37,359.18 225.21,358.78 224.10,358.38 223.06,357.98 222.12,357.57 221.28,357.17 220.55,356.77 219.94,356.37 219.42,355.96 219.00,355.56 218.67,355.16 218.41,354.76 218.21,354.36 218.06,353.95 217.95,353.55 217.95,353.15 217.95,352.75 217.95,352.35 218.10,351.94 218.12,351.54 218.14,351.14 218.17,350.74 218.20,350.33 218.23,349.93 218.26,349.53 218.29,349.13 218.33,348.73 218.37,348.32 218.41,347.92 218.45,347.52 218.49,347.12 218.53,346.71 218.57,346.31 218.61,345.91 218.65,345.51 218.69,345.11 218.70,344.70 218.70,344.30 218.70,343.90 218.70,343.50 218.70,343.09 218.70,342.69 218.70,342.29 218.70,341.89 218.70,341.49 218.70,341.08 218.70,340.68 218.70,340.28 218.70,339.88 218.70,339.48 218.70,339.07 218.70,338.67 218.70,338.27 218.70,337.87 218.70,337.46 218.70,337.06 218.70,336.66 218.70,336.26 218.70,335.86 218.70,335.45 218.70,335.05 218.70,334.65 218.70,334.25 218.70,333.84 218.70,333.44 218.70,333.04 218.70,332.64 218.70,332.24 218.70,331.83 218.70,331.43 218.70,331.03 218.70,330.63 218.70,330.22 218.70,329.82 218.70,329.42 218.70,329.02 218.70,328.62 218.70,328.21 218.70,327.81 218.70,327.41 218.70,327.01 218.70,326.61 218.70,326.20 218.70,325.80 218.70,325.40 218.70,325.00 218.70,324.59 218.70,324.19 218.70,323.79 218.70,323.39 218.70,322.99 218.70,322.58 218.70,322.18 218.70,321.78 218.70,321.38 218.70,320.97 218.70,320.57 218.70,320.17 218.70,319.77 218.70,319.37 218.70,318.96 218.70,318.56 218.70,318.16 218.70,317.76 218.70,317.35 218.70,316.95 218.70,316.55 218.70,316.15 218.70,315.75 218.70,315.34 218.70,314.94 218.70,314.54 218.70,314.14 218.70,313.74 218.70,313.33 218.70,312.93 218.70,312.53 218.70,312.13 218.70,311.72 218.70,311.32 218.70,310.92 218.70,310.52 218.70,310.12 218.64,309.71 218.55,309.31 218.46,308.91 218.37,308.51 218.28,308.10 218.19,307.70 218.10,307.30" fill="#d63a7e"/>
<circle cx="218.11" cy="332.13" r="0.55" fill="#111"/>
<circle cx="216.70" cy="348.62" r="0.55" fill="#111"/>
<circle cx="217.97" cy="326.69" r="0.55" fill="#111"/>
<circle cx="217.15" cy="307.97" r="0.55" fill="#111"/>
<circle cx="216.41" cy="321.02" r="0.55" fill="#111"/>
<circle cx="218.97" cy="323.89" r="0.55" fill="#111"/>
<circle cx="217.40" cy="318.90" r="0.55" fill="#111"/>
<circle cx="217.25" cy="320.18" r="0.55" fill="#111"/>
<circle cx="218.06" cy="323.89" r="0.55" fill="#111"/>
<circle cx="218.06" cy="325.05" r="0.55" fill="#111"/>
<circle cx="216.64" cy="340.79" r="0.55" fill="#111"/>
<circle cx="218.86" cy="315.62" r="0.55" fill="#111"/>
<circle cx="217.51" cy="329.53" r="0.55" fill="#111"/>
<circle cx="217.60" cy="320.02" r="0.55" fill="#111"/>
<circle cx="217.33" cy="344.66" r="0.55" fill="#111"/>
<circle cx="218.15" cy="329.25" r="0.55" fill="#111"/>
<circle cx="217.29" cy="318.54" r="0.55" fill="#111"/>
<circle cx="217.45" cy="322.00" r="0.55" fill="#111"/>
<circle cx="217.90" cy="319.31" r="0.55" fill="#111"/>
<circle cx="216.58" cy="336.58" r="0.55" fill="#111"/>
<circle cx="218.14" cy="332.19" r="0.55" fill="#111"/>
<circle cx="216.78" cy="309.79" r="0.55" fill="#111"/>
<circle cx="217.49" cy="312.91" r="0.55" fill="#111"/>
<circle cx="216.38" cy="348.56" r="0.55" fill="#111"/>
<circle cx="217.91" cy="339.67" r="0.55" fill="#111"/>
<circle cx="218.13" cy="333.41" r="0.55" fill="#111"/>
<circle cx="218.52" cy="332.59" r="0.55" fill="#111"/>
<circle cx="218.65" cy="328.68" r="0.55" fill="#111"/>
<circle cx="218.07" cy="318.65" r="0.55" fill="#111"/>
<circle cx="217.43" cy="310.40" r="0.55" fill="#111"/>
<circle cx="217.48" cy="335.27" r="0.55" fill="#111"/>
<circle cx="217.91" cy="320.06" r="0.55" fill="#111"/>
<circle cx="217.13" cy="332.70" r="0.55" fill="#111"/>
<circle cx="218.28" cy="345.07" r="0.55" fill="#111"/>
<circle cx="218.51" cy="348.62" r="0.55" fill="#111"/>
<circle cx="216.65" cy="318.01" r="0.55" fill="#111"/>
<circle cx="218.15" cy="341.70" r="0.55" fill="#111"/>
<circle cx="217.91" cy="310.64" r="0.55" fill="#111"/>
<circle cx="217.79" cy="311.62" r="0.55" fill="#111"/>
<circle cx="217.40" cy="337.26" r="0.55" fill="#111"/>
<circle cx="218.54" cy="329.38" r="0.55" fill="#111"/>
<circle cx="217.51" cy="310.02" r="0.55" fill="#111"/>
<circle cx="217.79" cy="344.30" r="0.55" fill="#111"/>
<circle cx="216.88" cy="326.02" r="0.55" fill="#111"/>
<circle cx="217.45" cy="308.66" r="0.55" fill="#111"/>
<circle cx="217.34" cy="329.33" r="0.55" fill="#111"/>
<circle cx="217.37" cy="345.90" r="0.55" fill="#111"/>
<circle cx="217.24" cy="337.42" r="0.55" fill="#111"/>
<circle cx="217.02" cy="336.62" r="0.55" fill="#111"/>
<circle cx="218.38" cy="331.52" r="0.55" fill="#111"/>
<circle cx="217.04" cy="324.66" r="0.55" fill="#111"/>
<circle cx="217.42" cy="319.42" r="0.55" fill="#111"/>
<circle cx="216.91" cy="344.39" r="0.55" fill="#111"/>
<circle cx="218.31" cy="322.72" r="0.55" fill="#111"/>
<circle cx="219.00" cy="315.40" r="0.55" fill="#111"/>
<circle cx="217.51" cy="338.69" r="0.55" fill="#111"/>
<circle cx="217.32" cy="348.25" r="0.55" fill="#111"/>
<circle cx="217.39" cy="314.28" r="0.55" fill="#111"/>
<circle cx="216.88" cy="309.54" r="0.55" fill="#111"/>
<circle cx="216.97" cy="347.16" r="0.55" fill="#111"/>
<circle cx="217.54" cy="319.79" r="0.55" fill="#111"/>
<circle cx="217.91" cy="313.61" r="0.55" fill="#111"/>
<circle cx="216.89" cy="308.69" r="0.55" fill="#111"/>
<circle cx="217.52" cy="322.77" r="0.55" fill="#111"/>
<circle cx="217.07" cy="346.97" r="0.55" fill="#111"/>
<circle cx="218.51" cy="329.60" r="0.55" fill="#111"/>
<circle cx="218.29" cy="311.77" r="0.55" fill="#111"/>
<circle cx="217.65" cy="343.78" r="0.55" fill="#111"/>
<circle cx="217.37" cy="309.59" r="0.55" fill="#111"/>
<circle cx="217.09" cy="336.02" r="0.55" fill="#111"/>
<circle cx="217.44" cy="342.07" r="0.55" fill="#111"/>
<circle cx="217.07" cy="313.98" r="0.55" fill="#111"/>
<circle cx="218.64" cy="347.64" r="0.55" fill="#111"/>
<circle cx="216.83" cy="329.95" r="0.55" fill="#111"/>
<circle cx="216.63" cy="309.63" r="0.55" fill="#111"/>
<circle cx="218.44" cy="310.28" r="0.55" fill="#111"/>
<circle cx="218.66" cy="319.75" r="0.55" fill="#111"/>
<circle cx="217.82" cy="322.18" r="0.55" fill="#111"/>
<circle cx="217.26" cy="310.91" r="0.55" fill="#111"/>
<circle cx="217.81" cy="325.48" r="0.55" fill="#111"/>
<circle cx="217.36" cy="333.07" r="0.55" fill="#111"/>
<circle cx="217.28" cy="329.68" r="0.55" fill="#111"/>
<circle cx="216.51" cy="309.83" r="0.55" fill="#111"/>
<circle cx="217.88" cy="318.39" r="0.55" fill="#111"/>
<circle cx="217.52" cy="341.63" r="0.55" fill="#111"/>
<circle cx="218.08" cy="340.39" r="0.55" fill="#111"/>
<circle cx="216.82" cy="307.65" r="0.55" fill="#111"/>
<circle cx="217.26" cy="337.16" r="0.55" fill="#111"/>
<circle cx="217.36" cy="346.84" r="0.55" fill="#111"/>
<circle cx="217.11" cy="315.76" r="0.55" fill="#111"/>
<circle cx="217.35" cy="327.49" r="0.55" fill="#111"/>
<circle cx="218.23" cy="311.22" r="0.55" fill="#111"/>
<circle cx="217.34" cy="336.30" r="0.55" fill="#111"/>
<circle cx="217.59" cy="312.51" r="0.55" fill="#111"/>
<circle cx="218.20" cy="346.31" r="0.55" fill="#111"/>
<circle cx="216.52" cy="323.67" r="0.55" fill="#111"/>
<circle cx="217.95" cy="348.35" r="0.55" fill="#111"/>
<circle cx="218.33" cy="346.59" r="0.55" fill="#111"/>
<circle cx="217.80" cy="316.16" r="0.55" fill="#111"/>
<circle cx="217.51" cy="310.97" r="0.55" fill="#111"/>
<circle cx="216.98" cy="340.85" r="0.55" fill="#111"/>
<circle cx="217.09" cy="312.25" r="0.55" fill="#111"/>
<circle cx="217.70" cy="334.16" r="0.55" fill="#111"/>
<circle cx="217.74" cy="332.14" r="0.55" fill="#111"/>
<circle cx="217.84" cy="334.21" r="0.55" fill="#111"/>
<circle cx="216.46" cy="313.19" r="0.55" fill="#111"/>
<circle cx="217.92" cy="320.12" r="0.55" fill="#111"/>
<circle cx="218.03" cy="308.68" r="0.55" fill="#111"/>
<circle cx="217.06" cy="343.51" r="0.55" fill="#111"/>
<circle cx="216.53" cy="327.77" r="0.55" fill="#111"/>
<circle cx="218.06" cy="345.35" r="0.55" fill="#111"/>
<circle cx="216.55" cy="340.95" r="0.55" fill="#111"/>
<circle cx="217.39" cy="316.46" r="0.55" fill="#111"/>
<circle cx="217.66" cy="339.22" r="0.55" fill="#111"/>
<circle cx="217.98" cy="327.15" r="0.55" fill="#111"/>
<circle cx="217.46" cy="325.39" r="0.55" fill="#111"/>
<circle cx="218.47" cy="343.46" r="0.55" fill="#111"/>
<circle cx="217.31" cy="344.13" r="0.55" fill="#111"/>
<circle cx="217.39" cy="345.83" r="0.55" fill="#111"/>
<circle cx="218.30" cy="310.14" r="0.55" fill="#111"/>
<circle cx="218.16" cy="335.58" r="0.55" fill="#111"/>
<circle cx="217.30" cy="313.55" r="0.55" fill="#111"/>
<circle cx="218.10" cy="331.12" r="0.55" fill="#111"/>
<circle cx="217.76" cy="310.82" r="0.55" fill="#111"/>
<circle cx="217.90" cy="324.82" r="0.55" fill="#111"/>
<circle cx="216.63" cy="342.92" r="0.55" fill="#111"/>
<circle cx="217.32" cy="326.48" r="0.55" fill="#111"/>
<circle cx="217.57" cy="340.25" r="0.55" fill="#111"/>
<circle cx="217.23" cy="331.15" r="0.55" fill="#111"/>
<circle cx="217.68" cy="326.53" r="0.55" fill="#111"/>
<circle cx="217.67" cy="310.11" r="0.55" fill="#111"/>
<circle cx="217.66" cy="325.13" r="0.55" fill="#111"/>
<circle cx="217.87" cy="313.20" r="0.55" fill="#111"/>
<circle cx="216.79" cy="343.48" r="0.55" fill="#111"/>
<circle cx="217.75" cy="330.47" r="0.55" fill="#111"/>
<circle cx="217.90" cy="342.34" r="0.55" fill="#111"/>
<circle cx="217.00" cy="331.77" r="0.55" fill="#111"/>
<circle cx="216.84" cy="309.49" r="0.55" fill="#111"/>
<circle cx="216.47" cy="315.79" r="0.55" fill="#111"/>
<circle cx="217.97" cy="346.65" r="0.55" fill="#111"/>
<circle cx="217.49" cy="332.03" r="0.55" fill="#111"/>
<circle cx="217.68" cy="330.69" r="0.55" fill="#111"/>
<circle cx="217.86" cy="324.48" r="0.55" fill="#111"/>
<circle cx="217.33" cy="316.00" r="0.55" fill="#111"/>
<circle cx="218.54" cy="308.16" r="0.55" fill="#111"/>
<circle cx="217.69" cy="343.66" r="0.55" fill="#111"/>
<circle cx="218.26" cy="313.88" r="0.55" fill="#111"/>
<circle cx="217.57" cy="317.73" r="0.55" fill="#111"/>
<circle cx="218.32" cy="333.00" r="0.55" fill="#111"/>
<circle cx="216.99" cy="319.12" r="0.55" fill="#111"/>
<circle cx="217.26" cy="332.68" r="0.55" fill="#111"/>
<circle cx="218.46" cy="318.21" r="0.55" fill="#111"/>
<circle cx="216.96" cy="343.58" r="0.55" fill="#111"/>
<circle cx="216.39" cy="321.85" r="0.55" fill="#111"/>
<circle cx="217.11" cy="347.10" r="0.55" fill="#111"/>
<circle cx="217.28" cy="334.34" r="0.55" fill="#111"/>
<circle cx="217.63" cy="320.39" r="0.55" fill="#111"/>
<circle cx="217.61" cy="332.83" r="0.55" fill="#111"/>
<circle cx="218.32" cy="317.54" r="0.55" fill="#111"/>
<circle cx="218.10" cy="313.39" r="0.55" fill="#111"/>
<circle cx="217.42" cy="338.83" r="0.55" fill="#111"/>
<circle cx="218.05" cy="346.20" r="0.55" fill="#111"/>
<circle cx="218.33" cy="341.89" r="0.55" fill="#111"/>
<circle cx="216.09" cy="332.55" r="0.55" fill="#111"/>
<circle cx="216.95" cy="346.31" r="0.55" fill="#111"/>
<circle cx="216.96" cy="320.94" r="0.55" fill="#111"/>
<circle cx="217.10" cy="323.24" r="0.55" fill="#111"/>
<circle cx="217.31" cy="334.14" r="0.55" fill="#111"/>
<circle cx="217.42" cy="343.36" r="0.55" fill="#111"/>
<circle cx="217.09" cy="308.65" r="0.55" fill="#111"/>
<circle cx="216.46" cy="322.73" r="0.55" fill="#111"/>
<circle cx="217.96" cy="330.20" r="0.55" fill="#111"/>
<circle cx="216.92" cy="328.99" r="0.55" fill="#111"/>
<circle cx="217.04" cy="335.64" r="0.55" fill="#111"/>
<circle cx="217.09" cy="330.64" r="0.55" fill="#111"/>
<circle cx="217.36" cy="312.63" r="0.55" fill="#111"/>
<circle cx="218.57" cy="325.75" r="0.55" fill="#111"/>
<circle cx="216.57" cy="319.67" r="0.55" fill="#111"/>
<circle cx="216.86" cy="331.35" r="0.55" fill="#111"/>
<circle cx="217.43" cy="314.90" r="0.55" fill="#111"/>
<circle cx="217.86" cy="340.25" r="0.55" fill="#111"/>
<circle cx="217.71" cy="319.06" r="0.55" fill="#111"/>
<circle cx="217.58" cy="315.93" r="0.55" fill="#111"/>
<circle cx="217.72" cy="329.23" r="0.55" fill="#111"/>
<circle cx="217.01" cy="314.64" r="0.55" fill="#111"/>
<circle cx="216.88" cy="333.42" r="0.55" fill="#111"/>
<circle cx="217.13" cy="327.44" r="0.55" fill="#111"/>
<circle cx="217.18" cy="326.75" r="0.55" fill="#111"/>
<circle cx="217.71" cy="336.08" r="0.55" fill="#111"/>
<circle cx="218.43" cy="331.80" r="0.55" fill="#111"/>
<circle cx="216.95" cy="347.95" r="0.55" fill="#111"/>
<circle cx="217.01" cy="339.38" r="0.55" fill="#111"/>
<circle cx="217.07" cy="319.47" r="0.55" fill="#111"/>
<circle cx="217.95" cy="337.98" r="0.55" fill="#111"/>
<circle cx="218.07" cy="337.35" r="0.55" fill="#111"/>
<circle cx="218.83" cy="348.26" r="0.55" fill="#111"/>
<circle cx="218.31" cy="328.06" r="0.55" fill="#111"/>
<circle cx="217.48" cy="323.46" r="0.55" fill="#111"/>
<circle cx="218.28" cy="311.11" r="0.55" fill="#111"/>
<circle cx="217.59" cy="337.32" r="0.55" fill="#111"/>
<circle cx="217.63" cy="333.06" r="0.55" fill="#111"/>
<circle cx="216.89" cy="338.30" r="0.55" fill="#111"/>
<circle cx="217.01" cy="332.56" r="0.55" fill="#111"/>
<circle cx="216.95" cy="335.18" r="0.55" fill="#111"/>
<circle cx="218.24" cy="330.74" r="0.55" fill="#111"/>
<circle cx="217.97" cy="336.70" r="0.55" fill="#111"/>
<circle cx="218.16" cy="325.26" r="0.55" fill="#111"/>
<circle cx="217.37" cy="314.40" r="0.55" fill="#111"/>
<circle cx="217.28" cy="328.72" r="0.55" fill="#111"/>
<circle cx="217.77" cy="344.37" r="0.55" fill="#111"/>
<circle cx="217.42" cy="314.85" r="0.55" fill="#111"/>
<circle cx="217.15" cy="328.96" r="0.55" fill="#111"/>
<circle cx="218.48" cy="348.87" r="0.55" fill="#111"/>
<circle cx="218.11" cy="307.75" r="0.55" fill="#111"/>
<circle cx="218.04" cy="348.06" r="0.55" fill="#111"/>
<circle cx="217.15" cy="333.96" r="0.55" fill="#111"/>
<circle cx="217.78" cy="326.59" r="0.55" fill="#111"/>
<circle cx="217.97" cy="325.81" r="0.55" fill="#111"/>
<circle cx="218.05" cy="343.60" r="0.55" fill="#111"/>
<circle cx="217.98" cy="327.07" r="0.55" fill="#111"/>
<circle cx="217.71" cy="330.44" r="0.55" fill="#111"/>
<circle cx="216.74" cy="320.92" r="0.55" fill="#111"/>
<circle cx="217.12" cy="347.12" r="0.55" fill="#111"/>
<circle cx="217.23" cy="330.22" r="0.55" fill="#111"/>
<circle cx="218.31" cy="343.50" r="0.55" fill="#111"/>
<circle cx="217.74" cy="327.73" r="0.55" fill="#111"/>
<circle cx="217.73" cy="319.45" r="0.55" fill="#111"/>
<circle cx="217.86" cy="325.66" r="0.55" fill="#111"/>
<circle cx="217.13" cy="325.01" r="0.55" fill="#111"/>
<circle cx="217.22" cy="333.23" r="0.55" fill="#111"/>
<circle cx="217.80" cy="327.15" r="0.55" fill="#111"/>
<circle cx="216.49" cy="317.34" r="0.55" fill="#111"/>
<circle cx="216.99" cy="348.04" r="0.55" fill="#111"/>
<circle cx="217.35" cy="318.07" r="0.55" fill="#111"/>
<circle cx="216.68" cy="337.08" r="0.55" fill="#111"/>
<circle cx="217.84" cy="318.12" r="0.55" fill="#111"/>
<circle cx="217.39" cy="343.20" r="0.55" fill="#111"/>
<circle cx="218.68" cy="325.70" r="0.55" fill="#111"/>
<circle cx="216.87" cy="324.14" r="0.55" fill="#111"/>
<circle cx="217.17" cy="330.24" r="0.55" fill="#111"/>
<circle cx="218.42" cy="330.76" r="0.55" fill="#111"/>
<circle cx="217.20" cy="311.33" r="0.55" fill="#111"/>
<circle cx="217.69" cy="348.50" r="0.55" fill="#111"/>
<circle cx="217.52" cy="341.47" r="0.55" fill="#111"/>
<circle cx="217.86" cy="318.94" r="0.55" fill="#111"/>
<circle cx="217.57" cy="328.05" r="0.55" fill="#111"/>
<circle cx="217.85" cy="342.52" r="0.55" fill="#111"/>
<circle cx="217.54" cy="308.03" r="0.55" fill="#111"/>
<circle cx="217.23" cy="309.72" r="0.55" fill="#111"/>
<circle cx="218.12" cy="347.70" r="0.55" fill="#111"/>
<circle cx="217.98" cy="334.40" r="0.55" fill="#111"/>
<circle cx="216.88" cy="345.28" r="0.55" fill="#111"/>
<circle cx="217.54" cy="335.44" r="0.55" fill="#111"/>
<circle cx="218.06" cy="327.41" r="0.55" fill="#111"/>
<circle cx="218.10" cy="312.06" r="0.55" fill="#111"/>
<circle cx="217.19" cy="315.81" r="0.55" fill="#111"/>
<circle cx="217.66" cy="327.90" r="0.55" fill="#111"/>
<circle cx="217.06" cy="331.88" r="0.55" fill="#111"/>
<circle cx="217.52" cy="311.30" r="0.55" fill="#111"/>
<circle cx="217.88" cy="328.48" r="0.55" fill="#111"/>
<circle cx="217.63" cy="336.04" r="0.55" fill="#111"/>
<circle cx="218.38" cy="331.82" r="0.55" fill="#111"/>
<circle cx="218.03" cy="338.66" r="0.55" fill="#111"/>
<circle cx="217.49" cy="348.85" r="0.55" fill="#111"/>
<circle cx="217.13" cy="326.39" r="0.55" fill="#111"/>
<circle cx="217.48" cy="311.02" r="0.55" fill="#111"/>
<circle cx="217.62" cy="334.28" r="0.55" fill="#111"/>
<circle cx="217.59" cy="310.99" r="0.55" fill="#111"/>
<circle cx="217.65" cy="330.01" r="0.55" fill="#111"/>
<circle cx="217.93" cy="339.33" r="0.55" fill="#111"/>
<circle cx="218.03" cy="326.02" r="0.55" fill="#111"/>
<circle cx="218.20" cy="348.78" r="0.55" fill="#111"/>
<circle cx="216.82" cy="333.32" r="0.55" fill="#111"/>
<circle cx="217.75" cy="336.66" r="0.55" fill="#111"/>
<circle cx="217.60" cy="342.28" r="0.55" fill="#111"/>
<circle cx="217.07" cy="339.87" r="0.55" fill="#111"/>
<circle cx="217.98" cy="311.80" r="0.55" fill="#111"/>
<circle cx="218.00" cy="315.16" r="0.55" fill="#111"/>
<circle cx="217.20" cy="330.79" r="0.55" fill="#111"/>
<circle cx="218.87" cy="325.48" r="0.55" fill="#111"/>
<circle cx="218.10" cy="341.35" r="0.55" fill="#111"/>
<circle cx="217.28" cy="339.40" r="0.55" fill="#111"/>
<circle cx="217.26" cy="327.93" r="0.55" fill="#111"/>
<circle cx="217.68" cy="334.83" r="0.55" fill="#111"/>
<circle cx="217.31" cy="345.75" r="0.55" fill="#111"/>
<circle cx="217.03" cy="329.29" r="0.55" fill="#111"/>
<circle cx="216.72" cy="322.29" r="0.55" fill="#111"/>
<circle cx="218.14" cy="307.78" r="0.55" fill="#111"/>
<circle cx="217.17" cy="327.48" r="0.55" fill="#111"/>
<circle cx="217.48" cy="337.88" r="0.55" fill="#111"/>
<circle cx="217.14" cy="318.02" r="0.55" fill="#111"/>
<circle cx="217.75" cy="332.29" r="0.55" fill="#111"/>
<circle cx="217.25" cy="325.38" r="0.55" fill="#111"/>
<circle cx="216.94" cy="340.02" r="0.55" fill="#111"/>
<circle cx="218.04" cy="330.37" r="0.55" fill="#111"/>
<circle cx="217.92" cy="318.00" r="0.55" fill="#111"/>
<circle cx="218.13" cy="319.86" r="0.55" fill="#111"/>
<circle cx="217.29" cy="338.16" r="0.55" fill="#111"/>
<circle cx="217.30" cy="313.97" r="0.55" fill="#111"/>
<circle cx="217.29" cy="316.70" r="0.55" fill="#111"/>
<circle cx="218.76" cy="312.79" r="0.55" fill="#111"/>
<circle cx="217.70" cy="347.53" r="0.55" fill="#111"/>
<circle cx="218.45" cy="322.77" r="0.55" fill="#111"/>
<circle cx="217.58" cy="335.01" r="0.55" fill="#111"/>
<circle cx="217.52" cy="309.39" r="0.55" fill="#111"/>
<circle cx="217.28" cy="317.17" r="0.55" fill="#111"/>
<circle cx="217.55" cy="339.82" r="0.55" fill="#111"/>
<circle cx="217.08" cy="328.59" r="0.55" fill="#111"/>
<circle cx="216.93" cy="340.72" r="0.55" fill="#111"/>
<circle cx="217.07" cy="315.17" r="0.55" fill="#111"/>
<circle cx="217.77" cy="310.32" r="0.55" fill="#111"/>
<circle cx="218.16" cy="332.23" r="0.55" fill="#111"/>
<circle cx="217.01" cy="326.60" r="0.55" fill="#111"/>
<circle cx="216.93" cy="334.29" r="0.55" fill="#111"/>
<circle cx="217.89" cy="324.56" r="0.55" fill="#111"/>
<circle cx="216.90" cy="344.04" r="0.55" fill="#111"/>
<circle cx="217.97" cy="348.42" r="0.55" fill="#111"/>
<circle cx="216.61" cy="336.14" r="0.55" fill="#111"/>
<circle cx="217.50" cy="330.42" r="0.55" fill="#111"/>
<circle cx="217.77" cy="334.93" r="0.55" fill="#111"/>
<line x1="215.50" y1="349.60" x2="219.50" y2="349.60" stroke="#999" stroke-width="0.7" />
<polygon points="253.70,306.80 253.65,307.20 253.60,307.61 253.55,308.01 253.50,308.41 253.45,308.81 253.40,309.22 253.35,309.62 253.30,310.02 253.27,310.43 253.24,310.83 253.21,311.23 253.18,311.63 253.15,312.04 253.12,312.44 253.09,312.84 253.06,313.25 253.03,313.65 253.00,314.05 252.97,314.46 252.94,314.86 252.91,315.26 252.88,315.66 252.85,316.07 252.82,316.47 252.77,316.87 252.71,317.28 252.64,317.68 252.58,318.08 252.52,318.48 252.45,318.89 252.39,319.29 252.32,319.69 252.26,320.10 252.20,320.50 252.13,320.90 252.07,321.30 252.01,321.71 251.94,322.11 251.88,322.51 251.81,322.92 251.75,323.32 251.70,323.72 251.64,324.12 251.58,324.53 251.52,324.93 251.47,325.33 251.41,325.74 251.35,326.14 251.29,326.54 251.24,326.94 251.18,327.35 251.12,327.75 251.06,328.15 251.01,328.56 250.95,328.96 250.89,329.36 250.83,329.77 250.79,330.17 250.77,330.57 250.75,330.97 250.73,331.38 250.71,331.78 250.69,332.18 250.67,332.59 250.65,332.99 250.63,333.39 250.61,333.79 250.59,334.20 250.57,334.60 250.55,335.00 250.53,335.41 250.51,335.81 250.50,336.21 250.49,336.61 250.48,337.02 250.48,337.42 250.47,337.82 250.46,338.23 250.45,338.63 250.45,339.03 250.44,339.43 250.43,339.84 250.43,340.24 250.42,340.64 250.41,341.05 250.41,341.45 250.42,341.85 250.57,342.26 250.71,342.66 250.86,343.06 251.01,343.46 251.15,343.87 251.30,344.27 251.44,344.67 251.59,345.08 251.74,345.48 251.88,345.88 252.03,346.28 252.18,346.69 252.32,347.09 252.47,347.49 252.62,347.90 252.76,348.30 252.85,348.70 252.92,349.10 252.99,349.51 253.06,349.91 253.13,350.31 253.20,350.72 253.26,351.12 253.32,351.52 253.37,351.92 253.42,352.33 253.45,352.73 253.46,353.13 253.85,353.54 253.74,353.94 253.59,354.34 253.39,354.74 253.13,355.15 252.80,355.55 252.39,355.95 251.87,356.36 251.25,356.76 250.52,357.16 249.68,357.57 248.74,357.97 247.70,358.37 246.58,358.77 245.42,359.18 244.25,359.58 243.11,359.98 242.04,360.39 241.08,360.79 240.29,361.19 239.69,361.59 239.33,362.00 239.20,362.40 269.00,362.40 268.87,362.00 268.51,361.59 267.91,361.19 267.12,360.79 266.16,360.39 265.09,359.98 263.95,359.58 262.78,359.18 261.62,358.77 260.50,358.37 259.46,357.97 258.52,357.57 257.68,357.16 256.95,356.76 256.33,356.36 255.81,355.95 255.40,355.55 255.07,355.15 254.81,354.74 254.61,354.34 254.46,353.94 254.35,353.54 254.74,353.13 254.75,352.73 254.78,352.33 254.83,351.92 254.88,351.52 254.94,351.12 255.00,350.72 255.07,350.31 255.14,349.91 255.21,349.51 255.28,349.10 255.35,348.70 255.44,348.30 255.58,347.90 255.73,347.49 255.88,347.09 256.02,346.69 256.17,346.28 256.32,345.88 256.46,345.48 256.61,345.08 256.76,344.67 256.90,344.27 257.05,343.87 257.19,343.46 257.34,343.06 257.49,342.66 257.63,342.26 257.78,341.85 257.79,341.45 257.79,341.05 257.78,340.64 257.77,340.24 257.77,339.84 257.76,339.43 257.75,339.03 257.75,338.63 257.74,338.23 257.73,337.82 257.72,337.42 257.72,337.02 257.71,336.61 257.70,336.21 257.69,335.81 257.67,335.41 257.65,335.00 257.63,334.60 257.61,334.20 257.59,333.79 257.57,333.39 257.55,332.99 257.53,332.59 257.51,332.18 257.49,331.78 257.47,331.38 257.45,330.97 257.43,330.57 257.41,330.17 257.37,329.77 257.31,329.36 257.25,328.96 257.19,328.56 257.14,328.15 257.08,327.75 257.02,327.35 256.96,326.94 256.91,326.54 256.85,326.14 256.79,325.74 256.73,325.33 256.68,324.93 256.62,324.53 256.56,324.12 256.50,323.72 256.45,323.32 256.39,322.92 256.32,322.51 256.26,322.11 256.19,321.71 256.13,321.30 256.07,320.90 256.00,320.50 255.94,320.10 255.88,319.69 255.81,319.29 255.75,318.89 255.68,318.48 255.62,318.08 255.56,317.68 255.49,317.28 255.43,316.87 255.38,316.47 255.35,316.07 255.32,315.66 255.29,315.26 255.26,314.86 255.23,314.46 255.20,314.05 255.17,313.65 255.14,313.25 255.11,312.84 255.08,312.44 255.05,312.04 255.02,311.63 254.99,311.23 254.96,310.83 254.93,310.43 254.90,310.02 254.85,309.62 254.80,309.22 254.75,308.81 254.70,308.41 254.65,308.01 254.60,307.61 254.55,307.20 254.50,306.80" fill="#28aad7"/>
<circle cx="253.61" cy="317.93" r="0.55" fill="#111"/>
<circle cx="253.71" cy="332.29" r="0.55" fill="#111"/>
<circle cx="254.34" cy="325.17" r="0.55" fill="#111"/>
<circle cx="254.91" cy="335.87" r="0.55" fill="#111"/>
<circle cx="254.04" cy="343.43" r="0.55" fill="#111"/>
<circle cx="254.87" cy="325.91" r="0.55" fill="#111"/>
<circle cx="253.49" cy="325.17" r="0.55" fill="#111"/>
<circle cx="253.41" cy="338.71" r="0.55" fill="#111"/>
<circle cx="254.00" cy="340.36" r="0.55" fill="#111"/>
<circle cx="252.40" cy="325.95" r="0.55" fill="#111"/>
<circle cx="253.94" cy="325.87" r="0.55" fill="#111"/>
<circle cx="253.79" cy="341.18" r="0.55" fill="#111"/>
<circle cx="253.48" cy="324.71" r="0.55" fill="#111"/>
<circle cx="253.99" cy="322.57" r="0.55" fill="#111"/>
<circle cx="254.16" cy="308.42" r="0.55" fill="#111"/>
<circle cx="255.11" cy="346.05" r="0.55" fill="#111"/>
<circle cx="255.88" cy="313.48" r="0.55" fill="#111"/>
<circle cx="253.19" cy="339.65" r="0.55" fill="#111"/>
<circle cx="255.77" cy="319.18" r="0.55" fill="#111"/>
<circle cx="254.48" cy="310.74" r="0.55" fill="#111"/>
<circle cx="255.30" cy="319.93" r="0.55" fill="#111"/>
<circle cx="253.90" cy="340.95" r="0.55" fill="#111"/>
<circle cx="254.67" cy="341.35" r="0.55" fill="#111"/>
<circle cx="255.07" cy="311.78" r="0.55" fill="#111"/>
<circle cx="252.97" cy="323.16" r="0.55" fill="#111"/>
<circle cx="254.33" cy="319.57" r="0.55" fill="#111"/>
<circle cx="254.65" cy="334.66" r="0.55" fill="#111"/>
<circle cx="254.73" cy="310.34" r="0.55" fill="#111"/>
<circle cx="253.33" cy="331.23" r="0.55" fill="#111"/>
<circle cx="253.71" cy="324.79" r="0.55" fill="#111"/>
<circle cx="254.14" cy="345.47" r="0.55" fill="#111"/>
<circle cx="253.38" cy="342.94" r="0.55" fill="#111"/>
<circle cx="254.06" cy="315.19" r="0.55" fill="#111"/>
<circle cx="255.18" cy="331.98" r="0.55" fill="#111"/>
<circle cx="254.20" cy="346.22" r="0.55" fill="#111"/>
<circle cx="254.10" cy="345.77" r="0.55" fill="#111"/>
<circle cx="254.64" cy="326.69" r="0.55" fill="#111"/>
<circle cx="255.47" cy="333.13" r="0.55" fill="#111"/>
<circle cx="253.78" cy="342.18" r="0.55" fill="#111"/>
<circle cx="254.12" cy="326.82" r="0.55" fill="#111"/>
<circle cx="253.73" cy="326.65" r="0.55" fill="#111"/>
<circle cx="255.06" cy="313.97" r="0.55" fill="#111"/>
<circle cx="254.42" cy="318.12" r="0.55" fill="#111"/>
<circle cx="254.41" cy="329.01" r="0.55" fill="#111"/>
<circle cx="253.03" cy="337.50" r="0.55" fill="#111"/>
<circle cx="255.19" cy="332.34" r="0.55" fill="#111"/>
<circle cx="253.95" cy="334.34" r="0.55" fill="#111"/>
<circle cx="255.80" cy="321.92" r="0.55" fill="#111"/>
<circle cx="254.37" cy="341.81" r="0.55" fill="#111"/>
<circle cx="256.07" cy="335.32" r="0.55" fill="#111"/>
<circle cx="254.25" cy="315.14" r="0.55" fill="#111"/>
<circle cx="253.88" cy="323.42" r="0.55" fill="#111"/>
<circle cx="253.95" cy="323.14" r="0.55" fill="#111"/>
<circle cx="254.89" cy="314.42" r="0.55" fill="#111"/>
<circle cx="255.37" cy="324.01" r="0.55" fill="#111"/>
<circle cx="255.01" cy="322.15" r="0.55" fill="#111"/>
<circle cx="252.55" cy="336.49" r="0.55" fill="#111"/>
<circle cx="255.15" cy="343.18" r="0.55" fill="#111"/>
<circle cx="255.16" cy="336.22" r="0.55" fill="#111"/>
<circle cx="252.96" cy="345.21" r="0.55" fill="#111"/>
<circle cx="254.07" cy="324.52" r="0.55" fill="#111"/>
<circle cx="254.15" cy="322.58" r="0.55" fill="#111"/>
<circle cx="254.24" cy="321.12" r="0.55" fill="#111"/>
<circle cx="254.24" cy="338.17" r="0.55" fill="#111"/>
<circle cx="253.57" cy="310.98" r="0.55" fill="#111"/>
<circle cx="254.69" cy="341.68" r="0.55" fill="#111"/>
<circle cx="254.94" cy="333.29" r="0.55" fill="#111"/>
<circle cx="255.15" cy="317.40" r="0.55" fill="#111"/>
<circle cx="252.76" cy="332.68" r="0.55" fill="#111"/>
<circle cx="255.23" cy="325.96" r="0.55" fill="#111"/>
<circle cx="253.63" cy="318.87" r="0.55" fill="#111"/>
<circle cx="255.98" cy="321.94" r="0.55" fill="#111"/>
<circle cx="253.25" cy="317.71" r="0.55" fill="#111"/>
<circle cx="254.07" cy="345.62" r="0.55" fill="#111"/>
<circle cx="253.75" cy="311.19" r="0.55" fill="#111"/>
<circle cx="255.31" cy="327.81" r="0.55" fill="#111"/>
<circle cx="254.16" cy="335.64" r="0.55" fill="#111"/>
<circle cx="254.02" cy="310.01" r="0.55" fill="#111"/>
<circle cx="254.15" cy="315.09" r="0.55" fill="#111"/>
<circle cx="254.73" cy="319.48" r="0.55" fill="#111"/>
<circle cx="255.17" cy="312.57" r="0.55" fill="#111"/>
<circle cx="254.44" cy="338.31" r="0.55" fill="#111"/>
<circle cx="255.26" cy="314.38" r="0.55" fill="#111"/>
<circle cx="254.95" cy="311.18" r="0.55" fill="#111"/>
<circle cx="253.70" cy="313.60" r="0.55" fill="#111"/>
<circle cx="254.34" cy="339.40" r="0.55" fill="#111"/>
<circle cx="253.61" cy="328.25" r="0.55" fill="#111"/>
<circle cx="254.20" cy="309.11" r="0.55" fill="#111"/>
<circle cx="253.26" cy="340.83" r="0.55" fill="#111"/>
<circle cx="255.16" cy="312.24" r="0.55" fill="#111"/>
<circle cx="253.90" cy="325.29" r="0.55" fill="#111"/>
<circle cx="254.20" cy="310.97" r="0.55" fill="#111"/>
<circle cx="257.48" cy="345.42" r="0.55" fill="#111"/>
<circle cx="253.01" cy="329.78" r="0.55" fill="#111"/>
<circle cx="253.64" cy="337.31" r="0.55" fill="#111"/>
<circle cx="253.81" cy="314.87" r="0.55" fill="#111"/>
<circle cx="253.28" cy="333.68" r="0.55" fill="#111"/>
<circle cx="254.68" cy="309.68" r="0.55" fill="#111"/>
<circle cx="255.23" cy="319.76" r="0.55" fill="#111"/>
<circle cx="255.10" cy="327.16" r="0.55" fill="#111"/>
<circle cx="254.47" cy="319.45" r="0.55" fill="#111"/>
<circle cx="253.44" cy="319.62" r="0.55" fill="#111"/>
<circle cx="254.55" cy="323.70" r="0.55" fill="#111"/>
<circle cx="254.30" cy="309.47" r="0.55" fill="#111"/>
<circle cx="254.95" cy="346.47" r="0.55" fill="#111"/>
<circle cx="253.68" cy="345.64" r="0.55" fill="#111"/>
<circle cx="254.16" cy="329.58" r="0.55" fill="#111"/>
<circle cx="253.99" cy="325.45" r="0.55" fill="#111"/>
<circle cx="253.42" cy="332.44" r="0.55" fill="#111"/>
<circle cx="254.87" cy="321.73" r="0.55" fill="#111"/>
<circle cx="254.52" cy="334.19" r="0.55" fill="#111"/>
<circle cx="255.11" cy="325.12" r="0.55" fill="#111"/>
<circle cx="254.80" cy="329.04" r="0.55" fill="#111"/>
<circle cx="254.48" cy="336.62" r="0.55" fill="#111"/>
<circle cx="252.00" cy="314.64" r="0.55" fill="#111"/>
<circle cx="254.64" cy="332.39" r="0.55" fill="#111"/>
<circle cx="254.55" cy="337.36" r="0.55" fill="#111"/>
<circle cx="252.42" cy="323.50" r="0.55" fill="#111"/>
<circle cx="254.30" cy="323.83" r="0.55" fill="#111"/>
<circle cx="254.14" cy="326.75" r="0.55" fill="#111"/>
<circle cx="253.20" cy="318.86" r="0.55" fill="#111"/>
<circle cx="253.89" cy="342.44" r="0.55" fill="#111"/>
<circle cx="254.20" cy="328.28" r="0.55" fill="#111"/>
<circle cx="254.03" cy="334.39" r="0.55" fill="#111"/>
<circle cx="253.67" cy="345.19" r="0.55" fill="#111"/>
<circle cx="253.75" cy="328.44" r="0.55" fill="#111"/>
<circle cx="254.51" cy="324.47" r="0.55" fill="#111"/>
<circle cx="254.73" cy="339.79" r="0.55" fill="#111"/>
<circle cx="255.27" cy="328.63" r="0.55" fill="#111"/>
<circle cx="254.54" cy="341.23" r="0.55" fill="#111"/>
<circle cx="255.05" cy="334.05" r="0.55" fill="#111"/>
<circle cx="255.91" cy="315.28" r="0.55" fill="#111"/>
<circle cx="253.88" cy="328.33" r="0.55" fill="#111"/>
<circle cx="254.41" cy="318.67" r="0.55" fill="#111"/>
<circle cx="254.40" cy="315.45" r="0.55" fill="#111"/>
<circle cx="254.48" cy="333.82" r="0.55" fill="#111"/>
<circle cx="254.28" cy="334.65" r="0.55" fill="#111"/>
<circle cx="256.07" cy="324.93" r="0.55" fill="#111"/>
<circle cx="255.24" cy="326.26" r="0.55" fill="#111"/>
<circle cx="253.84" cy="326.63" r="0.55" fill="#111"/>
<circle cx="254.26" cy="337.88" r="0.55" fill="#111"/>
<circle cx="253.68" cy="310.79" r="0.55" fill="#111"/>
<circle cx="254.29" cy="337.29" r="0.55" fill="#111"/>
<circle cx="253.32" cy="312.68" r="0.55" fill="#111"/>
<circle cx="254.88" cy="337.77" r="0.55" fill="#111"/>
<circle cx="255.45" cy="332.87" r="0.55" fill="#111"/>
<circle cx="254.91" cy="333.47" r="0.55" fill="#111"/>
<circle cx="254.61" cy="337.32" r="0.55" fill="#111"/>
<circle cx="255.02" cy="312.45" r="0.55" fill="#111"/>
<circle cx="254.48" cy="342.11" r="0.55" fill="#111"/>
<circle cx="254.34" cy="333.19" r="0.55" fill="#111"/>
<circle cx="254.59" cy="341.48" r="0.55" fill="#111"/>
<circle cx="254.15" cy="341.70" r="0.55" fill="#111"/>
<circle cx="253.83" cy="338.03" r="0.55" fill="#111"/>
<circle cx="254.60" cy="308.39" r="0.55" fill="#111"/>
<circle cx="254.86" cy="346.27" r="0.55" fill="#111"/>
<circle cx="254.92" cy="309.42" r="0.55" fill="#111"/>
<circle cx="255.29" cy="338.49" r="0.55" fill="#111"/>
<circle cx="255.55" cy="318.72" r="0.55" fill="#111"/>
<circle cx="254.95" cy="346.81" r="0.55" fill="#111"/>
<circle cx="254.02" cy="344.35" r="0.55" fill="#111"/>
<circle cx="254.18" cy="337.61" r="0.55" fill="#111"/>
<circle cx="254.90" cy="333.98" r="0.55" fill="#111"/>
<circle cx="253.24" cy="328.11" r="0.55" fill="#111"/>
<circle cx="253.54" cy="347.07" r="0.55" fill="#111"/>
<circle cx="254.49" cy="333.49" r="0.55" fill="#111"/>
<circle cx="252.84" cy="339.53" r="0.55" fill="#111"/>
<circle cx="253.40" cy="318.86" r="0.55" fill="#111"/>
<circle cx="254.78" cy="343.86" r="0.55" fill="#111"/>
<circle cx="253.84" cy="309.14" r="0.55" fill="#111"/>
<circle cx="252.97" cy="332.05" r="0.55" fill="#111"/>
<circle cx="253.05" cy="330.33" r="0.55" fill="#111"/>
<circle cx="254.33" cy="336.96" r="0.55" fill="#111"/>
<circle cx="253.86" cy="334.67" r="0.55" fill="#111"/>
<circle cx="254.42" cy="325.54" r="0.55" fill="#111"/>
<circle cx="254.86" cy="322.51" r="0.55" fill="#111"/>
<circle cx="253.70" cy="337.39" r="0.55" fill="#111"/>
<circle cx="254.10" cy="310.21" r="0.55" fill="#111"/>
<circle cx="254.33" cy="339.50" r="0.55" fill="#111"/>
<circle cx="252.93" cy="339.45" r="0.55" fill="#111"/>
<circle cx="254.14" cy="310.53" r="0.55" fill="#111"/>
<circle cx="255.09" cy="319.88" r="0.55" fill="#111"/>
<circle cx="254.33" cy="340.95" r="0.55" fill="#111"/>
<circle cx="254.42" cy="326.05" r="0.55" fill="#111"/>
<circle cx="255.27" cy="310.02" r="0.55" fill="#111"/>
<circle cx="254.48" cy="332.18" r="0.55" fill="#111"/>
<circle cx="255.13" cy="329.69" r="0.55" fill="#111"/>
<circle cx="254.70" cy="328.92" r="0.55" fill="#111"/>
<circle cx="254.37" cy="320.18" r="0.55" fill="#111"/>
<circle cx="254.71" cy="327.33" r="0.55" fill="#111"/>
<circle cx="253.37" cy="322.67" r="0.55" fill="#111"/>
<circle cx="253.75" cy="319.05" r="0.55" fill="#111"/>
<circle cx="254.24" cy="332.29" r="0.55" fill="#111"/>
<circle cx="255.49" cy="316.16" r="0.55" fill="#111"/>
<circle cx="254.19" cy="331.78" r="0.55" fill="#111"/>
<circle cx="253.01" cy="329.23" r="0.55" fill="#111"/>
<circle cx="255.57" cy="344.48" r="0.55" fill="#111"/>
<circle cx="254.19" cy="322.35" r="0.55" fill="#111"/>
<circle cx="254.04" cy="318.66" r="0.55" fill="#111"/>
<circle cx="254.03" cy="315.08" r="0.55" fill="#111"/>
<circle cx="253.88" cy="311.78" r="0.55" fill="#111"/>
<circle cx="253.72" cy="344.86" r="0.55" fill="#111"/>
<circle cx="253.66" cy="340.26" r="0.55" fill="#111"/>
<circle cx="254.17" cy="320.82" r="0.55" fill="#111"/>
<circle cx="255.42" cy="310.09" r="0.55" fill="#111"/>
<circle cx="255.24" cy="319.92" r="0.55" fill="#111"/>
<circle cx="255.00" cy="308.33" r="0.55" fill="#111"/>
<circle cx="254.21" cy="338.99" r="0.55" fill="#111"/>
<circle cx="254.59" cy="326.12" r="0.55" fill="#111"/>
<circle cx="254.24" cy="326.93" r="0.55" fill="#111"/>
<circle cx="255.89" cy="333.89" r="0.55" fill="#111"/>
<circle cx="254.55" cy="321.53" r="0.55" fill="#111"/>
<circle cx="254.56" cy="335.11" r="0.55" fill="#111"/>
<circle cx="254.44" cy="311.46" r="0.55" fill="#111"/>
<circle cx="255.80" cy="339.55" r="0.55" fill="#111"/>
<circle cx="253.73" cy="329.23" r="0.55" fill="#111"/>
<circle cx="254.45" cy="311.65" r="0.55" fill="#111"/>
<circle cx="253.46" cy="339.30" r="0.55" fill="#111"/>
<circle cx="253.90" cy="333.37" r="0.55" fill="#111"/>
<circle cx="254.12" cy="313.72" r="0.55" fill="#111"/>
<circle cx="253.76" cy="311.27" r="0.55" fill="#111"/>
<circle cx="254.55" cy="346.17" r="0.55" fill="#111"/>
<circle cx="254.32" cy="309.95" r="0.55" fill="#111"/>
<circle cx="253.94" cy="312.13" r="0.55" fill="#111"/>
<circle cx="254.48" cy="344.91" r="0.55" fill="#111"/>
<circle cx="255.25" cy="331.39" r="0.55" fill="#111"/>
<circle cx="254.07" cy="323.97" r="0.55" fill="#111"/>
<circle cx="254.62" cy="335.83" r="0.55" fill="#111"/>
<circle cx="253.23" cy="322.88" r="0.55" fill="#111"/>
<circle cx="253.51" cy="311.04" r="0.55" fill="#111"/>
<circle cx="253.29" cy="324.93" r="0.55" fill="#111"/>
<circle cx="255.63" cy="332.84" r="0.55" fill="#111"/>
<circle cx="254.18" cy="315.88" r="0.55" fill="#111"/>
<circle cx="254.33" cy="328.57" r="0.55" fill="#111"/>
<circle cx="254.86" cy="310.79" r="0.55" fill="#111"/>
<circle cx="254.95" cy="329.52" r="0.55" fill="#111"/>
<circle cx="253.76" cy="316.51" r="0.55" fill="#111"/>
<circle cx="253.99" cy="336.11" r="0.55" fill="#111"/>
<circle cx="254.73" cy="310.09" r="0.55" fill="#111"/>
<circle cx="253.64" cy="314.91" r="0.55" fill="#111"/>
<circle cx="254.08" cy="319.64" r="0.55" fill="#111"/>
<circle cx="254.07" cy="344.49" r="0.55" fill="#111"/>
<circle cx="254.06" cy="316.84" r="0.55" fill="#111"/>
<circle cx="254.45" cy="326.25" r="0.55" fill="#111"/>
<circle cx="254.47" cy="346.46" r="0.55" fill="#111"/>
<circle cx="254.72" cy="329.87" r="0.55" fill="#111"/>
<circle cx="254.62" cy="333.60" r="0.55" fill="#111"/>
<circle cx="254.70" cy="332.17" r="0.55" fill="#111"/>
<circle cx="255.39" cy="317.58" r="0.55" fill="#111"/>
<circle cx="254.49" cy="342.74" r="0.55" fill="#111"/>
<circle cx="254.61" cy="340.25" r="0.55" fill="#111"/>
<circle cx="253.91" cy="320.40" r="0.55" fill="#111"/>
<circle cx="253.55" cy="332.00" r="0.55" fill="#111"/>
<circle cx="253.63" cy="330.12" r="0.55" fill="#111"/>
<circle cx="254.32" cy="317.35" r="0.55" fill="#111"/>
<circle cx="254.60" cy="310.30" r="0.55" fill="#111"/>
<circle cx="255.56" cy="331.25" r="0.55" fill="#111"/>
<circle cx="255.06" cy="346.36" r="0.55" fill="#111"/>
<circle cx="255.28" cy="313.85" r="0.55" fill="#111"/>
<circle cx="254.09" cy="308.23" r="0.55" fill="#111"/>
<circle cx="253.90" cy="323.33" r="0.55" fill="#111"/>
<circle cx="254.77" cy="310.69" r="0.55" fill="#111"/>
<circle cx="255.08" cy="317.74" r="0.55" fill="#111"/>
<circle cx="254.39" cy="327.27" r="0.55" fill="#111"/>
<circle cx="255.63" cy="317.27" r="0.55" fill="#111"/>
<circle cx="253.61" cy="327.98" r="0.55" fill="#111"/>
<circle cx="253.57" cy="340.07" r="0.55" fill="#111"/>
<circle cx="255.26" cy="339.11" r="0.55" fill="#111"/>
<circle cx="254.26" cy="322.08" r="0.55" fill="#111"/>
<circle cx="253.63" cy="314.93" r="0.55" fill="#111"/>
<circle cx="255.17" cy="324.76" r="0.55" fill="#111"/>
<circle cx="255.05" cy="318.07" r="0.55" fill="#111"/>
<circle cx="254.65" cy="327.90" r="0.55" fill="#111"/>
<circle cx="253.39" cy="344.35" r="0.55" fill="#111"/>
<circle cx="253.88" cy="337.03" r="0.55" fill="#111"/>
<circle cx="253.19" cy="335.62" r="0.55" fill="#111"/>
<circle cx="253.42" cy="344.75" r="0.55" fill="#111"/>
<circle cx="253.71" cy="330.00" r="0.55" fill="#111"/>
<circle cx="254.87" cy="329.36" r="0.55" fill="#111"/>
<circle cx="254.08" cy="315.60" r="0.55" fill="#111"/>
<circle cx="253.87" cy="328.04" r="0.55" fill="#111"/>
<circle cx="255.35" cy="333.44" r="0.55" fill="#111"/>
<circle cx="254.56" cy="308.08" r="0.55" fill="#111"/>
<circle cx="255.27" cy="323.85" r="0.55" fill="#111"/>
<circle cx="253.96" cy="335.20" r="0.55" fill="#111"/>
<circle cx="254.37" cy="335.58" r="0.55" fill="#111"/>
<circle cx="255.13" cy="346.94" r="0.55" fill="#111"/>
<circle cx="254.84" cy="332.54" r="0.55" fill="#111"/>
<circle cx="253.44" cy="332.51" r="0.55" fill="#111"/>
<circle cx="254.27" cy="347.57" r="0.55" fill="#111"/>
<circle cx="253.09" cy="342.88" r="0.55" fill="#111"/>
<circle cx="254.83" cy="334.70" r="0.55" fill="#111"/>
<circle cx="254.58" cy="340.21" r="0.55" fill="#111"/>
<circle cx="254.30" cy="316.49" r="0.55" fill="#111"/>
<circle cx="254.98" cy="317.28" r="0.55" fill="#111"/>
<circle cx="252.81" cy="317.05" r="0.55" fill="#111"/>
<circle cx="255.19" cy="327.42" r="0.55" fill="#111"/>
<circle cx="253.56" cy="331.48" r="0.55" fill="#111"/>
<circle cx="254.58" cy="343.73" r="0.55" fill="#111"/>
<circle cx="254.15" cy="346.63" r="0.55" fill="#111"/>
<circle cx="253.39" cy="319.65" r="0.55" fill="#111"/>
<circle cx="253.51" cy="319.75" r="0.55" fill="#111"/>
<circle cx="255.36" cy="320.25" r="0.55" fill="#111"/>
<circle cx="253.59" cy="347.06" r="0.55" fill="#111"/>
<circle cx="253.47" cy="311.75" r="0.55" fill="#111"/>
<circle cx="253.46" cy="346.26" r="0.55" fill="#111"/>
<circle cx="254.24" cy="337.02" r="0.55" fill="#111"/>
<circle cx="254.63" cy="314.93" r="0.55" fill="#111"/>
<circle cx="253.73" cy="318.36" r="0.55" fill="#111"/>
<circle cx="254.03" cy="313.94" r="0.55" fill="#111"/>
<circle cx="253.78" cy="311.47" r="0.55" fill="#111"/>
<circle cx="253.08" cy="312.94" r="0.55" fill="#111"/>
<circle cx="254.98" cy="328.55" r="0.55" fill="#111"/>
<circle cx="254.22" cy="329.39" r="0.55" fill="#111"/>
<circle cx="255.75" cy="340.43" r="0.55" fill="#111"/>
<circle cx="254.52" cy="338.97" r="0.55" fill="#111"/>
<circle cx="253.84" cy="337.45" r="0.55" fill="#111"/>
<circle cx="255.00" cy="345.62" r="0.55" fill="#111"/>
<circle cx="255.20" cy="310.45" r="0.55" fill="#111"/>
<circle cx="254.81" cy="346.10" r="0.55" fill="#111"/>
<circle cx="254.60" cy="313.96" r="0.55" fill="#111"/>
<circle cx="255.04" cy="339.56" r="0.55" fill="#111"/>
<circle cx="254.17" cy="330.56" r="0.55" fill="#111"/>
<circle cx="254.10" cy="315.97" r="0.55" fill="#111"/>
<circle cx="254.25" cy="331.43" r="0.55" fill="#111"/>
<circle cx="253.99" cy="311.62" r="0.55" fill="#111"/>
<circle cx="253.74" cy="320.58" r="0.55" fill="#111"/>
<circle cx="254.63" cy="314.81" r="0.55" fill="#111"/>
<circle cx="253.21" cy="310.96" r="0.55" fill="#111"/>
<circle cx="252.89" cy="333.36" r="0.55" fill="#111"/>
<ellipse cx="217.50" cy="361.6" rx="2.6" ry="1.3" fill="#000"/>
<ellipse cx="254.30" cy="361.6" rx="2.6" ry="1.3" fill="#000"/>
<polygon points="329.10,300.20 329.03,300.60 328.97,301.00 328.90,301.40 328.83,301.80 328.80,302.20 328.79,302.60 328.78,303.00 328.78,303.41 328.77,303.81 328.76,304.21 328.76,304.61 328.75,305.01 328.74,305.41 328.74,305.81 328.73,306.21 328.72,306.61 328.72,307.01 328.71,307.41 328.70,307.81 328.70,308.21 328.69,308.61 328.68,309.01 328.68,309.41 328.67,309.82 328.66,310.22 328.66,310.62 328.65,311.02 328.64,311.42 328.64,311.82 328.63,312.22 328.62,312.62 328.62,313.02 328.61,313.42 328.60,313.82 328.60,314.22 328.59,314.62 328.58,315.02 328.58,315.42 328.57,315.83 328.56,316.23 328.56,316.63 328.55,317.03 328.54,317.43 328.54,317.83 328.53,318.23 328.52,318.63 328.52,319.03 328.51,319.43 328.50,319.83 328.50,320.23 328.50,320.63 328.50,321.03 328.49,321.43 328.49,321.84 328.49,322.24 328.49,322.64 328.49,323.04 328.49,323.44 328.48,323.84 328.48,324.24 328.48,324.64 328.48,325.04 328.48,325.44 328.48,325.84 328.48,326.24 328.47,326.64 328.47,327.04 328.47,327.44 328.47,327.84 328.47,328.25 328.47,328.65 328.46,329.05 328.46,329.45 328.46,329.85 328.46,330.25 328.46,330.65 328.46,331.05 328.45,331.45 328.45,331.85 328.45,332.25 328.45,332.65 328.45,333.05 328.45,333.45 328.44,333.85 328.44,334.26 328.44,334.66 328.44,335.06 328.44,335.46 328.44,335.86 328.43,336.26 328.43,336.66 328.43,337.06 328.43,337.46 328.43,337.86 328.43,338.26 328.43,338.66 328.42,339.06 328.42,339.46 328.42,339.86 328.42,340.26 328.42,340.67 328.42,341.07 328.41,341.47 328.41,341.87 328.41,342.27 328.41,342.67 328.41,343.07 328.41,343.47 328.40,343.87 328.40,344.27 328.40,344.67 328.40,345.07 328.42,345.47 328.43,345.87 328.44,346.27 328.46,346.68 328.47,347.08 328.48,347.48 328.49,347.88 328.50,348.28 328.51,348.68 328.52,349.08 328.53,349.48 328.53,349.88 328.53,350.28 328.53,350.68 329.15,351.08 329.15,351.48 329.15,351.88 329.13,352.28 329.02,352.69 328.89,353.09 328.71,353.49 328.48,353.89 328.19,354.29 327.84,354.69 327.41,355.09 326.90,355.49 326.30,355.89 325.60,356.29 324.82,356.69 323.95,357.09 323.01,357.49 322.01,357.89 320.97,358.29 319.91,358.69 318.87,359.10 317.87,359.50 316.96,359.90 316.16,360.30 315.50,360.70 315.01,361.10 314.70,361.50 314.60,361.90 344.20,361.90 344.10,361.50 343.79,361.10 343.30,360.70 342.64,360.30 341.84,359.90 340.93,359.50 339.93,359.10 338.89,358.69 337.83,358.29 336.79,357.89 335.79,357.49 334.85,357.09 333.98,356.69 333.20,356.29 332.50,355.89 331.90,355.49 331.39,355.09 330.96,354.69 330.61,354.29 330.32,353.89 330.09,353.49 329.91,353.09 329.78,352.69 329.67,352.28 329.65,351.88 329.65,351.48 329.65,351.08 330.27,350.68 330.27,350.28 330.27,349.88 330.27,349.48 330.28,349.08 330.29,348.68 330.30,348.28 330.31,347.88 330.32,347.48 330.33,347.08 330.34,346.68 330.36,346.27 330.37,345.87 330.38,345.47 330.40,345.07 330.40,344.67 330.40,344.27 330.40,343.87 330.39,343.47 330.39,343.07 330.39,342.67 330.39,342.27 330.39,341.87 330.39,341.47 330.38,341.07 330.38,340.67 330.38,340.26 330.38,339.86 330.38,339.46 330.38,339.06 330.37,338.66 330.37,338.26 330.37,337.86 330.37,337.46 330.37,337.06 330.37,336.66 330.37,336.26 330.36,335.86 330.36,335.46 330.36,335.06 330.36,334.66 330.36,334.26 330.36,333.85 330.35,333.45 330.35,333.05 330.35,332.65 330.35,332.25 330.35,331.85 330.35,331.45 330.34,331.05 330.34,330.65 330.34,330.25 330.34,329.85 330.34,329.45 330.34,329.05 330.33,328.65 330.33,328.25 330.33,327.84 330.33,327.44 330.33,327.04 330.33,326.64 330.32,326.24 330.32,325.84 330.32,325.44 330.32,325.04 330.32,324.64 330.32,324.24 330.32,323.84 330.31,323.44 330.31,323.04 330.31,322.64 330.31,322.24 330.31,321.84 330.31,321.43 330.30,321.03 330.30,320.63 330.30,320.23 330.30,319.83 330.29,319.43 330.28,319.03 330.28,318.63 330.27,318.23 330.26,317.83 330.26,317.43 330.25,317.03 330.24,316.63 330.24,316.23 330.23,315.83 330.22,315.42 330.22,315.02 330.21,314.62 330.20,314.22 330.20,313.82 330.19,313.42 330.18,313.02 330.18,312.62 330.17,312.22 330.16,311.82 330.16,311.42 330.15,311.02 330.14,310.62 330.14,310.22 330.13,309.82 330.12,309.41 330.12,309.01 330.11,308.61 330.10,308.21 330.10,307.81 330.09,307.41 330.08,307.01 330.08,306.61 330.07,306.21 330.06,305.81 330.06,305.41 330.05,305.01 330.04,304.61 330.04,304.21 330.03,303.81 330.02,303.41 330.02,303.00 330.01,302.60 330.00,302.20 329.97,301.80 329.90,301.40 329.83,301.00 329.77,300.60 329.70,300.20" fill="#d63a7e"/>
<circle cx="329.79" cy="346.12" r="0.55" fill="#111"/>
<circle cx="329.80" cy="319.51" r="0.55" fill="#111"/>
<circle cx="328.95" cy="342.66" r="0.55" fill="#111"/>
<circle cx="329.08" cy="345.90" r="0.55" fill="#111"/>
<circle cx="329.68" cy="347.87" r="0.55" fill="#111"/>
<circle cx="329.73" cy="306.10" r="0.55" fill="#111"/>
<circle cx="329.50" cy="328.90" r="0.55" fill="#111"/>
<circle cx="330.02" cy="319.06" r="0.55" fill="#111"/>
<circle cx="329.56" cy="302.37" r="0.55" fill="#111"/>
<circle cx="329.26" cy="314.89" r="0.55" fill="#111"/>
<circle cx="330.05" cy="326.97" r="0.55" fill="#111"/>
<circle cx="329.64" cy="336.38" r="0.55" fill="#111"/>
<circle cx="329.25" cy="307.64" r="0.55" fill="#111"/>
<circle cx="329.25" cy="327.46" r="0.55" fill="#111"/>
<circle cx="329.31" cy="306.48" r="0.55" fill="#111"/>
<circle cx="329.83" cy="328.13" r="0.55" fill="#111"/>
<circle cx="329.73" cy="333.39" r="0.55" fill="#111"/>
<circle cx="329.24" cy="318.80" r="0.55" fill="#111"/>
<circle cx="329.37" cy="312.04" r="0.55" fill="#111"/>
<circle cx="329.01" cy="312.17" r="0.55" fill="#111"/>
<circle cx="328.72" cy="311.23" r="0.55" fill="#111"/>
<circle cx="329.77" cy="323.02" r="0.55" fill="#111"/>
<circle cx="328.87" cy="341.05" r="0.55" fill="#111"/>
<circle cx="329.50" cy="314.26" r="0.55" fill="#111"/>
<circle cx="329.37" cy="321.65" r="0.55" fill="#111"/>
<circle cx="329.23" cy="323.80" r="0.55" fill="#111"/>
<circle cx="329.31" cy="314.14" r="0.55" fill="#111"/>
<circle cx="329.76" cy="311.51" r="0.55" fill="#111"/>
<circle cx="329.69" cy="329.67" r="0.55" fill="#111"/>
<circle cx="329.48" cy="314.66" r="0.55" fill="#111"/>
<circle cx="329.71" cy="310.69" r="0.55" fill="#111"/>
<circle cx="328.87" cy="344.61" r="0.55" fill="#111"/>
<circle cx="329.53" cy="308.38" r="0.55" fill="#111"/>
<circle cx="329.72" cy="326.41" r="0.55" fill="#111"/>
<circle cx="329.81" cy="342.03" r="0.55" fill="#111"/>
<circle cx="328.71" cy="302.83" r="0.55" fill="#111"/>
<circle cx="329.18" cy="303.31" r="0.55" fill="#111"/>
<circle cx="329.77" cy="302.30" r="0.55" fill="#111"/>
<circle cx="329.97" cy="318.82" r="0.55" fill="#111"/>
<circle cx="329.99" cy="312.10" r="0.55" fill="#111"/>
<circle cx="329.76" cy="317.29" r="0.55" fill="#111"/>
<circle cx="330.10" cy="307.40" r="0.55" fill="#111"/>
<circle cx="329.46" cy="323.10" r="0.55" fill="#111"/>
<circle cx="329.70" cy="349.74" r="0.55" fill="#111"/>
<circle cx="329.37" cy="336.28" r="0.55" fill="#111"/>
<circle cx="329.02" cy="348.92" r="0.55" fill="#111"/>
<circle cx="329.21" cy="348.33" r="0.55" fill="#111"/>
<circle cx="329.18" cy="304.34" r="0.55" fill="#111"/>
<circle cx="328.60" cy="328.14" r="0.55" fill="#111"/>
<circle cx="329.47" cy="349.92" r="0.55" fill="#111"/>
<circle cx="329.46" cy="341.21" r="0.55" fill="#111"/>
<circle cx="330.57" cy="331.41" r="0.55" fill="#111"/>
<circle cx="329.67" cy="303.83" r="0.55" fill="#111"/>
<circle cx="330.39" cy="340.19" r="0.55" fill="#111"/>
<circle cx="329.35" cy="337.54" r="0.55" fill="#111"/>
<circle cx="329.33" cy="346.96" r="0.55" fill="#111"/>
<circle cx="329.47" cy="316.30" r="0.55" fill="#111"/>
<circle cx="328.90" cy="325.43" r="0.55" fill="#111"/>
<circle cx="330.07" cy="327.26" r="0.55" fill="#111"/>
<circle cx="329.02" cy="320.93" r="0.55" fill="#111"/>
<circle cx="329.57" cy="342.92" r="0.55" fill="#111"/>
<circle cx="329.73" cy="317.40" r="0.55" fill="#111"/>
<circle cx="329.38" cy="304.26" r="0.55" fill="#111"/>
<circle cx="329.42" cy="348.50" r="0.55" fill="#111"/>
<circle cx="329.26" cy="341.25" r="0.55" fill="#111"/>
<circle cx="329.42" cy="314.63" r="0.55" fill="#111"/>
<circle cx="329.35" cy="339.09" r="0.55" fill="#111"/>
<circle cx="329.57" cy="322.50" r="0.55" fill="#111"/>
<circle cx="329.68" cy="329.75" r="0.55" fill="#111"/>
<circle cx="329.68" cy="328.72" r="0.55" fill="#111"/>
<line x1="326.60" y1="356.40" x2="332.20" y2="356.40" stroke="#111" stroke-width="0.7" />
<polygon points="365.50,309.50 365.47,309.90 365.44,310.31 365.40,310.71 365.37,311.11 365.34,311.52 365.31,311.92 365.29,312.32 365.28,312.72 365.26,313.13 365.25,313.53 365.24,313.93 365.23,314.34 365.21,314.74 365.20,315.14 365.19,315.55 365.17,315.95 365.16,316.35 365.15,316.76 365.14,317.16 365.12,317.56 365.11,317.96 365.09,318.37 365.03,318.77 364.98,319.17 364.92,319.58 364.86,319.98 364.81,320.38 364.75,320.79 364.69,321.19 364.64,321.59 364.58,322.00 364.52,322.40 364.47,322.80 364.41,323.20 364.36,323.61 364.30,324.01 364.24,324.41 364.19,324.82 364.13,325.22 364.08,325.62 364.02,326.03 363.97,326.43 363.91,326.83 363.86,327.24 363.80,327.64 363.75,328.04 363.69,328.44 363.63,328.85 363.59,329.25 363.57,329.65 363.55,330.06 363.52,330.46 363.50,330.86 363.48,331.27 363.46,331.67 363.43,332.07 363.41,332.48 363.39,332.88 363.37,333.28 363.35,333.68 363.32,334.09 363.30,334.49 363.28,334.89 363.26,335.30 363.23,335.70 363.21,336.10 363.19,336.51 363.17,336.91 363.14,337.31 363.12,337.72 363.10,338.12 363.15,338.52 363.20,338.92 363.25,339.33 363.30,339.73 363.35,340.13 363.40,340.54 363.45,340.94 363.51,341.34 363.56,341.75 363.61,342.15 363.66,342.55 363.71,342.96 363.76,343.36 363.81,343.76 363.86,344.16 363.91,344.57 363.96,344.97 364.01,345.37 364.09,345.78 364.16,346.18 364.24,346.58 364.31,346.99 364.38,347.39 364.45,347.79 364.53,348.20 364.59,348.60 364.66,349.00 364.72,349.40 364.78,349.81 364.83,350.21 364.87,350.61 364.90,351.02 364.90,351.42 364.89,351.82 364.85,352.23 365.35,352.63 365.17,353.03 364.95,353.44 364.67,353.84 364.33,354.24 363.92,354.64 363.43,355.05 362.87,355.45 362.21,355.85 361.48,356.26 360.66,356.66 359.78,357.06 358.83,357.47 357.83,357.87 356.81,358.27 355.79,358.68 354.79,359.08 353.85,359.48 352.99,359.88 352.24,360.29 351.63,360.69 351.17,361.09 350.89,361.50 350.80,361.90 381.00,361.90 380.91,361.50 380.63,361.09 380.17,360.69 379.56,360.29 378.81,359.88 377.95,359.48 377.01,359.08 376.01,358.68 374.99,358.27 373.97,357.87 372.97,357.47 372.02,357.06 371.14,356.66 370.32,356.26 369.59,355.85 368.93,355.45 368.37,355.05 367.88,354.64 367.47,354.24 367.13,353.84 366.85,353.44 366.63,353.03 366.45,352.63 366.95,352.23 366.91,351.82 366.90,351.42 366.90,351.02 366.93,350.61 366.97,350.21 367.02,349.81 367.08,349.40 367.14,349.00 367.21,348.60 367.27,348.20 367.35,347.79 367.42,347.39 367.49,346.99 367.56,346.58 367.64,346.18 367.71,345.78 367.79,345.37 367.84,344.97 367.89,344.57 367.94,344.16 367.99,343.76 368.04,343.36 368.09,342.96 368.14,342.55 368.19,342.15 368.24,341.75 368.29,341.34 368.35,340.94 368.40,340.54 368.45,340.13 368.50,339.73 368.55,339.33 368.60,338.92 368.65,338.52 368.70,338.12 368.68,337.72 368.66,337.31 368.63,336.91 368.61,336.51 368.59,336.10 368.57,335.70 368.54,335.30 368.52,334.89 368.50,334.49 368.48,334.09 368.45,333.68 368.43,333.28 368.41,332.88 368.39,332.48 368.37,332.07 368.34,331.67 368.32,331.27 368.30,330.86 368.28,330.46 368.25,330.06 368.23,329.65 368.21,329.25 368.17,328.85 368.11,328.44 368.05,328.04 368.00,327.64 367.94,327.24 367.89,326.83 367.83,326.43 367.78,326.03 367.72,325.62 367.67,325.22 367.61,324.82 367.56,324.41 367.50,324.01 367.44,323.61 367.39,323.20 367.33,322.80 367.28,322.40 367.22,322.00 367.16,321.59 367.11,321.19 367.05,320.79 366.99,320.38 366.94,319.98 366.88,319.58 366.82,319.17 366.77,318.77 366.71,318.37 366.69,317.96 366.68,317.56 366.66,317.16 366.65,316.76 366.64,316.35 366.63,315.95 366.61,315.55 366.60,315.14 366.59,314.74 366.57,314.34 366.56,313.93 366.55,313.53 366.54,313.13 366.52,312.72 366.51,312.32 366.49,311.92 366.46,311.52 366.43,311.11 366.40,310.71 366.36,310.31 366.33,309.90 366.30,309.50" fill="#28aad7"/>
<circle cx="363.56" cy="339.05" r="0.55" fill="#111"/>
<circle cx="366.45" cy="319.97" r="0.55" fill="#111"/>
<circle cx="366.62" cy="339.25" r="0.55" fill="#111"/>
<circle cx="366.02" cy="331.25" r="0.55" fill="#111"/>
<circle cx="365.85" cy="316.75" r="0.55" fill="#111"/>
<circle cx="364.02" cy="315.07" r="0.55" fill="#111"/>
<circle cx="365.91" cy="344.41" r="0.55" fill="#111"/>
<circle cx="365.14" cy="340.83" r="0.55" fill="#111"/>
<circle cx="364.69" cy="338.09" r="0.55" fill="#111"/>
<circle cx="365.03" cy="322.21" r="0.55" fill="#111"/>
<circle cx="365.63" cy="341.82" r="0.55" fill="#111"/>
<circle cx="363.71" cy="312.66" r="0.55" fill="#111"/>
<circle cx="365.17" cy="332.23" r="0.55" fill="#111"/>
<circle cx="364.85" cy="310.82" r="0.55" fill="#111"/>
<circle cx="365.51" cy="344.85" r="0.55" fill="#111"/>
<circle cx="364.25" cy="322.97" r="0.55" fill="#111"/>
<circle cx="365.41" cy="327.09" r="0.55" fill="#111"/>
<circle cx="365.02" cy="338.19" r="0.55" fill="#111"/>
<circle cx="363.68" cy="337.58" r="0.55" fill="#111"/>
<circle cx="365.69" cy="334.63" r="0.55" fill="#111"/>
<circle cx="365.54" cy="344.47" r="0.55" fill="#111"/>
<circle cx="365.95" cy="321.40" r="0.55" fill="#111"/>
<circle cx="365.35" cy="329.44" r="0.55" fill="#111"/>
<circle cx="363.22" cy="345.50" r="0.55" fill="#111"/>
<circle cx="366.38" cy="343.26" r="0.55" fill="#111"/>
<circle cx="365.13" cy="338.75" r="0.55" fill="#111"/>
<circle cx="364.65" cy="313.54" r="0.55" fill="#111"/>
<circle cx="365.73" cy="314.10" r="0.55" fill="#111"/>
<circle cx="364.95" cy="345.16" r="0.55" fill="#111"/>
<circle cx="365.66" cy="313.19" r="0.55" fill="#111"/>
<circle cx="364.45" cy="330.94" r="0.55" fill="#111"/>
<circle cx="366.70" cy="334.74" r="0.55" fill="#111"/>
<circle cx="365.42" cy="326.77" r="0.55" fill="#111"/>
<circle cx="365.48" cy="336.84" r="0.55" fill="#111"/>
<circle cx="364.50" cy="333.87" r="0.55" fill="#111"/>
<circle cx="365.33" cy="326.01" r="0.55" fill="#111"/>
<circle cx="365.76" cy="345.35" r="0.55" fill="#111"/>
<circle cx="365.47" cy="340.97" r="0.55" fill="#111"/>
<circle cx="364.95" cy="322.30" r="0.55" fill="#111"/>
<circle cx="365.93" cy="321.54" r="0.55" fill="#111"/>
<circle cx="366.01" cy="339.62" r="0.55" fill="#111"/>
<circle cx="365.79" cy="337.86" r="0.55" fill="#111"/>
<circle cx="365.22" cy="323.40" r="0.55" fill="#111"/>
<circle cx="364.67" cy="334.29" r="0.55" fill="#111"/>
<circle cx="364.94" cy="313.99" r="0.55" fill="#111"/>
<circle cx="366.09" cy="333.85" r="0.55" fill="#111"/>
<circle cx="366.12" cy="328.09" r="0.55" fill="#111"/>
<circle cx="365.49" cy="343.75" r="0.55" fill="#111"/>
<circle cx="365.54" cy="320.60" r="0.55" fill="#111"/>
<circle cx="366.21" cy="319.05" r="0.55" fill="#111"/>
<circle cx="366.14" cy="313.98" r="0.55" fill="#111"/>
<circle cx="365.73" cy="344.39" r="0.55" fill="#111"/>
<circle cx="364.14" cy="340.09" r="0.55" fill="#111"/>
<circle cx="364.57" cy="343.09" r="0.55" fill="#111"/>
<circle cx="363.96" cy="320.47" r="0.55" fill="#111"/>
<circle cx="366.54" cy="346.76" r="0.55" fill="#111"/>
<circle cx="364.88" cy="334.99" r="0.55" fill="#111"/>
<circle cx="364.85" cy="313.54" r="0.55" fill="#111"/>
<circle cx="365.41" cy="322.85" r="0.55" fill="#111"/>
<circle cx="366.25" cy="335.56" r="0.55" fill="#111"/>
<circle cx="365.32" cy="334.56" r="0.55" fill="#111"/>
<circle cx="365.29" cy="318.03" r="0.55" fill="#111"/>
<circle cx="364.28" cy="313.89" r="0.55" fill="#111"/>
<circle cx="366.39" cy="328.24" r="0.55" fill="#111"/>
<circle cx="365.56" cy="341.17" r="0.55" fill="#111"/>
<circle cx="365.88" cy="341.15" r="0.55" fill="#111"/>
<circle cx="365.19" cy="321.43" r="0.55" fill="#111"/>
<circle cx="364.39" cy="335.57" r="0.55" fill="#111"/>
<circle cx="364.06" cy="311.13" r="0.55" fill="#111"/>
<circle cx="366.80" cy="324.64" r="0.55" fill="#111"/>
<circle cx="366.20" cy="320.86" r="0.55" fill="#111"/>
<circle cx="365.30" cy="337.15" r="0.55" fill="#111"/>
<circle cx="364.82" cy="328.87" r="0.55" fill="#111"/>
<circle cx="364.83" cy="320.72" r="0.55" fill="#111"/>
<circle cx="365.45" cy="321.36" r="0.55" fill="#111"/>
<circle cx="366.33" cy="313.42" r="0.55" fill="#111"/>
<circle cx="363.26" cy="314.57" r="0.55" fill="#111"/>
<circle cx="365.21" cy="340.47" r="0.55" fill="#111"/>
<circle cx="365.28" cy="336.08" r="0.55" fill="#111"/>
<circle cx="364.84" cy="329.91" r="0.55" fill="#111"/>
<circle cx="365.13" cy="310.68" r="0.55" fill="#111"/>
<circle cx="365.28" cy="314.51" r="0.55" fill="#111"/>
<circle cx="364.87" cy="314.71" r="0.55" fill="#111"/>
<circle cx="365.93" cy="318.51" r="0.55" fill="#111"/>
<circle cx="366.49" cy="313.02" r="0.55" fill="#111"/>
<circle cx="366.44" cy="348.41" r="0.55" fill="#111"/>
<circle cx="365.60" cy="345.64" r="0.55" fill="#111"/>
<circle cx="365.64" cy="344.28" r="0.55" fill="#111"/>
<circle cx="365.88" cy="310.60" r="0.55" fill="#111"/>
<circle cx="366.09" cy="347.61" r="0.55" fill="#111"/>
<circle cx="365.63" cy="346.09" r="0.55" fill="#111"/>
<circle cx="364.81" cy="338.61" r="0.55" fill="#111"/>
<circle cx="366.75" cy="346.53" r="0.55" fill="#111"/>
<circle cx="364.24" cy="339.72" r="0.55" fill="#111"/>
<circle cx="365.09" cy="340.68" r="0.55" fill="#111"/>
<circle cx="364.62" cy="332.35" r="0.55" fill="#111"/>
<circle cx="365.16" cy="346.26" r="0.55" fill="#111"/>
<circle cx="365.23" cy="327.45" r="0.55" fill="#111"/>
<circle cx="365.10" cy="343.97" r="0.55" fill="#111"/>
<circle cx="364.55" cy="346.43" r="0.55" fill="#111"/>
<circle cx="365.47" cy="339.49" r="0.55" fill="#111"/>
<circle cx="366.34" cy="343.92" r="0.55" fill="#111"/>
<circle cx="365.96" cy="310.26" r="0.55" fill="#111"/>
<circle cx="365.02" cy="343.07" r="0.55" fill="#111"/>
<circle cx="365.06" cy="310.48" r="0.55" fill="#111"/>
<circle cx="365.82" cy="318.49" r="0.55" fill="#111"/>
<circle cx="365.58" cy="335.65" r="0.55" fill="#111"/>
<circle cx="364.36" cy="345.49" r="0.55" fill="#111"/>
<circle cx="365.14" cy="314.44" r="0.55" fill="#111"/>
<circle cx="365.97" cy="340.92" r="0.55" fill="#111"/>
<circle cx="366.67" cy="338.79" r="0.55" fill="#111"/>
<circle cx="365.22" cy="330.68" r="0.55" fill="#111"/>
<circle cx="365.64" cy="338.84" r="0.55" fill="#111"/>
<circle cx="364.56" cy="336.49" r="0.55" fill="#111"/>
<circle cx="365.49" cy="343.29" r="0.55" fill="#111"/>
<circle cx="364.96" cy="311.17" r="0.55" fill="#111"/>
<circle cx="365.48" cy="337.57" r="0.55" fill="#111"/>
<circle cx="364.90" cy="343.18" r="0.55" fill="#111"/>
<circle cx="365.50" cy="339.52" r="0.55" fill="#111"/>
<circle cx="365.64" cy="335.66" r="0.55" fill="#111"/>
<circle cx="366.09" cy="334.30" r="0.55" fill="#111"/>
<circle cx="366.54" cy="318.40" r="0.55" fill="#111"/>
<circle cx="365.62" cy="342.50" r="0.55" fill="#111"/>
<circle cx="365.19" cy="337.33" r="0.55" fill="#111"/>
<circle cx="365.93" cy="331.44" r="0.55" fill="#111"/>
<circle cx="364.93" cy="326.07" r="0.55" fill="#111"/>
<circle cx="365.64" cy="319.09" r="0.55" fill="#111"/>
<circle cx="364.81" cy="345.54" r="0.55" fill="#111"/>
<circle cx="365.40" cy="311.34" r="0.55" fill="#111"/>
<circle cx="365.21" cy="338.22" r="0.55" fill="#111"/>
<circle cx="364.91" cy="347.04" r="0.55" fill="#111"/>
<circle cx="366.11" cy="326.14" r="0.55" fill="#111"/>
<circle cx="365.72" cy="312.54" r="0.55" fill="#111"/>
<circle cx="364.63" cy="341.27" r="0.55" fill="#111"/>
<circle cx="365.55" cy="311.39" r="0.55" fill="#111"/>
<circle cx="365.72" cy="341.84" r="0.55" fill="#111"/>
<circle cx="365.95" cy="310.91" r="0.55" fill="#111"/>
<circle cx="365.39" cy="325.08" r="0.55" fill="#111"/>
<circle cx="365.62" cy="343.01" r="0.55" fill="#111"/>
<circle cx="364.91" cy="338.94" r="0.55" fill="#111"/>
<circle cx="365.40" cy="323.93" r="0.55" fill="#111"/>
<circle cx="364.31" cy="312.74" r="0.55" fill="#111"/>
<circle cx="364.64" cy="328.32" r="0.55" fill="#111"/>
<circle cx="365.65" cy="331.66" r="0.55" fill="#111"/>
<circle cx="364.63" cy="336.94" r="0.55" fill="#111"/>
<circle cx="365.77" cy="342.27" r="0.55" fill="#111"/>
<circle cx="365.43" cy="336.55" r="0.55" fill="#111"/>
<circle cx="365.64" cy="320.59" r="0.55" fill="#111"/>
<circle cx="364.25" cy="347.10" r="0.55" fill="#111"/>
<circle cx="366.20" cy="347.63" r="0.55" fill="#111"/>
<circle cx="364.54" cy="337.26" r="0.55" fill="#111"/>
<circle cx="366.12" cy="329.58" r="0.55" fill="#111"/>
<circle cx="364.34" cy="347.15" r="0.55" fill="#111"/>
<circle cx="365.29" cy="336.70" r="0.55" fill="#111"/>
<circle cx="365.68" cy="334.57" r="0.55" fill="#111"/>
<circle cx="366.09" cy="326.70" r="0.55" fill="#111"/>
<circle cx="365.37" cy="336.53" r="0.55" fill="#111"/>
<circle cx="364.85" cy="324.42" r="0.55" fill="#111"/>
<circle cx="366.06" cy="319.99" r="0.55" fill="#111"/>
<circle cx="365.11" cy="327.55" r="0.55" fill="#111"/>
<circle cx="365.57" cy="347.63" r="0.55" fill="#111"/>
<circle cx="363.99" cy="329.62" r="0.55" fill="#111"/>
<circle cx="365.10" cy="314.94" r="0.55" fill="#111"/>
<circle cx="365.50" cy="325.60" r="0.55" fill="#111"/>
<circle cx="363.45" cy="327.59" r="0.55" fill="#111"/>
<circle cx="365.54" cy="330.77" r="0.55" fill="#111"/>
<circle cx="365.74" cy="316.47" r="0.55" fill="#111"/>
<circle cx="366.22" cy="330.12" r="0.55" fill="#111"/>
<circle cx="364.61" cy="325.98" r="0.55" fill="#111"/>
<circle cx="365.33" cy="336.43" r="0.55" fill="#111"/>
<circle cx="366.05" cy="333.12" r="0.55" fill="#111"/>
<circle cx="365.54" cy="319.75" r="0.55" fill="#111"/>
<circle cx="364.19" cy="332.72" r="0.55" fill="#111"/>
<circle cx="365.56" cy="347.62" r="0.55" fill="#111"/>
<circle cx="364.71" cy="338.94" r="0.55" fill="#111"/>
<circle cx="364.76" cy="314.41" r="0.55" fill="#111"/>
<circle cx="365.52" cy="338.48" r="0.55" fill="#111"/>
<circle cx="365.92" cy="332.78" r="0.55" fill="#111"/>
<circle cx="365.85" cy="320.33" r="0.55" fill="#111"/>
<circle cx="364.66" cy="347.94" r="0.55" fill="#111"/>
<circle cx="364.72" cy="310.87" r="0.55" fill="#111"/>
<circle cx="365.43" cy="332.42" r="0.55" fill="#111"/>
<circle cx="363.95" cy="335.28" r="0.55" fill="#111"/>
<circle cx="364.44" cy="327.19" r="0.55" fill="#111"/>
<circle cx="365.30" cy="324.45" r="0.55" fill="#111"/>
<circle cx="364.44" cy="320.49" r="0.55" fill="#111"/>
<circle cx="365.34" cy="345.94" r="0.55" fill="#111"/>
<circle cx="365.56" cy="330.98" r="0.55" fill="#111"/>
<circle cx="366.06" cy="345.51" r="0.55" fill="#111"/>
<circle cx="364.32" cy="333.82" r="0.55" fill="#111"/>
<circle cx="365.20" cy="329.93" r="0.55" fill="#111"/>
<circle cx="365.69" cy="327.28" r="0.55" fill="#111"/>
<circle cx="363.50" cy="342.49" r="0.55" fill="#111"/>
<circle cx="364.67" cy="341.20" r="0.55" fill="#111"/>
<circle cx="364.71" cy="331.20" r="0.55" fill="#111"/>
<circle cx="364.92" cy="345.37" r="0.55" fill="#111"/>
<circle cx="365.93" cy="342.48" r="0.55" fill="#111"/>
<circle cx="366.61" cy="336.41" r="0.55" fill="#111"/>
<circle cx="365.28" cy="324.05" r="0.55" fill="#111"/>
<circle cx="364.59" cy="337.06" r="0.55" fill="#111"/>
<line x1="362.60" y1="352.10" x2="368.00" y2="352.10" stroke="#111" stroke-width="0.7" />
<ellipse cx="329.40" cy="360.8" rx="2.6" ry="1.3" fill="#000"/>
<ellipse cx="365.30" cy="360.8" rx="2.6" ry="1.3" fill="#000"/>
<text transform="translate(110.30,371.30) rotate(-45)" font-size="7.6" text-anchor="end" fill="#231f20"><tspan font-style="italic">Atf3</tspan> WT</text>
<text transform="translate(146.10,370.60) rotate(-45)" font-size="7.6" text-anchor="end" fill="#231f20"><tspan font-style="italic">Atf3</tspan> cKO</text>
<text transform="translate(221.50,371.30) rotate(-45)" font-size="7.6" text-anchor="end" fill="#231f20"><tspan font-style="italic">Atf3</tspan> WT</text>
<text transform="translate(258.10,370.60) rotate(-45)" font-size="7.6" text-anchor="end" fill="#231f20"><tspan font-style="italic">Atf3</tspan> cKO</text>
<text transform="translate(333.20,371.30) rotate(-45)" font-size="7.6" text-anchor="end" fill="#231f20"><tspan font-style="italic">Atf3</tspan> WT</text>
<text transform="translate(369.60,370.60) rotate(-45)" font-size="7.6" text-anchor="end" fill="#231f20"><tspan font-style="italic">Atf3</tspan> cKO</text>
<text x="474.7" y="283.3" font-size="8" fill="#231f20">ORA macrophages of <tspan font-style="italic">Atf3</tspan> WT versus <tspan font-style="italic">Atf3</tspan>-cKO mice</text>
<line x1="450.80" y1="285.20" x2="450.80" y2="377.70" stroke="#9a9a9a" stroke-width="0.9" />
<rect x="451.90" y="287.20" width="223.00" height="16.00" fill="#53a679" />
<text x="455.60" y="297.90" font-size="7.9" text-anchor="start" fill="#231f20" >IL-5 signalling pathway WP151</text>
<rect x="451.90" y="305.10" width="192.00" height="16.00" fill="#53a679" />
<text x="455.60" y="315.80" font-size="7.9" text-anchor="start" fill="#231f20" >TNF NF-kB signalling pathway WP246</text>
<rect x="451.90" y="323.20" width="171.60" height="16.00" fill="#72b497" />
<text x="455.60" y="333.90" font-size="7.9" text-anchor="start" fill="#231f20" >mRNA processing WP310</text>
<rect x="451.90" y="341.40" width="141.90" height="16.00" fill="#72b497" />
<text x="455.60" y="352.10" font-size="7.9" text-anchor="start" fill="#231f20" >TGFβ signalling pathway WP113</text>
<rect x="451.90" y="359.40" width="120.40" height="16.00" fill="#72b497" />
<text x="455.60" y="370.10" font-size="7.9" text-anchor="start" fill="#231f20" >IL-6 signalling pathway WP387</text>
<line x1="451.60" y1="380.00" x2="685.00" y2="380.00" stroke="#9a9a9a" stroke-width="0.9" />
<line x1="452.00" y1="378.00" x2="452.00" y2="380.00" stroke="#9a9a9a" stroke-width="0.9" />
<text x="452.00" y="391.30" font-size="7.3" text-anchor="middle" fill="#231f20" >0</text>
<line x1="484.27" y1="378.00" x2="484.27" y2="380.00" stroke="#9a9a9a" stroke-width="0.9" />
<text x="484.27" y="391.30" font-size="7.3" text-anchor="middle" fill="#231f20" >1</text>
<line x1="516.54" y1="378.00" x2="516.54" y2="380.00" stroke="#9a9a9a" stroke-width="0.9" />
<text x="516.54" y="391.30" font-size="7.3" text-anchor="middle" fill="#231f20" >2</text>
<line x1="548.81" y1="378.00" x2="548.81" y2="380.00" stroke="#9a9a9a" stroke-width="0.9" />
<text x="548.81" y="391.30" font-size="7.3" text-anchor="middle" fill="#231f20" >3</text>
<line x1="581.08" y1="378.00" x2="581.08" y2="380.00" stroke="#9a9a9a" stroke-width="0.9" />
<text x="581.08" y="391.30" font-size="7.3" text-anchor="middle" fill="#231f20" >4</text>
<line x1="613.35" y1="378.00" x2="613.35" y2="380.00" stroke="#9a9a9a" stroke-width="0.9" />
<text x="613.35" y="391.30" font-size="7.3" text-anchor="middle" fill="#231f20" >5</text>
<line x1="645.62" y1="378.00" x2="645.62" y2="380.00" stroke="#9a9a9a" stroke-width="0.9" />
<text x="645.62" y="391.30" font-size="7.3" text-anchor="middle" fill="#231f20" >6</text>
<line x1="677.89" y1="378.00" x2="677.89" y2="380.00" stroke="#9a9a9a" stroke-width="0.9" />
<text x="677.89" y="391.30" font-size="7.3" text-anchor="middle" fill="#231f20" >7</text>
<text x="568.5" y="401.5" font-size="8" text-anchor="middle" fill="#231f20">−log<tspan font-size="5.5" dy="2">10</tspan><tspan dy="-2">[</tspan><tspan font-style="italic">P</tspan>]</text>
<text transform="translate(434.8,338.6) rotate(-90)" font-size="8" text-anchor="middle" fill="#231f20">WikiPathways</text>
<text transform="translate(444.9,338.6) rotate(-90)" font-size="8" text-anchor="middle" fill="#231f20">2019 (mouse)</text>
</svg>
</body></html>
